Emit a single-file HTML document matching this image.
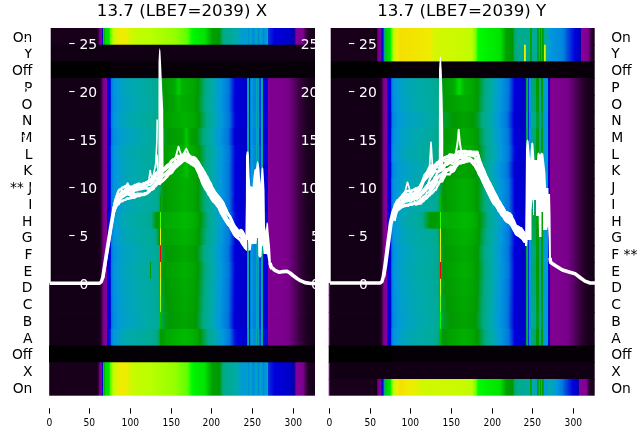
<!DOCTYPE html>
<html><head><meta charset="utf-8"><title>plot</title>
<style>html,body{margin:0;padding:0;background:#fff;overflow:hidden}svg{display:block}
text{font-family:"DejaVu Sans","Liberation Sans",sans-serif}</style></head>
<body><svg width="640" height="440" viewBox="0 0 640 440">
<defs><linearGradient id="g0"><stop offset="0.0000" stop-color="#7e008f"/><stop offset="0.0028" stop-color="#7e008f"/><stop offset="0.0038" stop-color="#770088"/><stop offset="0.0047" stop-color="#18001b"/><stop offset="0.1805" stop-color="#18001b"/><stop offset="0.1880" stop-color="#470052"/><stop offset="0.1898" stop-color="#6b007a"/><stop offset="0.1908" stop-color="#780089"/><stop offset="0.1983" stop-color="#880099"/><stop offset="0.1992" stop-color="#4a00a1"/><stop offset="0.2002" stop-color="#0000ab"/><stop offset="0.2011" stop-color="#0000c9"/><stop offset="0.2021" stop-color="#002add"/><stop offset="0.2030" stop-color="#007add"/><stop offset="0.2039" stop-color="#0094dd"/><stop offset="0.2049" stop-color="#00a6b7"/><stop offset="0.2058" stop-color="#00aa93"/><stop offset="0.2068" stop-color="#009f33"/><stop offset="0.2077" stop-color="#00a400"/><stop offset="0.2105" stop-color="#00dd00"/><stop offset="0.2256" stop-color="#00e400"/><stop offset="0.2274" stop-color="#00f800"/><stop offset="0.2284" stop-color="#13ff00"/><stop offset="0.2293" stop-color="#4bff00"/><stop offset="0.2406" stop-color="#bbff00"/><stop offset="0.2538" stop-color="#daf500"/><stop offset="0.2650" stop-color="#eeee00"/><stop offset="0.2838" stop-color="#f0eb00"/><stop offset="0.2876" stop-color="#eeee00"/><stop offset="0.3139" stop-color="#cafa00"/><stop offset="0.3402" stop-color="#c0fd00"/><stop offset="0.3778" stop-color="#bbff00"/><stop offset="0.4718" stop-color="#96ff00"/><stop offset="0.5207" stop-color="#5dff00"/><stop offset="0.5357" stop-color="#00ff00"/><stop offset="0.5470" stop-color="#00f100"/><stop offset="0.5846" stop-color="#00e400"/><stop offset="0.6147" stop-color="#00a000"/><stop offset="0.6410" stop-color="#009900"/><stop offset="0.6485" stop-color="#00a352"/><stop offset="0.6560" stop-color="#00aa88"/><stop offset="0.6861" stop-color="#00aa99"/><stop offset="0.7049" stop-color="#00aaaa"/><stop offset="0.7086" stop-color="#00a8af"/><stop offset="0.7256" stop-color="#009cd3"/><stop offset="0.7387" stop-color="#0099dd"/><stop offset="0.7425" stop-color="#00a3be"/><stop offset="0.7472" stop-color="#0098dd"/><stop offset="0.7500" stop-color="#008bdd"/><stop offset="0.7528" stop-color="#0098dd"/><stop offset="0.7575" stop-color="#00a3be"/><stop offset="0.7632" stop-color="#0099dd"/><stop offset="0.7688" stop-color="#0085dd"/><stop offset="0.7744" stop-color="#0099dd"/><stop offset="0.7801" stop-color="#00a3be"/><stop offset="0.7838" stop-color="#0099dd"/><stop offset="0.7876" stop-color="#0085dd"/><stop offset="0.7914" stop-color="#0099dd"/><stop offset="0.7951" stop-color="#00a3be"/><stop offset="0.8008" stop-color="#0099dd"/><stop offset="0.8064" stop-color="#0085dd"/><stop offset="0.8139" stop-color="#0099dd"/><stop offset="0.8214" stop-color="#00a3be"/><stop offset="0.8224" stop-color="#009ada"/><stop offset="0.8233" stop-color="#0088dd"/><stop offset="0.8242" stop-color="#0071dd"/><stop offset="0.8252" stop-color="#0030dd"/><stop offset="0.8477" stop-color="#0000dd"/><stop offset="0.9041" stop-color="#0000c9"/><stop offset="0.9211" stop-color="#0000aa"/><stop offset="0.9286" stop-color="#6d009c"/><stop offset="0.9305" stop-color="#83009a"/><stop offset="0.9314" stop-color="#870098"/><stop offset="0.9342" stop-color="#830094"/><stop offset="0.9492" stop-color="#800090"/><stop offset="0.9568" stop-color="#770088"/><stop offset="0.9662" stop-color="#3c0044"/><stop offset="0.9756" stop-color="#1d0021"/><stop offset="1.0000" stop-color="#18001c"/></linearGradient>
<linearGradient id="g1"><stop offset="0.0000" stop-color="#7a008b"/><stop offset="0.0028" stop-color="#7a008b"/><stop offset="0.0038" stop-color="#650073"/><stop offset="0.0047" stop-color="#110013"/><stop offset="1.0000" stop-color="#110013"/></linearGradient>
<linearGradient id="g2"><stop offset="0.0000" stop-color="#000000"/><stop offset="0.2293" stop-color="#000000"/><stop offset="0.2331" stop-color="#070008"/><stop offset="1.0000" stop-color="#070008"/></linearGradient>
<linearGradient id="g3"><stop offset="0.0000" stop-color="#7e008f"/><stop offset="0.0028" stop-color="#7e008f"/><stop offset="0.0038" stop-color="#750086"/><stop offset="0.0047" stop-color="#130016"/><stop offset="0.1880" stop-color="#130016"/><stop offset="0.1917" stop-color="#1d0021"/><stop offset="0.1955" stop-color="#2b0031"/><stop offset="0.1992" stop-color="#470052"/><stop offset="0.2030" stop-color="#770088"/><stop offset="0.2068" stop-color="#810092"/><stop offset="0.2105" stop-color="#860097"/><stop offset="0.2171" stop-color="#880099"/><stop offset="0.2190" stop-color="#0c00a8"/><stop offset="0.2199" stop-color="#0000b9"/><stop offset="0.2218" stop-color="#0000dd"/><stop offset="0.2303" stop-color="#0000dd"/><stop offset="0.2312" stop-color="#0018dd"/><stop offset="0.2340" stop-color="#0071dd"/><stop offset="0.2350" stop-color="#0079dd"/><stop offset="0.2425" stop-color="#0092dd"/><stop offset="0.2519" stop-color="#0099dd"/><stop offset="0.2801" stop-color="#00a3be"/><stop offset="0.3318" stop-color="#00aaaa"/><stop offset="0.3778" stop-color="#00aa9f"/><stop offset="0.4004" stop-color="#00aa96"/><stop offset="0.4107" stop-color="#00aa86"/><stop offset="0.4154" stop-color="#00a76d"/><stop offset="0.4267" stop-color="#009c1b"/><stop offset="0.4342" stop-color="#009900"/><stop offset="0.4690" stop-color="#00a800"/><stop offset="0.4737" stop-color="#00ae00"/><stop offset="0.4831" stop-color="#00c700"/><stop offset="0.4868" stop-color="#00cc00"/><stop offset="0.4906" stop-color="#00c900"/><stop offset="0.4991" stop-color="#00b600"/><stop offset="0.5038" stop-color="#00b000"/><stop offset="0.5395" stop-color="#00a800"/><stop offset="0.5611" stop-color="#009900"/><stop offset="0.5714" stop-color="#00a036"/><stop offset="0.5827" stop-color="#00a76d"/><stop offset="0.5902" stop-color="#00aa88"/><stop offset="0.5977" stop-color="#00aa8f"/><stop offset="0.6090" stop-color="#00aaa3"/><stop offset="0.6156" stop-color="#00aaab"/><stop offset="0.6466" stop-color="#0099dd"/><stop offset="0.6767" stop-color="#0077dd"/><stop offset="0.6992" stop-color="#0000dd"/><stop offset="0.7425" stop-color="#0000c9"/><stop offset="0.7434" stop-color="#0015dd"/><stop offset="0.7444" stop-color="#00aaa8"/><stop offset="0.7453" stop-color="#00a76d"/><stop offset="0.7491" stop-color="#00a76d"/><stop offset="0.7500" stop-color="#00aaa5"/><stop offset="0.7509" stop-color="#003edd"/><stop offset="0.7519" stop-color="#0000dd"/><stop offset="0.7556" stop-color="#0000dd"/><stop offset="0.7566" stop-color="#0018dd"/><stop offset="0.7575" stop-color="#007edd"/><stop offset="0.7585" stop-color="#0099dd"/><stop offset="0.7669" stop-color="#0099dd"/><stop offset="0.7688" stop-color="#0088dd"/><stop offset="0.7791" stop-color="#0088dd"/><stop offset="0.7801" stop-color="#00a7b2"/><stop offset="0.7810" stop-color="#00a76d"/><stop offset="0.7867" stop-color="#00a76d"/><stop offset="0.7876" stop-color="#00a0c9"/><stop offset="0.7885" stop-color="#0047dd"/><stop offset="0.7961" stop-color="#0047dd"/><stop offset="0.7970" stop-color="#009bd8"/><stop offset="0.7979" stop-color="#00aa96"/><stop offset="0.8036" stop-color="#00aa96"/><stop offset="0.8045" stop-color="#0092dd"/><stop offset="0.8055" stop-color="#0000dd"/><stop offset="0.8224" stop-color="#0000dd"/><stop offset="0.8233" stop-color="#0000cc"/><stop offset="0.8242" stop-color="#1700a7"/><stop offset="0.8252" stop-color="#880099"/><stop offset="0.8289" stop-color="#7f0090"/><stop offset="0.8665" stop-color="#7e008f"/><stop offset="0.9004" stop-color="#770088"/><stop offset="0.9492" stop-color="#300036"/><stop offset="0.9737" stop-color="#1a001e"/><stop offset="1.0000" stop-color="#140016"/></linearGradient>
<linearGradient id="g4"><stop offset="0.0000" stop-color="#7e008f"/><stop offset="0.0028" stop-color="#7e008f"/><stop offset="0.0038" stop-color="#750086"/><stop offset="0.0047" stop-color="#130016"/><stop offset="0.1880" stop-color="#130016"/><stop offset="0.1917" stop-color="#1d0021"/><stop offset="0.1955" stop-color="#2b0031"/><stop offset="0.1992" stop-color="#470052"/><stop offset="0.2030" stop-color="#770088"/><stop offset="0.2068" stop-color="#810092"/><stop offset="0.2105" stop-color="#860097"/><stop offset="0.2171" stop-color="#880099"/><stop offset="0.2190" stop-color="#1000a8"/><stop offset="0.2199" stop-color="#0000b7"/><stop offset="0.2218" stop-color="#0000db"/><stop offset="0.2303" stop-color="#0000db"/><stop offset="0.2312" stop-color="#0013dd"/><stop offset="0.2340" stop-color="#006bdd"/><stop offset="0.2350" stop-color="#0078dd"/><stop offset="0.2425" stop-color="#0090dd"/><stop offset="0.2547" stop-color="#0099dd"/><stop offset="0.2801" stop-color="#00a2c2"/><stop offset="0.3412" stop-color="#00aaaa"/><stop offset="0.3778" stop-color="#00aaa2"/><stop offset="0.4004" stop-color="#00aa98"/><stop offset="0.4126" stop-color="#00aa87"/><stop offset="0.4154" stop-color="#00a878"/><stop offset="0.4267" stop-color="#009e27"/><stop offset="0.4380" stop-color="#009900"/><stop offset="0.4690" stop-color="#00a300"/><stop offset="0.4878" stop-color="#00b500"/><stop offset="0.5019" stop-color="#00ac00"/><stop offset="0.5395" stop-color="#00a500"/><stop offset="0.5592" stop-color="#009901"/><stop offset="0.5714" stop-color="#00a142"/><stop offset="0.5827" stop-color="#00a878"/><stop offset="0.5874" stop-color="#00aa88"/><stop offset="0.5977" stop-color="#00aa91"/><stop offset="0.6090" stop-color="#00aaa6"/><stop offset="0.6128" stop-color="#00aaaa"/><stop offset="0.6447" stop-color="#0099dd"/><stop offset="0.6758" stop-color="#0075dd"/><stop offset="0.6983" stop-color="#0000dd"/><stop offset="0.7425" stop-color="#0000c7"/><stop offset="0.7434" stop-color="#0010dd"/><stop offset="0.7444" stop-color="#00aaab"/><stop offset="0.7453" stop-color="#00a878"/><stop offset="0.7491" stop-color="#00a878"/><stop offset="0.7500" stop-color="#00aaa7"/><stop offset="0.7509" stop-color="#0039dd"/><stop offset="0.7519" stop-color="#0000db"/><stop offset="0.7556" stop-color="#0000db"/><stop offset="0.7566" stop-color="#0013dd"/><stop offset="0.7575" stop-color="#007cdd"/><stop offset="0.7585" stop-color="#0097dd"/><stop offset="0.7669" stop-color="#0097dd"/><stop offset="0.7688" stop-color="#0086dd"/><stop offset="0.7791" stop-color="#0086dd"/><stop offset="0.7801" stop-color="#00a6b5"/><stop offset="0.7810" stop-color="#00a878"/><stop offset="0.7867" stop-color="#00a878"/><stop offset="0.7876" stop-color="#009fcc"/><stop offset="0.7885" stop-color="#0042dd"/><stop offset="0.7961" stop-color="#0042dd"/><stop offset="0.7970" stop-color="#009adb"/><stop offset="0.7979" stop-color="#00aa98"/><stop offset="0.8036" stop-color="#00aa98"/><stop offset="0.8045" stop-color="#0090dd"/><stop offset="0.8055" stop-color="#0000db"/><stop offset="0.8224" stop-color="#0000db"/><stop offset="0.8233" stop-color="#0000ca"/><stop offset="0.8242" stop-color="#1b00a7"/><stop offset="0.8252" stop-color="#880099"/><stop offset="0.8289" stop-color="#7f0090"/><stop offset="0.8665" stop-color="#7e008f"/><stop offset="0.9004" stop-color="#770088"/><stop offset="0.9492" stop-color="#300036"/><stop offset="0.9737" stop-color="#1a001e"/><stop offset="1.0000" stop-color="#140016"/></linearGradient>
<linearGradient id="g5"><stop offset="0.0000" stop-color="#7e008f"/><stop offset="0.0028" stop-color="#7e008f"/><stop offset="0.0038" stop-color="#750086"/><stop offset="0.0047" stop-color="#130016"/><stop offset="0.1880" stop-color="#130016"/><stop offset="0.1917" stop-color="#1d0021"/><stop offset="0.1955" stop-color="#2b0031"/><stop offset="0.1992" stop-color="#470052"/><stop offset="0.2030" stop-color="#770088"/><stop offset="0.2068" stop-color="#810092"/><stop offset="0.2105" stop-color="#860097"/><stop offset="0.2171" stop-color="#880099"/><stop offset="0.2190" stop-color="#0900a9"/><stop offset="0.2199" stop-color="#0000ba"/><stop offset="0.2209" stop-color="#0000cd"/><stop offset="0.2218" stop-color="#0005dd"/><stop offset="0.2303" stop-color="#0005dd"/><stop offset="0.2312" stop-color="#001ddd"/><stop offset="0.2340" stop-color="#0077dd"/><stop offset="0.2425" stop-color="#0094dd"/><stop offset="0.2491" stop-color="#0099dd"/><stop offset="0.2801" stop-color="#00a4bb"/><stop offset="0.3224" stop-color="#00aaaa"/><stop offset="0.3778" stop-color="#00aa9d"/><stop offset="0.4004" stop-color="#00aa93"/><stop offset="0.4088" stop-color="#00aa86"/><stop offset="0.4154" stop-color="#00a562"/><stop offset="0.4267" stop-color="#009b0f"/><stop offset="0.4314" stop-color="#009900"/><stop offset="0.4380" stop-color="#009f00"/><stop offset="0.4530" stop-color="#00a400"/><stop offset="0.5094" stop-color="#00b200"/><stop offset="0.5395" stop-color="#00ab00"/><stop offset="0.5583" stop-color="#00a000"/><stop offset="0.5630" stop-color="#009a00"/><stop offset="0.5639" stop-color="#009902"/><stop offset="0.5714" stop-color="#009e2b"/><stop offset="0.5827" stop-color="#00a562"/><stop offset="0.5930" stop-color="#00aa87"/><stop offset="0.5977" stop-color="#00aa8c"/><stop offset="0.6090" stop-color="#00aaa1"/><stop offset="0.6175" stop-color="#00aaaa"/><stop offset="0.6485" stop-color="#0099dd"/><stop offset="0.6776" stop-color="#0077dd"/><stop offset="0.6992" stop-color="#0005dd"/><stop offset="0.7030" stop-color="#0000dd"/><stop offset="0.7425" stop-color="#0000cb"/><stop offset="0.7434" stop-color="#001add"/><stop offset="0.7444" stop-color="#00aaa6"/><stop offset="0.7453" stop-color="#00a562"/><stop offset="0.7491" stop-color="#00a562"/><stop offset="0.7500" stop-color="#00aaa2"/><stop offset="0.7509" stop-color="#0044dd"/><stop offset="0.7519" stop-color="#0005dd"/><stop offset="0.7556" stop-color="#0005dd"/><stop offset="0.7566" stop-color="#001ddd"/><stop offset="0.7575" stop-color="#0080dd"/><stop offset="0.7585" stop-color="#009ada"/><stop offset="0.7669" stop-color="#009ada"/><stop offset="0.7688" stop-color="#008add"/><stop offset="0.7791" stop-color="#008add"/><stop offset="0.7801" stop-color="#00a9ae"/><stop offset="0.7810" stop-color="#00a562"/><stop offset="0.7867" stop-color="#00a562"/><stop offset="0.7876" stop-color="#00a1c5"/><stop offset="0.7885" stop-color="#004ddd"/><stop offset="0.7961" stop-color="#004ddd"/><stop offset="0.7970" stop-color="#009cd5"/><stop offset="0.7979" stop-color="#00aa93"/><stop offset="0.8036" stop-color="#00aa93"/><stop offset="0.8045" stop-color="#0094dd"/><stop offset="0.8055" stop-color="#0005dd"/><stop offset="0.8224" stop-color="#0005dd"/><stop offset="0.8233" stop-color="#0000ce"/><stop offset="0.8242" stop-color="#1300a8"/><stop offset="0.8252" stop-color="#880099"/><stop offset="0.8289" stop-color="#7f0090"/><stop offset="0.8665" stop-color="#7e008f"/><stop offset="0.9004" stop-color="#770088"/><stop offset="0.9492" stop-color="#300036"/><stop offset="0.9737" stop-color="#1a001e"/><stop offset="1.0000" stop-color="#140016"/></linearGradient>
<linearGradient id="g6"><stop offset="0.0000" stop-color="#7e008f"/><stop offset="0.0028" stop-color="#7e008f"/><stop offset="0.0038" stop-color="#750086"/><stop offset="0.0047" stop-color="#130016"/><stop offset="0.1880" stop-color="#130016"/><stop offset="0.1917" stop-color="#1d0021"/><stop offset="0.1955" stop-color="#2b0031"/><stop offset="0.1992" stop-color="#470052"/><stop offset="0.2030" stop-color="#770088"/><stop offset="0.2068" stop-color="#810092"/><stop offset="0.2105" stop-color="#860097"/><stop offset="0.2171" stop-color="#880099"/><stop offset="0.2180" stop-color="#5300a0"/><stop offset="0.2190" stop-color="#1600a7"/><stop offset="0.2199" stop-color="#0000b4"/><stop offset="0.2218" stop-color="#0000d8"/><stop offset="0.2303" stop-color="#0000d8"/><stop offset="0.2312" stop-color="#000bdd"/><stop offset="0.2340" stop-color="#0062dd"/><stop offset="0.2350" stop-color="#0071dd"/><stop offset="0.2359" stop-color="#0078dd"/><stop offset="0.2425" stop-color="#008ddd"/><stop offset="0.2585" stop-color="#0099dd"/><stop offset="0.2801" stop-color="#00a0c7"/><stop offset="0.3562" stop-color="#00aaaa"/><stop offset="0.3778" stop-color="#00aaa5"/><stop offset="0.4004" stop-color="#00aa9c"/><stop offset="0.4154" stop-color="#00aa88"/><stop offset="0.4267" stop-color="#00a039"/><stop offset="0.4380" stop-color="#009b11"/><stop offset="0.4521" stop-color="#009900"/><stop offset="0.5009" stop-color="#00a500"/><stop offset="0.5066" stop-color="#00ac00"/><stop offset="0.5141" stop-color="#00c400"/><stop offset="0.5169" stop-color="#00c700"/><stop offset="0.5197" stop-color="#00c200"/><stop offset="0.5254" stop-color="#00ae00"/><stop offset="0.5291" stop-color="#00a500"/><stop offset="0.5517" stop-color="#009900"/><stop offset="0.5583" stop-color="#009b0f"/><stop offset="0.5714" stop-color="#00a354"/><stop offset="0.5827" stop-color="#00aa88"/><stop offset="0.5977" stop-color="#00aa95"/><stop offset="0.6100" stop-color="#00aaaa"/><stop offset="0.6419" stop-color="#0099dd"/><stop offset="0.6729" stop-color="#0077dd"/><stop offset="0.6767" stop-color="#0068dd"/><stop offset="0.6964" stop-color="#0003dd"/><stop offset="0.6974" stop-color="#0000dc"/><stop offset="0.6992" stop-color="#0000d8"/><stop offset="0.7425" stop-color="#0000c4"/><stop offset="0.7434" stop-color="#0008dd"/><stop offset="0.7444" stop-color="#00a8b0"/><stop offset="0.7453" stop-color="#00aa88"/><stop offset="0.7491" stop-color="#00aa88"/><stop offset="0.7500" stop-color="#00aaab"/><stop offset="0.7509" stop-color="#0031dd"/><stop offset="0.7519" stop-color="#0000d8"/><stop offset="0.7556" stop-color="#0000d8"/><stop offset="0.7566" stop-color="#000bdd"/><stop offset="0.7575" stop-color="#0079dd"/><stop offset="0.7585" stop-color="#0094dd"/><stop offset="0.7669" stop-color="#0094dd"/><stop offset="0.7688" stop-color="#0083dd"/><stop offset="0.7791" stop-color="#0083dd"/><stop offset="0.7801" stop-color="#00a5ba"/><stop offset="0.7810" stop-color="#00aa88"/><stop offset="0.7867" stop-color="#00aa88"/><stop offset="0.7876" stop-color="#009dd1"/><stop offset="0.7885" stop-color="#003add"/><stop offset="0.7961" stop-color="#003add"/><stop offset="0.7970" stop-color="#0097dd"/><stop offset="0.7979" stop-color="#00aa9c"/><stop offset="0.8036" stop-color="#00aa9c"/><stop offset="0.8045" stop-color="#008ddd"/><stop offset="0.8055" stop-color="#0000d8"/><stop offset="0.8224" stop-color="#0000d8"/><stop offset="0.8233" stop-color="#0000c7"/><stop offset="0.8242" stop-color="#2000a6"/><stop offset="0.8252" stop-color="#880099"/><stop offset="0.8289" stop-color="#7f0090"/><stop offset="0.8665" stop-color="#7e008f"/><stop offset="0.9004" stop-color="#770088"/><stop offset="0.9492" stop-color="#300036"/><stop offset="0.9737" stop-color="#1a001e"/><stop offset="1.0000" stop-color="#140016"/></linearGradient>
<linearGradient id="g7"><stop offset="0.0000" stop-color="#7e008f"/><stop offset="0.0028" stop-color="#7e008f"/><stop offset="0.0038" stop-color="#750086"/><stop offset="0.0047" stop-color="#130016"/><stop offset="0.1880" stop-color="#130016"/><stop offset="0.1917" stop-color="#1d0021"/><stop offset="0.1955" stop-color="#2b0031"/><stop offset="0.1992" stop-color="#470052"/><stop offset="0.2030" stop-color="#770088"/><stop offset="0.2068" stop-color="#810092"/><stop offset="0.2105" stop-color="#860097"/><stop offset="0.2171" stop-color="#880099"/><stop offset="0.2190" stop-color="#0900a9"/><stop offset="0.2199" stop-color="#0000ba"/><stop offset="0.2209" stop-color="#0000cd"/><stop offset="0.2218" stop-color="#0005dd"/><stop offset="0.2303" stop-color="#0005dd"/><stop offset="0.2312" stop-color="#001ddd"/><stop offset="0.2340" stop-color="#0077dd"/><stop offset="0.2425" stop-color="#0094dd"/><stop offset="0.2491" stop-color="#0099dd"/><stop offset="0.2801" stop-color="#00a4bb"/><stop offset="0.3224" stop-color="#00aaaa"/><stop offset="0.3778" stop-color="#00aa9d"/><stop offset="0.4004" stop-color="#00aa93"/><stop offset="0.4088" stop-color="#00aa86"/><stop offset="0.4154" stop-color="#00a562"/><stop offset="0.4267" stop-color="#009b0f"/><stop offset="0.4314" stop-color="#009900"/><stop offset="0.4380" stop-color="#009f00"/><stop offset="0.5019" stop-color="#00b100"/><stop offset="0.5066" stop-color="#00b700"/><stop offset="0.5141" stop-color="#00c900"/><stop offset="0.5169" stop-color="#00cc00"/><stop offset="0.5197" stop-color="#00c800"/><stop offset="0.5263" stop-color="#00b500"/><stop offset="0.5301" stop-color="#00af00"/><stop offset="0.5583" stop-color="#00a000"/><stop offset="0.5630" stop-color="#009a00"/><stop offset="0.5639" stop-color="#009902"/><stop offset="0.5714" stop-color="#009e2b"/><stop offset="0.5827" stop-color="#00a562"/><stop offset="0.5930" stop-color="#00aa87"/><stop offset="0.5977" stop-color="#00aa8c"/><stop offset="0.6090" stop-color="#00aaa1"/><stop offset="0.6175" stop-color="#00aaaa"/><stop offset="0.6485" stop-color="#0099dd"/><stop offset="0.6776" stop-color="#0077dd"/><stop offset="0.6992" stop-color="#0005dd"/><stop offset="0.7030" stop-color="#0000dd"/><stop offset="0.7425" stop-color="#0000cb"/><stop offset="0.7434" stop-color="#001add"/><stop offset="0.7444" stop-color="#00aaa6"/><stop offset="0.7453" stop-color="#00a562"/><stop offset="0.7491" stop-color="#00a562"/><stop offset="0.7500" stop-color="#00aaa2"/><stop offset="0.7509" stop-color="#0044dd"/><stop offset="0.7519" stop-color="#0005dd"/><stop offset="0.7556" stop-color="#0005dd"/><stop offset="0.7566" stop-color="#001ddd"/><stop offset="0.7575" stop-color="#0080dd"/><stop offset="0.7585" stop-color="#009ada"/><stop offset="0.7669" stop-color="#009ada"/><stop offset="0.7688" stop-color="#008add"/><stop offset="0.7791" stop-color="#008add"/><stop offset="0.7801" stop-color="#00a9ae"/><stop offset="0.7810" stop-color="#00a562"/><stop offset="0.7867" stop-color="#00a562"/><stop offset="0.7876" stop-color="#00a1c5"/><stop offset="0.7885" stop-color="#004ddd"/><stop offset="0.7961" stop-color="#004ddd"/><stop offset="0.7970" stop-color="#009cd5"/><stop offset="0.7979" stop-color="#00aa93"/><stop offset="0.8036" stop-color="#00aa93"/><stop offset="0.8045" stop-color="#0094dd"/><stop offset="0.8055" stop-color="#0005dd"/><stop offset="0.8224" stop-color="#0005dd"/><stop offset="0.8233" stop-color="#0000ce"/><stop offset="0.8242" stop-color="#1300a8"/><stop offset="0.8252" stop-color="#880099"/><stop offset="0.8289" stop-color="#7f0090"/><stop offset="0.8665" stop-color="#7e008f"/><stop offset="0.9004" stop-color="#770088"/><stop offset="0.9492" stop-color="#300036"/><stop offset="0.9737" stop-color="#1a001e"/><stop offset="1.0000" stop-color="#140016"/></linearGradient>
<linearGradient id="g8"><stop offset="0.0000" stop-color="#7e008f"/><stop offset="0.0028" stop-color="#7e008f"/><stop offset="0.0038" stop-color="#750086"/><stop offset="0.0047" stop-color="#130016"/><stop offset="0.1880" stop-color="#130016"/><stop offset="0.1917" stop-color="#1d0021"/><stop offset="0.1955" stop-color="#2b0031"/><stop offset="0.1992" stop-color="#470052"/><stop offset="0.2030" stop-color="#770088"/><stop offset="0.2068" stop-color="#810092"/><stop offset="0.2105" stop-color="#860097"/><stop offset="0.2171" stop-color="#880099"/><stop offset="0.2190" stop-color="#0c00a8"/><stop offset="0.2199" stop-color="#0000b9"/><stop offset="0.2218" stop-color="#0000dd"/><stop offset="0.2303" stop-color="#0000dd"/><stop offset="0.2312" stop-color="#0018dd"/><stop offset="0.2340" stop-color="#0071dd"/><stop offset="0.2350" stop-color="#0079dd"/><stop offset="0.2425" stop-color="#0092dd"/><stop offset="0.2519" stop-color="#0099dd"/><stop offset="0.2801" stop-color="#00a3be"/><stop offset="0.3318" stop-color="#00aaaa"/><stop offset="0.3778" stop-color="#00aa9f"/><stop offset="0.4004" stop-color="#00aa96"/><stop offset="0.4107" stop-color="#00aa86"/><stop offset="0.4154" stop-color="#00a76d"/><stop offset="0.4267" stop-color="#009c1b"/><stop offset="0.4342" stop-color="#009900"/><stop offset="0.4530" stop-color="#00a100"/><stop offset="0.5019" stop-color="#00ae00"/><stop offset="0.5169" stop-color="#00c100"/><stop offset="0.5291" stop-color="#00ac00"/><stop offset="0.5583" stop-color="#009d00"/><stop offset="0.5611" stop-color="#009900"/><stop offset="0.5714" stop-color="#00a036"/><stop offset="0.5827" stop-color="#00a76d"/><stop offset="0.5902" stop-color="#00aa88"/><stop offset="0.5977" stop-color="#00aa8f"/><stop offset="0.6090" stop-color="#00aaa3"/><stop offset="0.6156" stop-color="#00aaab"/><stop offset="0.6466" stop-color="#0099dd"/><stop offset="0.6767" stop-color="#0077dd"/><stop offset="0.6992" stop-color="#0000dd"/><stop offset="0.7425" stop-color="#0000c9"/><stop offset="0.7434" stop-color="#0015dd"/><stop offset="0.7444" stop-color="#00aaa8"/><stop offset="0.7453" stop-color="#00a76d"/><stop offset="0.7491" stop-color="#00a76d"/><stop offset="0.7500" stop-color="#00aaa5"/><stop offset="0.7509" stop-color="#003edd"/><stop offset="0.7519" stop-color="#0000dd"/><stop offset="0.7556" stop-color="#0000dd"/><stop offset="0.7566" stop-color="#0018dd"/><stop offset="0.7575" stop-color="#007edd"/><stop offset="0.7585" stop-color="#0099dd"/><stop offset="0.7669" stop-color="#0099dd"/><stop offset="0.7688" stop-color="#0088dd"/><stop offset="0.7791" stop-color="#0088dd"/><stop offset="0.7801" stop-color="#00a7b2"/><stop offset="0.7810" stop-color="#00a76d"/><stop offset="0.7867" stop-color="#00a76d"/><stop offset="0.7876" stop-color="#00a0c9"/><stop offset="0.7885" stop-color="#0047dd"/><stop offset="0.7961" stop-color="#0047dd"/><stop offset="0.7970" stop-color="#009bd8"/><stop offset="0.7979" stop-color="#00aa96"/><stop offset="0.8036" stop-color="#00aa96"/><stop offset="0.8045" stop-color="#0092dd"/><stop offset="0.8055" stop-color="#0000dd"/><stop offset="0.8224" stop-color="#0000dd"/><stop offset="0.8233" stop-color="#0000cc"/><stop offset="0.8242" stop-color="#1700a7"/><stop offset="0.8252" stop-color="#880099"/><stop offset="0.8289" stop-color="#7f0090"/><stop offset="0.8665" stop-color="#7e008f"/><stop offset="0.9004" stop-color="#770088"/><stop offset="0.9492" stop-color="#300036"/><stop offset="0.9737" stop-color="#1a001e"/><stop offset="1.0000" stop-color="#140016"/></linearGradient>
<linearGradient id="g9"><stop offset="0.0000" stop-color="#7e008f"/><stop offset="0.0028" stop-color="#7e008f"/><stop offset="0.0038" stop-color="#750086"/><stop offset="0.0047" stop-color="#130016"/><stop offset="0.1880" stop-color="#130016"/><stop offset="0.1917" stop-color="#1d0021"/><stop offset="0.1955" stop-color="#2b0031"/><stop offset="0.1992" stop-color="#470052"/><stop offset="0.2030" stop-color="#770088"/><stop offset="0.2068" stop-color="#810092"/><stop offset="0.2105" stop-color="#860097"/><stop offset="0.2171" stop-color="#880099"/><stop offset="0.2190" stop-color="#0c00a8"/><stop offset="0.2199" stop-color="#0000b9"/><stop offset="0.2218" stop-color="#0000dd"/><stop offset="0.2303" stop-color="#0000dd"/><stop offset="0.2312" stop-color="#0018dd"/><stop offset="0.2340" stop-color="#0071dd"/><stop offset="0.2350" stop-color="#0079dd"/><stop offset="0.2425" stop-color="#0092dd"/><stop offset="0.2519" stop-color="#0099dd"/><stop offset="0.2801" stop-color="#00a3be"/><stop offset="0.3318" stop-color="#00aaaa"/><stop offset="0.3778" stop-color="#00aa9f"/><stop offset="0.4004" stop-color="#00aa96"/><stop offset="0.4107" stop-color="#00aa86"/><stop offset="0.4154" stop-color="#00a76d"/><stop offset="0.4267" stop-color="#009c1b"/><stop offset="0.4342" stop-color="#009900"/><stop offset="0.4530" stop-color="#00a100"/><stop offset="0.5094" stop-color="#00af00"/><stop offset="0.5395" stop-color="#00a800"/><stop offset="0.5611" stop-color="#009900"/><stop offset="0.5714" stop-color="#00a036"/><stop offset="0.5827" stop-color="#00a76d"/><stop offset="0.5902" stop-color="#00aa88"/><stop offset="0.5977" stop-color="#00aa8f"/><stop offset="0.6090" stop-color="#00aaa3"/><stop offset="0.6156" stop-color="#00aaab"/><stop offset="0.6466" stop-color="#0099dd"/><stop offset="0.6767" stop-color="#0077dd"/><stop offset="0.6992" stop-color="#0000dd"/><stop offset="0.7425" stop-color="#0000c9"/><stop offset="0.7434" stop-color="#0015dd"/><stop offset="0.7444" stop-color="#00aaa8"/><stop offset="0.7453" stop-color="#00a76d"/><stop offset="0.7491" stop-color="#00a76d"/><stop offset="0.7500" stop-color="#00aaa5"/><stop offset="0.7509" stop-color="#003edd"/><stop offset="0.7519" stop-color="#0000dd"/><stop offset="0.7556" stop-color="#0000dd"/><stop offset="0.7566" stop-color="#0018dd"/><stop offset="0.7575" stop-color="#007edd"/><stop offset="0.7585" stop-color="#0099dd"/><stop offset="0.7669" stop-color="#0099dd"/><stop offset="0.7688" stop-color="#0088dd"/><stop offset="0.7791" stop-color="#0088dd"/><stop offset="0.7801" stop-color="#00a7b2"/><stop offset="0.7810" stop-color="#00a76d"/><stop offset="0.7867" stop-color="#00a76d"/><stop offset="0.7876" stop-color="#00a0c9"/><stop offset="0.7885" stop-color="#0047dd"/><stop offset="0.7961" stop-color="#0047dd"/><stop offset="0.7970" stop-color="#009bd8"/><stop offset="0.7979" stop-color="#00aa96"/><stop offset="0.8036" stop-color="#00aa96"/><stop offset="0.8045" stop-color="#0092dd"/><stop offset="0.8055" stop-color="#0000dd"/><stop offset="0.8224" stop-color="#0000dd"/><stop offset="0.8233" stop-color="#0000cc"/><stop offset="0.8242" stop-color="#1700a7"/><stop offset="0.8252" stop-color="#880099"/><stop offset="0.8289" stop-color="#7f0090"/><stop offset="0.8665" stop-color="#7e008f"/><stop offset="0.9004" stop-color="#770088"/><stop offset="0.9492" stop-color="#300036"/><stop offset="0.9737" stop-color="#1a001e"/><stop offset="1.0000" stop-color="#140016"/></linearGradient>
<linearGradient id="g10"><stop offset="0.0000" stop-color="#7e008f"/><stop offset="0.0028" stop-color="#7e008f"/><stop offset="0.0038" stop-color="#750086"/><stop offset="0.0047" stop-color="#130016"/><stop offset="0.1880" stop-color="#130016"/><stop offset="0.1917" stop-color="#1d0021"/><stop offset="0.1955" stop-color="#2b0031"/><stop offset="0.1992" stop-color="#470052"/><stop offset="0.2030" stop-color="#770088"/><stop offset="0.2068" stop-color="#810092"/><stop offset="0.2105" stop-color="#860097"/><stop offset="0.2171" stop-color="#880099"/><stop offset="0.2190" stop-color="#0c00a8"/><stop offset="0.2199" stop-color="#0000b9"/><stop offset="0.2218" stop-color="#0000dd"/><stop offset="0.2303" stop-color="#0000dd"/><stop offset="0.2312" stop-color="#0018dd"/><stop offset="0.2340" stop-color="#0071dd"/><stop offset="0.2350" stop-color="#0079dd"/><stop offset="0.2425" stop-color="#0092dd"/><stop offset="0.2519" stop-color="#0099dd"/><stop offset="0.2801" stop-color="#00a3be"/><stop offset="0.3318" stop-color="#00aaaa"/><stop offset="0.3778" stop-color="#00aa9f"/><stop offset="0.4004" stop-color="#00aa96"/><stop offset="0.4107" stop-color="#00aa86"/><stop offset="0.4154" stop-color="#00a76d"/><stop offset="0.4173" stop-color="#00a55f"/><stop offset="0.4182" stop-color="#009900"/><stop offset="0.4220" stop-color="#009900"/><stop offset="0.4229" stop-color="#00a036"/><stop offset="0.4267" stop-color="#009c1b"/><stop offset="0.4342" stop-color="#009900"/><stop offset="0.4530" stop-color="#00a100"/><stop offset="0.5094" stop-color="#00af00"/><stop offset="0.5395" stop-color="#00a800"/><stop offset="0.5611" stop-color="#009900"/><stop offset="0.5714" stop-color="#00a036"/><stop offset="0.5827" stop-color="#00a76d"/><stop offset="0.5902" stop-color="#00aa88"/><stop offset="0.5977" stop-color="#00aa8f"/><stop offset="0.6090" stop-color="#00aaa3"/><stop offset="0.6156" stop-color="#00aaab"/><stop offset="0.6466" stop-color="#0099dd"/><stop offset="0.6767" stop-color="#0077dd"/><stop offset="0.6992" stop-color="#0000dd"/><stop offset="0.7425" stop-color="#0000c9"/><stop offset="0.7434" stop-color="#0015dd"/><stop offset="0.7444" stop-color="#00aaa8"/><stop offset="0.7453" stop-color="#00a76d"/><stop offset="0.7491" stop-color="#00a76d"/><stop offset="0.7500" stop-color="#00aaa5"/><stop offset="0.7509" stop-color="#003edd"/><stop offset="0.7519" stop-color="#0000dd"/><stop offset="0.7556" stop-color="#0000dd"/><stop offset="0.7566" stop-color="#0018dd"/><stop offset="0.7575" stop-color="#007edd"/><stop offset="0.7585" stop-color="#0099dd"/><stop offset="0.7669" stop-color="#0099dd"/><stop offset="0.7688" stop-color="#0088dd"/><stop offset="0.7791" stop-color="#0088dd"/><stop offset="0.7801" stop-color="#00a7b2"/><stop offset="0.7810" stop-color="#00a76d"/><stop offset="0.7867" stop-color="#00a76d"/><stop offset="0.7876" stop-color="#00a0c9"/><stop offset="0.7885" stop-color="#0047dd"/><stop offset="0.7961" stop-color="#0047dd"/><stop offset="0.7970" stop-color="#009bd8"/><stop offset="0.7979" stop-color="#00aa96"/><stop offset="0.8036" stop-color="#00aa96"/><stop offset="0.8045" stop-color="#0092dd"/><stop offset="0.8055" stop-color="#0000dd"/><stop offset="0.8224" stop-color="#0000dd"/><stop offset="0.8233" stop-color="#0000cc"/><stop offset="0.8242" stop-color="#1700a7"/><stop offset="0.8252" stop-color="#880099"/><stop offset="0.8289" stop-color="#7f0090"/><stop offset="0.8665" stop-color="#7e008f"/><stop offset="0.9004" stop-color="#770088"/><stop offset="0.9492" stop-color="#300036"/><stop offset="0.9737" stop-color="#1a001e"/><stop offset="1.0000" stop-color="#140016"/></linearGradient>
<linearGradient id="g11"><stop offset="0.0000" stop-color="#7e008f"/><stop offset="0.0028" stop-color="#7e008f"/><stop offset="0.0038" stop-color="#750086"/><stop offset="0.0047" stop-color="#130016"/><stop offset="0.1880" stop-color="#130016"/><stop offset="0.1917" stop-color="#1d0021"/><stop offset="0.1955" stop-color="#2b0031"/><stop offset="0.1992" stop-color="#470052"/><stop offset="0.2030" stop-color="#770088"/><stop offset="0.2068" stop-color="#810092"/><stop offset="0.2105" stop-color="#860097"/><stop offset="0.2171" stop-color="#880099"/><stop offset="0.2180" stop-color="#4100a2"/><stop offset="0.2190" stop-color="#0100aa"/><stop offset="0.2209" stop-color="#0000d0"/><stop offset="0.2218" stop-color="#000edd"/><stop offset="0.2303" stop-color="#000edd"/><stop offset="0.2312" stop-color="#0027dd"/><stop offset="0.2331" stop-color="#0064dd"/><stop offset="0.2340" stop-color="#007add"/><stop offset="0.2425" stop-color="#0098dd"/><stop offset="0.2434" stop-color="#0099dd"/><stop offset="0.2801" stop-color="#00a7b4"/><stop offset="0.3045" stop-color="#00aaaa"/><stop offset="0.3647" stop-color="#00aa9a"/><stop offset="0.3797" stop-color="#00aa8f"/><stop offset="0.3844" stop-color="#00aa89"/><stop offset="0.3853" stop-color="#00aa85"/><stop offset="0.3957" stop-color="#00a13c"/><stop offset="0.4004" stop-color="#009d21"/><stop offset="0.4041" stop-color="#009903"/><stop offset="0.4051" stop-color="#009a00"/><stop offset="0.4173" stop-color="#00a300"/><stop offset="0.4182" stop-color="#4bff00"/><stop offset="0.4220" stop-color="#4bff00"/><stop offset="0.4229" stop-color="#00a600"/><stop offset="0.5094" stop-color="#00b900"/><stop offset="0.5395" stop-color="#00b200"/><stop offset="0.5583" stop-color="#00a600"/><stop offset="0.5677" stop-color="#009900"/><stop offset="0.5827" stop-color="#00a24b"/><stop offset="0.5987" stop-color="#00aa89"/><stop offset="0.6090" stop-color="#00aa9c"/><stop offset="0.6222" stop-color="#00aaab"/><stop offset="0.6523" stop-color="#0099dd"/><stop offset="0.6795" stop-color="#0078dd"/><stop offset="0.6992" stop-color="#000edd"/><stop offset="0.7115" stop-color="#0000dd"/><stop offset="0.7425" stop-color="#0000ce"/><stop offset="0.7434" stop-color="#0024dd"/><stop offset="0.7444" stop-color="#00aaa1"/><stop offset="0.7453" stop-color="#00a24b"/><stop offset="0.7491" stop-color="#00a24b"/><stop offset="0.7500" stop-color="#00aa9e"/><stop offset="0.7509" stop-color="#004fdd"/><stop offset="0.7519" stop-color="#000edd"/><stop offset="0.7556" stop-color="#000edd"/><stop offset="0.7566" stop-color="#0027dd"/><stop offset="0.7575" stop-color="#0083dd"/><stop offset="0.7585" stop-color="#009cd4"/><stop offset="0.7669" stop-color="#009cd4"/><stop offset="0.7679" stop-color="#0096dd"/><stop offset="0.7688" stop-color="#008edd"/><stop offset="0.7791" stop-color="#008edd"/><stop offset="0.7801" stop-color="#00aaa8"/><stop offset="0.7810" stop-color="#00a24b"/><stop offset="0.7867" stop-color="#00a24b"/><stop offset="0.7876" stop-color="#00a3bf"/><stop offset="0.7885" stop-color="#0058dd"/><stop offset="0.7961" stop-color="#0058dd"/><stop offset="0.7970" stop-color="#009ecf"/><stop offset="0.7979" stop-color="#00aa8e"/><stop offset="0.8036" stop-color="#00aa8e"/><stop offset="0.8045" stop-color="#0098dd"/><stop offset="0.8055" stop-color="#000edd"/><stop offset="0.8224" stop-color="#000edd"/><stop offset="0.8233" stop-color="#0000d2"/><stop offset="0.8242" stop-color="#0b00a9"/><stop offset="0.8252" stop-color="#880099"/><stop offset="0.8289" stop-color="#7f0090"/><stop offset="0.8665" stop-color="#7e008f"/><stop offset="0.9004" stop-color="#770088"/><stop offset="0.9492" stop-color="#300036"/><stop offset="0.9737" stop-color="#1a001e"/><stop offset="1.0000" stop-color="#140016"/></linearGradient>
<linearGradient id="g12"><stop offset="0.0000" stop-color="#7e008f"/><stop offset="0.0028" stop-color="#7e008f"/><stop offset="0.0038" stop-color="#750086"/><stop offset="0.0047" stop-color="#130016"/><stop offset="0.1880" stop-color="#130016"/><stop offset="0.1917" stop-color="#1d0021"/><stop offset="0.1955" stop-color="#2b0031"/><stop offset="0.1992" stop-color="#470052"/><stop offset="0.2030" stop-color="#770088"/><stop offset="0.2068" stop-color="#810092"/><stop offset="0.2105" stop-color="#860097"/><stop offset="0.2171" stop-color="#880099"/><stop offset="0.2190" stop-color="#0900a9"/><stop offset="0.2199" stop-color="#0000ba"/><stop offset="0.2209" stop-color="#0000cd"/><stop offset="0.2218" stop-color="#0005dd"/><stop offset="0.2303" stop-color="#0005dd"/><stop offset="0.2312" stop-color="#001ddd"/><stop offset="0.2340" stop-color="#0077dd"/><stop offset="0.2425" stop-color="#0094dd"/><stop offset="0.2491" stop-color="#0099dd"/><stop offset="0.2801" stop-color="#00a4bb"/><stop offset="0.3224" stop-color="#00aaaa"/><stop offset="0.3778" stop-color="#00aa9d"/><stop offset="0.3910" stop-color="#00aa96"/><stop offset="0.4004" stop-color="#00aa8c"/><stop offset="0.4023" stop-color="#00aa88"/><stop offset="0.4107" stop-color="#00a037"/><stop offset="0.4173" stop-color="#009902"/><stop offset="0.4182" stop-color="#eeee00"/><stop offset="0.4220" stop-color="#eeee00"/><stop offset="0.4229" stop-color="#00a000"/><stop offset="0.4267" stop-color="#00a400"/><stop offset="0.4474" stop-color="#00a300"/><stop offset="0.5094" stop-color="#00b200"/><stop offset="0.5395" stop-color="#00ab00"/><stop offset="0.5583" stop-color="#00a000"/><stop offset="0.5630" stop-color="#009a00"/><stop offset="0.5639" stop-color="#009902"/><stop offset="0.5714" stop-color="#009e2b"/><stop offset="0.5827" stop-color="#00a562"/><stop offset="0.5930" stop-color="#00aa87"/><stop offset="0.5977" stop-color="#00aa8c"/><stop offset="0.6090" stop-color="#00aaa1"/><stop offset="0.6175" stop-color="#00aaaa"/><stop offset="0.6485" stop-color="#0099dd"/><stop offset="0.6776" stop-color="#0077dd"/><stop offset="0.6992" stop-color="#0005dd"/><stop offset="0.7030" stop-color="#0000dd"/><stop offset="0.7425" stop-color="#0000cb"/><stop offset="0.7434" stop-color="#001add"/><stop offset="0.7444" stop-color="#00aaa6"/><stop offset="0.7453" stop-color="#00a562"/><stop offset="0.7491" stop-color="#00a562"/><stop offset="0.7500" stop-color="#00aaa2"/><stop offset="0.7509" stop-color="#0044dd"/><stop offset="0.7519" stop-color="#0005dd"/><stop offset="0.7556" stop-color="#0005dd"/><stop offset="0.7566" stop-color="#001ddd"/><stop offset="0.7575" stop-color="#0080dd"/><stop offset="0.7585" stop-color="#009ada"/><stop offset="0.7669" stop-color="#009ada"/><stop offset="0.7688" stop-color="#008add"/><stop offset="0.7791" stop-color="#008add"/><stop offset="0.7801" stop-color="#00a9ae"/><stop offset="0.7810" stop-color="#00a562"/><stop offset="0.7867" stop-color="#00a562"/><stop offset="0.7876" stop-color="#00a1c5"/><stop offset="0.7885" stop-color="#004ddd"/><stop offset="0.7961" stop-color="#004ddd"/><stop offset="0.7970" stop-color="#009cd5"/><stop offset="0.7979" stop-color="#00aa93"/><stop offset="0.8036" stop-color="#00aa93"/><stop offset="0.8045" stop-color="#0094dd"/><stop offset="0.8055" stop-color="#0005dd"/><stop offset="0.8224" stop-color="#0005dd"/><stop offset="0.8233" stop-color="#0000ce"/><stop offset="0.8242" stop-color="#1300a8"/><stop offset="0.8252" stop-color="#880099"/><stop offset="0.8289" stop-color="#7f0090"/><stop offset="0.8665" stop-color="#7e008f"/><stop offset="0.9004" stop-color="#770088"/><stop offset="0.9492" stop-color="#300036"/><stop offset="0.9737" stop-color="#1a001e"/><stop offset="1.0000" stop-color="#140016"/></linearGradient>
<linearGradient id="g13"><stop offset="0.0000" stop-color="#7e008f"/><stop offset="0.0028" stop-color="#7e008f"/><stop offset="0.0038" stop-color="#750086"/><stop offset="0.0047" stop-color="#130016"/><stop offset="0.1880" stop-color="#130016"/><stop offset="0.1917" stop-color="#1d0021"/><stop offset="0.1955" stop-color="#2b0031"/><stop offset="0.1992" stop-color="#470052"/><stop offset="0.2030" stop-color="#770088"/><stop offset="0.2068" stop-color="#810092"/><stop offset="0.2105" stop-color="#860097"/><stop offset="0.2171" stop-color="#880099"/><stop offset="0.2180" stop-color="#5100a0"/><stop offset="0.2190" stop-color="#1400a7"/><stop offset="0.2199" stop-color="#0000b5"/><stop offset="0.2218" stop-color="#0000d9"/><stop offset="0.2303" stop-color="#0000d9"/><stop offset="0.2312" stop-color="#000edd"/><stop offset="0.2340" stop-color="#0065dd"/><stop offset="0.2350" stop-color="#0074dd"/><stop offset="0.2359" stop-color="#0079dd"/><stop offset="0.2425" stop-color="#008edd"/><stop offset="0.2575" stop-color="#0099dd"/><stop offset="0.2801" stop-color="#00a1c5"/><stop offset="0.3506" stop-color="#00aaaa"/><stop offset="0.3778" stop-color="#00aaa4"/><stop offset="0.4004" stop-color="#00aa9b"/><stop offset="0.4145" stop-color="#00aa88"/><stop offset="0.4173" stop-color="#00a876"/><stop offset="0.4182" stop-color="#f80000"/><stop offset="0.4220" stop-color="#f80000"/><stop offset="0.4229" stop-color="#00a34e"/><stop offset="0.4267" stop-color="#009f33"/><stop offset="0.4380" stop-color="#009a0b"/><stop offset="0.4474" stop-color="#009900"/><stop offset="0.5094" stop-color="#00a800"/><stop offset="0.5395" stop-color="#00a200"/><stop offset="0.5545" stop-color="#009900"/><stop offset="0.5583" stop-color="#009a08"/><stop offset="0.5714" stop-color="#00a34e"/><stop offset="0.5827" stop-color="#00a983"/><stop offset="0.5846" stop-color="#00aa88"/><stop offset="0.5977" stop-color="#00aa94"/><stop offset="0.6109" stop-color="#00aaaa"/><stop offset="0.6429" stop-color="#0099dd"/><stop offset="0.6654" stop-color="#0081dd"/><stop offset="0.6739" stop-color="#0077dd"/><stop offset="0.6767" stop-color="#006bdd"/><stop offset="0.6974" stop-color="#0000dd"/><stop offset="0.6983" stop-color="#0000db"/><stop offset="0.7425" stop-color="#0000c5"/><stop offset="0.7434" stop-color="#000bdd"/><stop offset="0.7444" stop-color="#00a8af"/><stop offset="0.7453" stop-color="#00a983"/><stop offset="0.7491" stop-color="#00a983"/><stop offset="0.7500" stop-color="#00aaaa"/><stop offset="0.7509" stop-color="#0034dd"/><stop offset="0.7519" stop-color="#0000d9"/><stop offset="0.7556" stop-color="#0000d9"/><stop offset="0.7566" stop-color="#000edd"/><stop offset="0.7575" stop-color="#007add"/><stop offset="0.7585" stop-color="#0095dd"/><stop offset="0.7669" stop-color="#0095dd"/><stop offset="0.7688" stop-color="#0084dd"/><stop offset="0.7791" stop-color="#0084dd"/><stop offset="0.7801" stop-color="#00a5b9"/><stop offset="0.7810" stop-color="#00a983"/><stop offset="0.7867" stop-color="#00a983"/><stop offset="0.7876" stop-color="#009ecf"/><stop offset="0.7885" stop-color="#003cdd"/><stop offset="0.7961" stop-color="#003cdd"/><stop offset="0.7970" stop-color="#0098dd"/><stop offset="0.7979" stop-color="#00aa9b"/><stop offset="0.8036" stop-color="#00aa9b"/><stop offset="0.8045" stop-color="#008edd"/><stop offset="0.8055" stop-color="#0000d9"/><stop offset="0.8224" stop-color="#0000d9"/><stop offset="0.8233" stop-color="#0000c8"/><stop offset="0.8242" stop-color="#1e00a6"/><stop offset="0.8252" stop-color="#880099"/><stop offset="0.8289" stop-color="#7f0090"/><stop offset="0.8665" stop-color="#7e008f"/><stop offset="0.9004" stop-color="#770088"/><stop offset="0.9492" stop-color="#300036"/><stop offset="0.9737" stop-color="#1a001e"/><stop offset="1.0000" stop-color="#140016"/></linearGradient>
<linearGradient id="g14"><stop offset="0.0000" stop-color="#7e008f"/><stop offset="0.0028" stop-color="#7e008f"/><stop offset="0.0038" stop-color="#750086"/><stop offset="0.0047" stop-color="#130016"/><stop offset="0.1880" stop-color="#130016"/><stop offset="0.1917" stop-color="#1d0021"/><stop offset="0.1955" stop-color="#2b0031"/><stop offset="0.1992" stop-color="#470052"/><stop offset="0.2030" stop-color="#770088"/><stop offset="0.2068" stop-color="#810092"/><stop offset="0.2105" stop-color="#860097"/><stop offset="0.2171" stop-color="#880099"/><stop offset="0.2190" stop-color="#0c00a8"/><stop offset="0.2199" stop-color="#0000b9"/><stop offset="0.2218" stop-color="#0000dd"/><stop offset="0.2303" stop-color="#0000dd"/><stop offset="0.2312" stop-color="#0018dd"/><stop offset="0.2340" stop-color="#0071dd"/><stop offset="0.2350" stop-color="#0079dd"/><stop offset="0.2425" stop-color="#0092dd"/><stop offset="0.2519" stop-color="#0099dd"/><stop offset="0.2801" stop-color="#00a3be"/><stop offset="0.3318" stop-color="#00aaaa"/><stop offset="0.3797" stop-color="#00aa9e"/><stop offset="0.3806" stop-color="#009900"/><stop offset="0.3825" stop-color="#009900"/><stop offset="0.3835" stop-color="#00aa9d"/><stop offset="0.4004" stop-color="#00aa96"/><stop offset="0.4098" stop-color="#00aa89"/><stop offset="0.4107" stop-color="#00aa86"/><stop offset="0.4154" stop-color="#00a76d"/><stop offset="0.4173" stop-color="#00a55f"/><stop offset="0.4182" stop-color="#f8da00"/><stop offset="0.4220" stop-color="#f8da00"/><stop offset="0.4229" stop-color="#00a036"/><stop offset="0.4267" stop-color="#009c1b"/><stop offset="0.4342" stop-color="#009900"/><stop offset="0.4530" stop-color="#00a100"/><stop offset="0.5094" stop-color="#00af00"/><stop offset="0.5395" stop-color="#00a800"/><stop offset="0.5611" stop-color="#009900"/><stop offset="0.5714" stop-color="#00a036"/><stop offset="0.5827" stop-color="#00a76d"/><stop offset="0.5902" stop-color="#00aa88"/><stop offset="0.5977" stop-color="#00aa8f"/><stop offset="0.6090" stop-color="#00aaa3"/><stop offset="0.6156" stop-color="#00aaab"/><stop offset="0.6466" stop-color="#0099dd"/><stop offset="0.6767" stop-color="#0077dd"/><stop offset="0.6992" stop-color="#0000dd"/><stop offset="0.7425" stop-color="#0000c9"/><stop offset="0.7434" stop-color="#0015dd"/><stop offset="0.7444" stop-color="#00aaa8"/><stop offset="0.7453" stop-color="#00a76d"/><stop offset="0.7491" stop-color="#00a76d"/><stop offset="0.7500" stop-color="#00aaa5"/><stop offset="0.7509" stop-color="#003edd"/><stop offset="0.7519" stop-color="#0000dd"/><stop offset="0.7556" stop-color="#0000dd"/><stop offset="0.7566" stop-color="#0018dd"/><stop offset="0.7575" stop-color="#007edd"/><stop offset="0.7585" stop-color="#0099dd"/><stop offset="0.7669" stop-color="#0099dd"/><stop offset="0.7688" stop-color="#0088dd"/><stop offset="0.7791" stop-color="#0088dd"/><stop offset="0.7801" stop-color="#00a7b2"/><stop offset="0.7810" stop-color="#00a76d"/><stop offset="0.7867" stop-color="#00a76d"/><stop offset="0.7876" stop-color="#00a0c9"/><stop offset="0.7885" stop-color="#0047dd"/><stop offset="0.7961" stop-color="#0047dd"/><stop offset="0.7970" stop-color="#009bd8"/><stop offset="0.7979" stop-color="#00aa96"/><stop offset="0.8036" stop-color="#00aa96"/><stop offset="0.8045" stop-color="#0092dd"/><stop offset="0.8055" stop-color="#0000dd"/><stop offset="0.8224" stop-color="#0000dd"/><stop offset="0.8233" stop-color="#0000cc"/><stop offset="0.8242" stop-color="#1700a7"/><stop offset="0.8252" stop-color="#880099"/><stop offset="0.8289" stop-color="#7f0090"/><stop offset="0.8665" stop-color="#7e008f"/><stop offset="0.9004" stop-color="#770088"/><stop offset="0.9492" stop-color="#300036"/><stop offset="0.9737" stop-color="#1a001e"/><stop offset="1.0000" stop-color="#140016"/></linearGradient>
<linearGradient id="g15"><stop offset="0.0000" stop-color="#7e008f"/><stop offset="0.0028" stop-color="#7e008f"/><stop offset="0.0038" stop-color="#750086"/><stop offset="0.0047" stop-color="#130016"/><stop offset="0.1880" stop-color="#130016"/><stop offset="0.1917" stop-color="#1d0021"/><stop offset="0.1955" stop-color="#2b0031"/><stop offset="0.1992" stop-color="#470052"/><stop offset="0.2030" stop-color="#770088"/><stop offset="0.2068" stop-color="#810092"/><stop offset="0.2105" stop-color="#860097"/><stop offset="0.2171" stop-color="#880099"/><stop offset="0.2190" stop-color="#1000a8"/><stop offset="0.2199" stop-color="#0000b7"/><stop offset="0.2218" stop-color="#0000db"/><stop offset="0.2303" stop-color="#0000db"/><stop offset="0.2312" stop-color="#0013dd"/><stop offset="0.2340" stop-color="#006bdd"/><stop offset="0.2350" stop-color="#0078dd"/><stop offset="0.2425" stop-color="#0090dd"/><stop offset="0.2547" stop-color="#0099dd"/><stop offset="0.2801" stop-color="#00a2c2"/><stop offset="0.3412" stop-color="#00aaaa"/><stop offset="0.3778" stop-color="#00aaa2"/><stop offset="0.4004" stop-color="#00aa98"/><stop offset="0.4126" stop-color="#00aa87"/><stop offset="0.4154" stop-color="#00a878"/><stop offset="0.4173" stop-color="#00a66a"/><stop offset="0.4182" stop-color="#c5fc00"/><stop offset="0.4220" stop-color="#c5fc00"/><stop offset="0.4229" stop-color="#00a142"/><stop offset="0.4267" stop-color="#009e27"/><stop offset="0.4380" stop-color="#009900"/><stop offset="0.5094" stop-color="#00ab00"/><stop offset="0.5395" stop-color="#00a500"/><stop offset="0.5583" stop-color="#009a00"/><stop offset="0.5592" stop-color="#009901"/><stop offset="0.5714" stop-color="#00a142"/><stop offset="0.5827" stop-color="#00a878"/><stop offset="0.5874" stop-color="#00aa88"/><stop offset="0.5977" stop-color="#00aa91"/><stop offset="0.6090" stop-color="#00aaa6"/><stop offset="0.6128" stop-color="#00aaaa"/><stop offset="0.6447" stop-color="#0099dd"/><stop offset="0.6758" stop-color="#0075dd"/><stop offset="0.6983" stop-color="#0000dd"/><stop offset="0.7425" stop-color="#0000c7"/><stop offset="0.7434" stop-color="#0010dd"/><stop offset="0.7444" stop-color="#00aaab"/><stop offset="0.7453" stop-color="#00a878"/><stop offset="0.7491" stop-color="#00a878"/><stop offset="0.7500" stop-color="#00aaa7"/><stop offset="0.7509" stop-color="#0039dd"/><stop offset="0.7519" stop-color="#0000db"/><stop offset="0.7556" stop-color="#0000db"/><stop offset="0.7566" stop-color="#0013dd"/><stop offset="0.7575" stop-color="#007cdd"/><stop offset="0.7585" stop-color="#0097dd"/><stop offset="0.7669" stop-color="#0097dd"/><stop offset="0.7688" stop-color="#0086dd"/><stop offset="0.7791" stop-color="#0086dd"/><stop offset="0.7801" stop-color="#00a6b5"/><stop offset="0.7810" stop-color="#00a878"/><stop offset="0.7867" stop-color="#00a878"/><stop offset="0.7876" stop-color="#009fcc"/><stop offset="0.7885" stop-color="#0042dd"/><stop offset="0.7961" stop-color="#0042dd"/><stop offset="0.7970" stop-color="#009adb"/><stop offset="0.7979" stop-color="#00aa98"/><stop offset="0.8036" stop-color="#00aa98"/><stop offset="0.8045" stop-color="#0090dd"/><stop offset="0.8055" stop-color="#0000db"/><stop offset="0.8224" stop-color="#0000db"/><stop offset="0.8233" stop-color="#0000ca"/><stop offset="0.8242" stop-color="#1b00a7"/><stop offset="0.8252" stop-color="#880099"/><stop offset="0.8289" stop-color="#7f0090"/><stop offset="0.8665" stop-color="#7e008f"/><stop offset="0.9004" stop-color="#770088"/><stop offset="0.9492" stop-color="#300036"/><stop offset="0.9737" stop-color="#1a001e"/><stop offset="1.0000" stop-color="#140016"/></linearGradient>
<linearGradient id="g16"><stop offset="0.0000" stop-color="#7e008f"/><stop offset="0.0028" stop-color="#7e008f"/><stop offset="0.0038" stop-color="#750086"/><stop offset="0.0047" stop-color="#130016"/><stop offset="0.1880" stop-color="#130016"/><stop offset="0.1917" stop-color="#1d0021"/><stop offset="0.1955" stop-color="#2b0031"/><stop offset="0.1992" stop-color="#470052"/><stop offset="0.2030" stop-color="#770088"/><stop offset="0.2068" stop-color="#810092"/><stop offset="0.2105" stop-color="#860097"/><stop offset="0.2171" stop-color="#880099"/><stop offset="0.2180" stop-color="#5100a0"/><stop offset="0.2190" stop-color="#1400a7"/><stop offset="0.2199" stop-color="#0000b5"/><stop offset="0.2218" stop-color="#0000d9"/><stop offset="0.2303" stop-color="#0000d9"/><stop offset="0.2312" stop-color="#000edd"/><stop offset="0.2340" stop-color="#0065dd"/><stop offset="0.2350" stop-color="#0074dd"/><stop offset="0.2359" stop-color="#0079dd"/><stop offset="0.2425" stop-color="#008edd"/><stop offset="0.2575" stop-color="#0099dd"/><stop offset="0.2801" stop-color="#00a1c5"/><stop offset="0.3506" stop-color="#00aaaa"/><stop offset="0.3778" stop-color="#00aaa4"/><stop offset="0.4004" stop-color="#00aa9b"/><stop offset="0.4145" stop-color="#00aa88"/><stop offset="0.4173" stop-color="#00a876"/><stop offset="0.4182" stop-color="#96ff00"/><stop offset="0.4220" stop-color="#96ff00"/><stop offset="0.4229" stop-color="#00a34e"/><stop offset="0.4267" stop-color="#009f33"/><stop offset="0.4380" stop-color="#009a0b"/><stop offset="0.4474" stop-color="#009900"/><stop offset="0.5094" stop-color="#00a800"/><stop offset="0.5395" stop-color="#00a200"/><stop offset="0.5545" stop-color="#009900"/><stop offset="0.5583" stop-color="#009a08"/><stop offset="0.5714" stop-color="#00a34e"/><stop offset="0.5836" stop-color="#00aa86"/><stop offset="0.5977" stop-color="#00aa94"/><stop offset="0.6109" stop-color="#00aaaa"/><stop offset="0.6429" stop-color="#0099dd"/><stop offset="0.6739" stop-color="#0077dd"/><stop offset="0.6767" stop-color="#006bdd"/><stop offset="0.6974" stop-color="#0000dd"/><stop offset="0.6992" stop-color="#0000d9"/><stop offset="0.7425" stop-color="#0000c5"/><stop offset="0.7434" stop-color="#000bdd"/><stop offset="0.7444" stop-color="#00a8af"/><stop offset="0.7453" stop-color="#00a983"/><stop offset="0.7491" stop-color="#00a983"/><stop offset="0.7500" stop-color="#00aaaa"/><stop offset="0.7509" stop-color="#0034dd"/><stop offset="0.7519" stop-color="#0000d9"/><stop offset="0.7556" stop-color="#0000d9"/><stop offset="0.7566" stop-color="#000edd"/><stop offset="0.7575" stop-color="#007add"/><stop offset="0.7585" stop-color="#0095dd"/><stop offset="0.7669" stop-color="#0095dd"/><stop offset="0.7688" stop-color="#0084dd"/><stop offset="0.7791" stop-color="#0084dd"/><stop offset="0.7801" stop-color="#00a5b9"/><stop offset="0.7810" stop-color="#00a983"/><stop offset="0.7867" stop-color="#00a983"/><stop offset="0.7876" stop-color="#009ecf"/><stop offset="0.7885" stop-color="#003cdd"/><stop offset="0.7961" stop-color="#003cdd"/><stop offset="0.7970" stop-color="#0098dd"/><stop offset="0.7979" stop-color="#00aa9b"/><stop offset="0.8036" stop-color="#00aa9b"/><stop offset="0.8045" stop-color="#008edd"/><stop offset="0.8055" stop-color="#0000d9"/><stop offset="0.8224" stop-color="#0000d9"/><stop offset="0.8233" stop-color="#0000c8"/><stop offset="0.8242" stop-color="#1e00a6"/><stop offset="0.8252" stop-color="#880099"/><stop offset="0.8289" stop-color="#7f0090"/><stop offset="0.8665" stop-color="#7e008f"/><stop offset="0.9004" stop-color="#770088"/><stop offset="0.9492" stop-color="#300036"/><stop offset="0.9737" stop-color="#1a001e"/><stop offset="1.0000" stop-color="#140016"/></linearGradient>
<linearGradient id="g17"><stop offset="0.0000" stop-color="#7e008f"/><stop offset="0.0028" stop-color="#7e008f"/><stop offset="0.0038" stop-color="#750086"/><stop offset="0.0047" stop-color="#130016"/><stop offset="0.1880" stop-color="#130016"/><stop offset="0.1917" stop-color="#1d0021"/><stop offset="0.1955" stop-color="#2b0031"/><stop offset="0.1992" stop-color="#470052"/><stop offset="0.2030" stop-color="#770088"/><stop offset="0.2068" stop-color="#810092"/><stop offset="0.2105" stop-color="#860097"/><stop offset="0.2171" stop-color="#880099"/><stop offset="0.2180" stop-color="#55009f"/><stop offset="0.2190" stop-color="#1800a7"/><stop offset="0.2199" stop-color="#0000b4"/><stop offset="0.2218" stop-color="#0000d7"/><stop offset="0.2303" stop-color="#0000d7"/><stop offset="0.2312" stop-color="#0009dd"/><stop offset="0.2340" stop-color="#005fdd"/><stop offset="0.2350" stop-color="#006edd"/><stop offset="0.2359" stop-color="#0077dd"/><stop offset="0.2425" stop-color="#008cdd"/><stop offset="0.2603" stop-color="#0099dd"/><stop offset="0.2801" stop-color="#00a0c9"/><stop offset="0.3618" stop-color="#00aaaa"/><stop offset="0.4004" stop-color="#00aa9d"/><stop offset="0.4154" stop-color="#00aa8a"/><stop offset="0.4164" stop-color="#00aa88"/><stop offset="0.4173" stop-color="#00a981"/><stop offset="0.4182" stop-color="#00bb00"/><stop offset="0.4220" stop-color="#00bb00"/><stop offset="0.4229" stop-color="#00a459"/><stop offset="0.4267" stop-color="#00a13f"/><stop offset="0.4380" stop-color="#009c18"/><stop offset="0.4577" stop-color="#009900"/><stop offset="0.5094" stop-color="#00a500"/><stop offset="0.5395" stop-color="#009e00"/><stop offset="0.5489" stop-color="#009900"/><stop offset="0.5583" stop-color="#009c15"/><stop offset="0.5714" stop-color="#00a459"/><stop offset="0.5818" stop-color="#00aa88"/><stop offset="0.5977" stop-color="#00aa97"/><stop offset="0.6090" stop-color="#00aaab"/><stop offset="0.6410" stop-color="#0099dd"/><stop offset="0.6720" stop-color="#0077dd"/><stop offset="0.6767" stop-color="#0065dd"/><stop offset="0.6964" stop-color="#0000dd"/><stop offset="0.6992" stop-color="#0000d7"/><stop offset="0.7425" stop-color="#0000c3"/><stop offset="0.7434" stop-color="#0006dd"/><stop offset="0.7444" stop-color="#00a7b2"/><stop offset="0.7453" stop-color="#00aa8a"/><stop offset="0.7491" stop-color="#00aa8a"/><stop offset="0.7500" stop-color="#00a9ad"/><stop offset="0.7509" stop-color="#002edd"/><stop offset="0.7519" stop-color="#0000d7"/><stop offset="0.7556" stop-color="#0000d7"/><stop offset="0.7566" stop-color="#0009dd"/><stop offset="0.7575" stop-color="#0079dd"/><stop offset="0.7585" stop-color="#0093dd"/><stop offset="0.7669" stop-color="#0093dd"/><stop offset="0.7688" stop-color="#0082dd"/><stop offset="0.7791" stop-color="#0082dd"/><stop offset="0.7801" stop-color="#00a4bc"/><stop offset="0.7810" stop-color="#00aa8a"/><stop offset="0.7867" stop-color="#00aa8a"/><stop offset="0.7876" stop-color="#009dd2"/><stop offset="0.7885" stop-color="#0037dd"/><stop offset="0.7961" stop-color="#0037dd"/><stop offset="0.7970" stop-color="#0096dd"/><stop offset="0.7979" stop-color="#00aa9d"/><stop offset="0.8036" stop-color="#00aa9d"/><stop offset="0.8045" stop-color="#008cdd"/><stop offset="0.8055" stop-color="#0000d7"/><stop offset="0.8224" stop-color="#0000d7"/><stop offset="0.8233" stop-color="#0000c6"/><stop offset="0.8242" stop-color="#2200a6"/><stop offset="0.8252" stop-color="#880099"/><stop offset="0.8289" stop-color="#7f0090"/><stop offset="0.8665" stop-color="#7e008f"/><stop offset="0.9004" stop-color="#770088"/><stop offset="0.9492" stop-color="#300036"/><stop offset="0.9737" stop-color="#1a001e"/><stop offset="1.0000" stop-color="#140016"/></linearGradient>
<linearGradient id="g18"><stop offset="0.0000" stop-color="#7e008f"/><stop offset="0.0028" stop-color="#7e008f"/><stop offset="0.0038" stop-color="#750086"/><stop offset="0.0047" stop-color="#130016"/><stop offset="0.1880" stop-color="#130016"/><stop offset="0.1917" stop-color="#1d0021"/><stop offset="0.1955" stop-color="#2b0031"/><stop offset="0.1992" stop-color="#470052"/><stop offset="0.2030" stop-color="#770088"/><stop offset="0.2068" stop-color="#810092"/><stop offset="0.2105" stop-color="#860097"/><stop offset="0.2171" stop-color="#880099"/><stop offset="0.2180" stop-color="#4100a2"/><stop offset="0.2190" stop-color="#0100aa"/><stop offset="0.2209" stop-color="#0000d0"/><stop offset="0.2218" stop-color="#000edd"/><stop offset="0.2303" stop-color="#000edd"/><stop offset="0.2312" stop-color="#0027dd"/><stop offset="0.2331" stop-color="#0064dd"/><stop offset="0.2340" stop-color="#007add"/><stop offset="0.2425" stop-color="#0098dd"/><stop offset="0.2434" stop-color="#0099dd"/><stop offset="0.2801" stop-color="#00a7b4"/><stop offset="0.3045" stop-color="#00aaaa"/><stop offset="0.3778" stop-color="#00aa98"/><stop offset="0.4004" stop-color="#00aa8e"/><stop offset="0.4051" stop-color="#00aa85"/><stop offset="0.4154" stop-color="#00a24b"/><stop offset="0.4173" stop-color="#00a13d"/><stop offset="0.4182" stop-color="#009900"/><stop offset="0.4220" stop-color="#009900"/><stop offset="0.4229" stop-color="#009b13"/><stop offset="0.4258" stop-color="#009900"/><stop offset="0.4380" stop-color="#00a600"/><stop offset="0.5094" stop-color="#00b900"/><stop offset="0.5395" stop-color="#00b200"/><stop offset="0.5583" stop-color="#00a600"/><stop offset="0.5677" stop-color="#009900"/><stop offset="0.5827" stop-color="#00a24b"/><stop offset="0.5987" stop-color="#00aa89"/><stop offset="0.6090" stop-color="#00aa9c"/><stop offset="0.6222" stop-color="#00aaab"/><stop offset="0.6523" stop-color="#0099dd"/><stop offset="0.6795" stop-color="#0078dd"/><stop offset="0.6992" stop-color="#000edd"/><stop offset="0.7115" stop-color="#0000dd"/><stop offset="0.7425" stop-color="#0000ce"/><stop offset="0.7434" stop-color="#0024dd"/><stop offset="0.7444" stop-color="#00aaa1"/><stop offset="0.7453" stop-color="#00a24b"/><stop offset="0.7491" stop-color="#00a24b"/><stop offset="0.7500" stop-color="#00aa9e"/><stop offset="0.7509" stop-color="#004fdd"/><stop offset="0.7519" stop-color="#000edd"/><stop offset="0.7556" stop-color="#000edd"/><stop offset="0.7566" stop-color="#0027dd"/><stop offset="0.7575" stop-color="#0083dd"/><stop offset="0.7585" stop-color="#009cd4"/><stop offset="0.7669" stop-color="#009cd4"/><stop offset="0.7679" stop-color="#0096dd"/><stop offset="0.7688" stop-color="#008edd"/><stop offset="0.7791" stop-color="#008edd"/><stop offset="0.7801" stop-color="#00aaa8"/><stop offset="0.7810" stop-color="#00a24b"/><stop offset="0.7867" stop-color="#00a24b"/><stop offset="0.7876" stop-color="#00a3bf"/><stop offset="0.7885" stop-color="#0058dd"/><stop offset="0.7961" stop-color="#0058dd"/><stop offset="0.7970" stop-color="#009ecf"/><stop offset="0.7979" stop-color="#00aa8e"/><stop offset="0.8036" stop-color="#00aa8e"/><stop offset="0.8045" stop-color="#0098dd"/><stop offset="0.8055" stop-color="#000edd"/><stop offset="0.8224" stop-color="#000edd"/><stop offset="0.8233" stop-color="#0000d2"/><stop offset="0.8242" stop-color="#0b00a9"/><stop offset="0.8252" stop-color="#880099"/><stop offset="0.8289" stop-color="#7f0090"/><stop offset="0.8665" stop-color="#7e008f"/><stop offset="0.9004" stop-color="#770088"/><stop offset="0.9492" stop-color="#300036"/><stop offset="0.9737" stop-color="#1a001e"/><stop offset="1.0000" stop-color="#140016"/></linearGradient>
<linearGradient id="g19"><stop offset="0.0000" stop-color="#000000"/><stop offset="0.2350" stop-color="#000000"/><stop offset="0.2387" stop-color="#050005"/><stop offset="1.0000" stop-color="#050005"/></linearGradient>
<linearGradient id="g20"><stop offset="0.0000" stop-color="#7e008f"/><stop offset="0.0028" stop-color="#7e008f"/><stop offset="0.0038" stop-color="#770088"/><stop offset="0.0047" stop-color="#18001b"/><stop offset="0.1795" stop-color="#18001b"/><stop offset="0.1805" stop-color="#24002a"/><stop offset="0.1852" stop-color="#740084"/><stop offset="0.1861" stop-color="#780089"/><stop offset="0.1964" stop-color="#840095"/><stop offset="0.1974" stop-color="#72009c"/><stop offset="0.1983" stop-color="#3500a3"/><stop offset="0.1992" stop-color="#0000ad"/><stop offset="0.2002" stop-color="#0000c4"/><stop offset="0.2011" stop-color="#0000ce"/><stop offset="0.2030" stop-color="#0000dc"/><stop offset="0.2039" stop-color="#000ddd"/><stop offset="0.2058" stop-color="#002cdd"/><stop offset="0.2068" stop-color="#007bdd"/><stop offset="0.2077" stop-color="#0099dc"/><stop offset="0.2086" stop-color="#00a9ae"/><stop offset="0.2096" stop-color="#00aa8e"/><stop offset="0.2115" stop-color="#009c00"/><stop offset="0.2133" stop-color="#00c500"/><stop offset="0.2143" stop-color="#00ca00"/><stop offset="0.2303" stop-color="#00e400"/><stop offset="0.2340" stop-color="#00fe00"/><stop offset="0.2350" stop-color="#1eff00"/><stop offset="0.2359" stop-color="#43ff00"/><stop offset="0.2368" stop-color="#57ff00"/><stop offset="0.2425" stop-color="#b1ff00"/><stop offset="0.2434" stop-color="#bcff00"/><stop offset="0.2538" stop-color="#e5f100"/><stop offset="0.2575" stop-color="#eeee00"/><stop offset="0.2688" stop-color="#f5df00"/><stop offset="0.3806" stop-color="#f0eb00"/><stop offset="0.3835" stop-color="#eeee00"/><stop offset="0.3966" stop-color="#d4f700"/><stop offset="0.4934" stop-color="#cafa00"/><stop offset="0.5348" stop-color="#c0fd00"/><stop offset="0.5385" stop-color="#bbff00"/><stop offset="0.5536" stop-color="#71ff00"/><stop offset="0.5611" stop-color="#03ff00"/><stop offset="0.5620" stop-color="#00ff00"/><stop offset="0.5874" stop-color="#00f200"/><stop offset="0.6438" stop-color="#00e400"/><stop offset="0.6588" stop-color="#00bc00"/><stop offset="0.6664" stop-color="#00a000"/><stop offset="0.6927" stop-color="#009900"/><stop offset="0.6936" stop-color="#009b0f"/><stop offset="0.6983" stop-color="#00a669"/><stop offset="0.6992" stop-color="#00a76f"/><stop offset="0.7086" stop-color="#00aa87"/><stop offset="0.7190" stop-color="#00aa8f"/><stop offset="0.7575" stop-color="#00aa94"/><stop offset="0.7585" stop-color="#00a000"/><stop offset="0.7622" stop-color="#00a000"/><stop offset="0.7632" stop-color="#00aa95"/><stop offset="0.7838" stop-color="#00aa97"/><stop offset="0.7848" stop-color="#00a000"/><stop offset="0.7885" stop-color="#00a000"/><stop offset="0.7895" stop-color="#00aa98"/><stop offset="0.7942" stop-color="#00aa99"/><stop offset="0.7951" stop-color="#00a000"/><stop offset="0.7979" stop-color="#00a000"/><stop offset="0.7989" stop-color="#00aa99"/><stop offset="0.8026" stop-color="#00aa9a"/><stop offset="0.8036" stop-color="#00a000"/><stop offset="0.8073" stop-color="#00a000"/><stop offset="0.8083" stop-color="#00aa9b"/><stop offset="0.8205" stop-color="#00aa9c"/><stop offset="0.8233" stop-color="#00a8af"/><stop offset="0.8280" stop-color="#009adb"/><stop offset="0.8289" stop-color="#0099dd"/><stop offset="0.8741" stop-color="#008add"/><stop offset="0.8872" stop-color="#0077dd"/><stop offset="0.8929" stop-color="#005ddd"/><stop offset="0.9258" stop-color="#0001dd"/><stop offset="0.9445" stop-color="#0000bf"/><stop offset="0.9455" stop-color="#0000b5"/><stop offset="0.9464" stop-color="#0300aa"/><stop offset="0.9502" stop-color="#82009a"/><stop offset="0.9511" stop-color="#880099"/><stop offset="0.9746" stop-color="#7e008f"/><stop offset="0.9784" stop-color="#770088"/><stop offset="0.9821" stop-color="#4a0054"/><stop offset="0.9831" stop-color="#45004e"/><stop offset="0.9934" stop-color="#1d0021"/><stop offset="1.0000" stop-color="#1a001e"/></linearGradient>
<linearGradient id="g21"><stop offset="0.0000" stop-color="#7e008f"/><stop offset="0.0028" stop-color="#7e008f"/><stop offset="0.0038" stop-color="#770088"/><stop offset="0.0047" stop-color="#18001b"/><stop offset="0.1795" stop-color="#18001b"/><stop offset="0.1805" stop-color="#24002a"/><stop offset="0.1852" stop-color="#740084"/><stop offset="0.1861" stop-color="#780089"/><stop offset="0.1964" stop-color="#840095"/><stop offset="0.1974" stop-color="#72009c"/><stop offset="0.1983" stop-color="#3500a3"/><stop offset="0.1992" stop-color="#0000ad"/><stop offset="0.2002" stop-color="#0000c4"/><stop offset="0.2011" stop-color="#0000ce"/><stop offset="0.2030" stop-color="#0000dc"/><stop offset="0.2039" stop-color="#000ddd"/><stop offset="0.2058" stop-color="#002cdd"/><stop offset="0.2068" stop-color="#007bdd"/><stop offset="0.2077" stop-color="#0099dc"/><stop offset="0.2086" stop-color="#00a9ae"/><stop offset="0.2096" stop-color="#00aa8e"/><stop offset="0.2115" stop-color="#009c00"/><stop offset="0.2133" stop-color="#00c500"/><stop offset="0.2143" stop-color="#00ca00"/><stop offset="0.2303" stop-color="#00e400"/><stop offset="0.2340" stop-color="#00fe00"/><stop offset="0.2350" stop-color="#1eff00"/><stop offset="0.2359" stop-color="#43ff00"/><stop offset="0.2368" stop-color="#57ff00"/><stop offset="0.2425" stop-color="#b1ff00"/><stop offset="0.2434" stop-color="#bcff00"/><stop offset="0.2538" stop-color="#e5f100"/><stop offset="0.2575" stop-color="#eeee00"/><stop offset="0.2688" stop-color="#f5df00"/><stop offset="0.3806" stop-color="#f0eb00"/><stop offset="0.3835" stop-color="#eeee00"/><stop offset="0.3966" stop-color="#d4f700"/><stop offset="0.4934" stop-color="#cafa00"/><stop offset="0.5348" stop-color="#c0fd00"/><stop offset="0.5385" stop-color="#bbff00"/><stop offset="0.5536" stop-color="#71ff00"/><stop offset="0.5611" stop-color="#03ff00"/><stop offset="0.5620" stop-color="#00ff00"/><stop offset="0.5874" stop-color="#00f200"/><stop offset="0.6438" stop-color="#00e400"/><stop offset="0.6588" stop-color="#00bc00"/><stop offset="0.6664" stop-color="#00a000"/><stop offset="0.6927" stop-color="#009900"/><stop offset="0.6936" stop-color="#009b0f"/><stop offset="0.6983" stop-color="#00a669"/><stop offset="0.6992" stop-color="#00a76f"/><stop offset="0.7096" stop-color="#00aa88"/><stop offset="0.7190" stop-color="#00aa8f"/><stop offset="0.7340" stop-color="#00aa91"/><stop offset="0.7350" stop-color="#eeee00"/><stop offset="0.7397" stop-color="#eeee00"/><stop offset="0.7406" stop-color="#00aa92"/><stop offset="0.7575" stop-color="#00aa94"/><stop offset="0.7585" stop-color="#00a000"/><stop offset="0.7622" stop-color="#00a000"/><stop offset="0.7632" stop-color="#00aa95"/><stop offset="0.7838" stop-color="#00aa97"/><stop offset="0.7848" stop-color="#00a000"/><stop offset="0.7885" stop-color="#00a000"/><stop offset="0.7895" stop-color="#00aa98"/><stop offset="0.7942" stop-color="#00aa99"/><stop offset="0.7951" stop-color="#00a000"/><stop offset="0.7979" stop-color="#00a000"/><stop offset="0.7989" stop-color="#00aa99"/><stop offset="0.8026" stop-color="#00aa9a"/><stop offset="0.8036" stop-color="#00a000"/><stop offset="0.8073" stop-color="#00a000"/><stop offset="0.8083" stop-color="#00aa9b"/><stop offset="0.8102" stop-color="#00aa9b"/><stop offset="0.8111" stop-color="#daf500"/><stop offset="0.8148" stop-color="#daf500"/><stop offset="0.8158" stop-color="#00aa9c"/><stop offset="0.8205" stop-color="#00aa9c"/><stop offset="0.8233" stop-color="#00a8af"/><stop offset="0.8280" stop-color="#009adb"/><stop offset="0.8289" stop-color="#0099dd"/><stop offset="0.8741" stop-color="#008add"/><stop offset="0.8872" stop-color="#0077dd"/><stop offset="0.8929" stop-color="#005ddd"/><stop offset="0.9258" stop-color="#0001dd"/><stop offset="0.9445" stop-color="#0000bf"/><stop offset="0.9455" stop-color="#0000b5"/><stop offset="0.9464" stop-color="#0300aa"/><stop offset="0.9502" stop-color="#82009a"/><stop offset="0.9511" stop-color="#880099"/><stop offset="0.9746" stop-color="#7e008f"/><stop offset="0.9784" stop-color="#770088"/><stop offset="0.9821" stop-color="#4a0054"/><stop offset="0.9831" stop-color="#45004e"/><stop offset="0.9934" stop-color="#1d0021"/><stop offset="1.0000" stop-color="#1a001e"/></linearGradient>
<linearGradient id="g22"><stop offset="0.0000" stop-color="#7e008f"/><stop offset="0.0028" stop-color="#7e008f"/><stop offset="0.0038" stop-color="#750086"/><stop offset="0.0047" stop-color="#130016"/><stop offset="0.1898" stop-color="#130016"/><stop offset="0.1945" stop-color="#1d0021"/><stop offset="0.1983" stop-color="#2c0033"/><stop offset="0.2021" stop-color="#4a0054"/><stop offset="0.2058" stop-color="#780089"/><stop offset="0.2096" stop-color="#810092"/><stop offset="0.2124" stop-color="#850096"/><stop offset="0.2190" stop-color="#860097"/><stop offset="0.2199" stop-color="#7d009a"/><stop offset="0.2218" stop-color="#0000aa"/><stop offset="0.2237" stop-color="#0000ce"/><stop offset="0.2246" stop-color="#0000dd"/><stop offset="0.2331" stop-color="#0000dd"/><stop offset="0.2368" stop-color="#0077dd"/><stop offset="0.2425" stop-color="#0092dd"/><stop offset="0.2519" stop-color="#0099dd"/><stop offset="0.2801" stop-color="#00a3be"/><stop offset="0.3318" stop-color="#00aaaa"/><stop offset="0.3778" stop-color="#00aa9f"/><stop offset="0.4004" stop-color="#00aa96"/><stop offset="0.4107" stop-color="#00aa86"/><stop offset="0.4154" stop-color="#00a76d"/><stop offset="0.4267" stop-color="#009c1b"/><stop offset="0.4342" stop-color="#009900"/><stop offset="0.4690" stop-color="#00a900"/><stop offset="0.4756" stop-color="#00b500"/><stop offset="0.4859" stop-color="#00d400"/><stop offset="0.4906" stop-color="#00da00"/><stop offset="0.4953" stop-color="#00d600"/><stop offset="0.5056" stop-color="#00bb00"/><stop offset="0.5132" stop-color="#00b100"/><stop offset="0.5395" stop-color="#00a800"/><stop offset="0.5611" stop-color="#009900"/><stop offset="0.5714" stop-color="#00a036"/><stop offset="0.5827" stop-color="#00a76d"/><stop offset="0.5902" stop-color="#00aa88"/><stop offset="0.5977" stop-color="#00aa8f"/><stop offset="0.6090" stop-color="#00aaa3"/><stop offset="0.6156" stop-color="#00aaab"/><stop offset="0.6466" stop-color="#0099dd"/><stop offset="0.6767" stop-color="#0077dd"/><stop offset="0.6992" stop-color="#0000dd"/><stop offset="0.7397" stop-color="#0000c9"/><stop offset="0.7406" stop-color="#0047dd"/><stop offset="0.7415" stop-color="#00aaa7"/><stop offset="0.7425" stop-color="#00a036"/><stop offset="0.7462" stop-color="#00a036"/><stop offset="0.7472" stop-color="#00aa85"/><stop offset="0.7481" stop-color="#007cdd"/><stop offset="0.7491" stop-color="#0000dd"/><stop offset="0.7500" stop-color="#0000dd"/><stop offset="0.7509" stop-color="#001edd"/><stop offset="0.7519" stop-color="#0088dd"/><stop offset="0.7528" stop-color="#0099dd"/><stop offset="0.7585" stop-color="#0099dd"/><stop offset="0.7594" stop-color="#00a2c1"/><stop offset="0.7603" stop-color="#00aa8b"/><stop offset="0.7613" stop-color="#00a76d"/><stop offset="0.7791" stop-color="#00a76d"/><stop offset="0.7810" stop-color="#009900"/><stop offset="0.7895" stop-color="#009900"/><stop offset="0.7904" stop-color="#00aa8a"/><stop offset="0.7914" stop-color="#009cd3"/><stop offset="0.7951" stop-color="#009cd3"/><stop offset="0.7961" stop-color="#00aaa2"/><stop offset="0.7970" stop-color="#009900"/><stop offset="0.8045" stop-color="#009900"/><stop offset="0.8055" stop-color="#00aa8a"/><stop offset="0.8064" stop-color="#009cd3"/><stop offset="0.8224" stop-color="#009cd3"/><stop offset="0.8233" stop-color="#008ddd"/><stop offset="0.8242" stop-color="#0021dd"/><stop offset="0.8252" stop-color="#0000dd"/><stop offset="0.8299" stop-color="#0000dd"/><stop offset="0.8308" stop-color="#0000b4"/><stop offset="0.8318" stop-color="#6d009c"/><stop offset="0.8327" stop-color="#800090"/><stop offset="0.8665" stop-color="#7e008f"/><stop offset="0.9004" stop-color="#770088"/><stop offset="0.9492" stop-color="#300036"/><stop offset="0.9737" stop-color="#1a001e"/><stop offset="1.0000" stop-color="#140016"/></linearGradient>
<linearGradient id="g23"><stop offset="0.0000" stop-color="#7e008f"/><stop offset="0.0028" stop-color="#7e008f"/><stop offset="0.0038" stop-color="#750086"/><stop offset="0.0047" stop-color="#130016"/><stop offset="0.1898" stop-color="#130016"/><stop offset="0.1945" stop-color="#1d0021"/><stop offset="0.1983" stop-color="#2c0033"/><stop offset="0.2021" stop-color="#4a0054"/><stop offset="0.2058" stop-color="#780089"/><stop offset="0.2096" stop-color="#810092"/><stop offset="0.2124" stop-color="#850096"/><stop offset="0.2190" stop-color="#860097"/><stop offset="0.2199" stop-color="#7d009a"/><stop offset="0.2218" stop-color="#0400a9"/><stop offset="0.2227" stop-color="#0000bb"/><stop offset="0.2246" stop-color="#0000db"/><stop offset="0.2331" stop-color="#0000db"/><stop offset="0.2340" stop-color="#0019dd"/><stop offset="0.2368" stop-color="#0071dd"/><stop offset="0.2378" stop-color="#007add"/><stop offset="0.2425" stop-color="#0090dd"/><stop offset="0.2547" stop-color="#0099dd"/><stop offset="0.2801" stop-color="#00a2c2"/><stop offset="0.3412" stop-color="#00aaaa"/><stop offset="0.3778" stop-color="#00aaa2"/><stop offset="0.4004" stop-color="#00aa98"/><stop offset="0.4126" stop-color="#00aa87"/><stop offset="0.4154" stop-color="#00a878"/><stop offset="0.4267" stop-color="#009e27"/><stop offset="0.4380" stop-color="#009900"/><stop offset="0.5094" stop-color="#00ab00"/><stop offset="0.5395" stop-color="#00a500"/><stop offset="0.5583" stop-color="#009a00"/><stop offset="0.5592" stop-color="#009901"/><stop offset="0.5714" stop-color="#00a142"/><stop offset="0.5827" stop-color="#00a878"/><stop offset="0.5874" stop-color="#00aa88"/><stop offset="0.5977" stop-color="#00aa91"/><stop offset="0.6090" stop-color="#00aaa6"/><stop offset="0.6128" stop-color="#00aaaa"/><stop offset="0.6447" stop-color="#0099dd"/><stop offset="0.6654" stop-color="#0083dd"/><stop offset="0.6758" stop-color="#0075dd"/><stop offset="0.6983" stop-color="#0000dd"/><stop offset="0.6992" stop-color="#0000db"/><stop offset="0.7397" stop-color="#0000c7"/><stop offset="0.7406" stop-color="#0042dd"/><stop offset="0.7415" stop-color="#00aaa9"/><stop offset="0.7425" stop-color="#00a142"/><stop offset="0.7462" stop-color="#00a142"/><stop offset="0.7472" stop-color="#00aa8a"/><stop offset="0.7481" stop-color="#007add"/><stop offset="0.7491" stop-color="#0000db"/><stop offset="0.7500" stop-color="#0000db"/><stop offset="0.7509" stop-color="#0019dd"/><stop offset="0.7519" stop-color="#0086dd"/><stop offset="0.7528" stop-color="#0097dd"/><stop offset="0.7585" stop-color="#0097dd"/><stop offset="0.7594" stop-color="#00a1c4"/><stop offset="0.7603" stop-color="#00aa8d"/><stop offset="0.7613" stop-color="#00a878"/><stop offset="0.7791" stop-color="#00a878"/><stop offset="0.7810" stop-color="#009b0c"/><stop offset="0.7895" stop-color="#009b0c"/><stop offset="0.7904" stop-color="#00aa8c"/><stop offset="0.7914" stop-color="#009bd6"/><stop offset="0.7951" stop-color="#009bd6"/><stop offset="0.7961" stop-color="#00aaa4"/><stop offset="0.7970" stop-color="#009b0c"/><stop offset="0.8045" stop-color="#009b0c"/><stop offset="0.8055" stop-color="#00aa8c"/><stop offset="0.8064" stop-color="#009bd6"/><stop offset="0.8224" stop-color="#009bd6"/><stop offset="0.8233" stop-color="#008bdd"/><stop offset="0.8242" stop-color="#001cdd"/><stop offset="0.8252" stop-color="#0000db"/><stop offset="0.8299" stop-color="#0000db"/><stop offset="0.8308" stop-color="#0000b3"/><stop offset="0.8318" stop-color="#6d009c"/><stop offset="0.8327" stop-color="#800090"/><stop offset="0.8665" stop-color="#7e008f"/><stop offset="0.9004" stop-color="#770088"/><stop offset="0.9492" stop-color="#300036"/><stop offset="0.9737" stop-color="#1a001e"/><stop offset="1.0000" stop-color="#140016"/></linearGradient>
<linearGradient id="g24"><stop offset="0.0000" stop-color="#7e008f"/><stop offset="0.0028" stop-color="#7e008f"/><stop offset="0.0038" stop-color="#750086"/><stop offset="0.0047" stop-color="#130016"/><stop offset="0.1898" stop-color="#130016"/><stop offset="0.1945" stop-color="#1d0021"/><stop offset="0.1983" stop-color="#2c0033"/><stop offset="0.2021" stop-color="#4a0054"/><stop offset="0.2058" stop-color="#780089"/><stop offset="0.2096" stop-color="#810092"/><stop offset="0.2124" stop-color="#850096"/><stop offset="0.2190" stop-color="#860097"/><stop offset="0.2199" stop-color="#7d009a"/><stop offset="0.2209" stop-color="#4c00a0"/><stop offset="0.2218" stop-color="#1000a8"/><stop offset="0.2227" stop-color="#0000b5"/><stop offset="0.2246" stop-color="#0000d5"/><stop offset="0.2331" stop-color="#0000d5"/><stop offset="0.2340" stop-color="#000add"/><stop offset="0.2368" stop-color="#005fdd"/><stop offset="0.2378" stop-color="#006edd"/><stop offset="0.2387" stop-color="#0079dd"/><stop offset="0.2425" stop-color="#008add"/><stop offset="0.2632" stop-color="#0099dd"/><stop offset="0.2801" stop-color="#009fcc"/><stop offset="0.3731" stop-color="#00aaaa"/><stop offset="0.4004" stop-color="#00aaa0"/><stop offset="0.4173" stop-color="#00aa89"/><stop offset="0.4182" stop-color="#00aa86"/><stop offset="0.4267" stop-color="#00a24b"/><stop offset="0.4380" stop-color="#009d24"/><stop offset="0.4699" stop-color="#009900"/><stop offset="0.5094" stop-color="#00a200"/><stop offset="0.5432" stop-color="#009900"/><stop offset="0.5583" stop-color="#009d21"/><stop offset="0.5714" stop-color="#00a665"/><stop offset="0.5789" stop-color="#00aa88"/><stop offset="0.5977" stop-color="#00aa99"/><stop offset="0.6071" stop-color="#00aaaa"/><stop offset="0.6391" stop-color="#0099dd"/><stop offset="0.6711" stop-color="#0076dd"/><stop offset="0.6767" stop-color="#005fdd"/><stop offset="0.6955" stop-color="#0000dd"/><stop offset="0.6992" stop-color="#0000d5"/><stop offset="0.7397" stop-color="#0000c2"/><stop offset="0.7406" stop-color="#0032dd"/><stop offset="0.7415" stop-color="#00a7b3"/><stop offset="0.7425" stop-color="#00a665"/><stop offset="0.7462" stop-color="#00a665"/><stop offset="0.7472" stop-color="#00aa92"/><stop offset="0.7481" stop-color="#0070dd"/><stop offset="0.7491" stop-color="#0000d5"/><stop offset="0.7500" stop-color="#0000d5"/><stop offset="0.7509" stop-color="#000add"/><stop offset="0.7519" stop-color="#0081dd"/><stop offset="0.7528" stop-color="#0091dd"/><stop offset="0.7585" stop-color="#0091dd"/><stop offset="0.7594" stop-color="#009ece"/><stop offset="0.7603" stop-color="#00aa95"/><stop offset="0.7613" stop-color="#00aa8c"/><stop offset="0.7791" stop-color="#00aa8c"/><stop offset="0.7801" stop-color="#00a665"/><stop offset="0.7810" stop-color="#009f31"/><stop offset="0.7895" stop-color="#009f31"/><stop offset="0.7904" stop-color="#00aa95"/><stop offset="0.7914" stop-color="#0097dd"/><stop offset="0.7951" stop-color="#0097dd"/><stop offset="0.7961" stop-color="#00a9ac"/><stop offset="0.7970" stop-color="#009f31"/><stop offset="0.8045" stop-color="#009f31"/><stop offset="0.8055" stop-color="#00aa95"/><stop offset="0.8064" stop-color="#0097dd"/><stop offset="0.8224" stop-color="#0097dd"/><stop offset="0.8233" stop-color="#0085dd"/><stop offset="0.8242" stop-color="#000cdd"/><stop offset="0.8252" stop-color="#0000d5"/><stop offset="0.8299" stop-color="#0000d5"/><stop offset="0.8308" stop-color="#0000ae"/><stop offset="0.8318" stop-color="#6d009c"/><stop offset="0.8327" stop-color="#800090"/><stop offset="0.8665" stop-color="#7e008f"/><stop offset="0.9004" stop-color="#770088"/><stop offset="0.9492" stop-color="#300036"/><stop offset="0.9737" stop-color="#1a001e"/><stop offset="1.0000" stop-color="#140016"/></linearGradient>
<linearGradient id="g25"><stop offset="0.0000" stop-color="#7e008f"/><stop offset="0.0028" stop-color="#7e008f"/><stop offset="0.0038" stop-color="#750086"/><stop offset="0.0047" stop-color="#130016"/><stop offset="0.1898" stop-color="#130016"/><stop offset="0.1945" stop-color="#1d0021"/><stop offset="0.1983" stop-color="#2c0033"/><stop offset="0.2021" stop-color="#4a0054"/><stop offset="0.2058" stop-color="#780089"/><stop offset="0.2096" stop-color="#810092"/><stop offset="0.2124" stop-color="#850096"/><stop offset="0.2190" stop-color="#860097"/><stop offset="0.2199" stop-color="#7d009a"/><stop offset="0.2209" stop-color="#3b00a3"/><stop offset="0.2218" stop-color="#0000ac"/><stop offset="0.2237" stop-color="#0000d0"/><stop offset="0.2246" stop-color="#0005dd"/><stop offset="0.2331" stop-color="#0005dd"/><stop offset="0.2359" stop-color="#005fdd"/><stop offset="0.2368" stop-color="#0079dd"/><stop offset="0.2425" stop-color="#0094dd"/><stop offset="0.2491" stop-color="#0099dd"/><stop offset="0.2801" stop-color="#00a4bb"/><stop offset="0.3224" stop-color="#00aaaa"/><stop offset="0.3778" stop-color="#00aa9d"/><stop offset="0.4004" stop-color="#00aa93"/><stop offset="0.4088" stop-color="#00aa86"/><stop offset="0.4154" stop-color="#00a562"/><stop offset="0.4267" stop-color="#009b0f"/><stop offset="0.4314" stop-color="#009900"/><stop offset="0.4380" stop-color="#009f00"/><stop offset="0.4530" stop-color="#00a400"/><stop offset="0.5094" stop-color="#00b200"/><stop offset="0.5395" stop-color="#00ab00"/><stop offset="0.5583" stop-color="#00a000"/><stop offset="0.5630" stop-color="#009a00"/><stop offset="0.5639" stop-color="#009902"/><stop offset="0.5714" stop-color="#009e2b"/><stop offset="0.5827" stop-color="#00a562"/><stop offset="0.5930" stop-color="#00aa87"/><stop offset="0.5977" stop-color="#00aa8c"/><stop offset="0.6090" stop-color="#00aaa1"/><stop offset="0.6175" stop-color="#00aaaa"/><stop offset="0.6485" stop-color="#0099dd"/><stop offset="0.6776" stop-color="#0077dd"/><stop offset="0.6992" stop-color="#0005dd"/><stop offset="0.7030" stop-color="#0000dd"/><stop offset="0.7397" stop-color="#0000cb"/><stop offset="0.7406" stop-color="#004ddd"/><stop offset="0.7415" stop-color="#00aaa4"/><stop offset="0.7425" stop-color="#009e2b"/><stop offset="0.7462" stop-color="#009e2b"/><stop offset="0.7472" stop-color="#00a87a"/><stop offset="0.7481" stop-color="#007edd"/><stop offset="0.7491" stop-color="#0005dd"/><stop offset="0.7500" stop-color="#0005dd"/><stop offset="0.7509" stop-color="#0023dd"/><stop offset="0.7519" stop-color="#008add"/><stop offset="0.7528" stop-color="#009ada"/><stop offset="0.7585" stop-color="#009ada"/><stop offset="0.7594" stop-color="#00a3be"/><stop offset="0.7603" stop-color="#00aa87"/><stop offset="0.7613" stop-color="#00a562"/><stop offset="0.7791" stop-color="#00a562"/><stop offset="0.7801" stop-color="#009e2b"/><stop offset="0.7810" stop-color="#009c00"/><stop offset="0.7895" stop-color="#009c00"/><stop offset="0.7904" stop-color="#00aa84"/><stop offset="0.7914" stop-color="#009dd0"/><stop offset="0.7951" stop-color="#009dd0"/><stop offset="0.7961" stop-color="#00aa9f"/><stop offset="0.7970" stop-color="#009c00"/><stop offset="0.8045" stop-color="#009c00"/><stop offset="0.8055" stop-color="#00aa84"/><stop offset="0.8064" stop-color="#009dd0"/><stop offset="0.8224" stop-color="#009dd0"/><stop offset="0.8233" stop-color="#008fdd"/><stop offset="0.8242" stop-color="#0026dd"/><stop offset="0.8252" stop-color="#0005dd"/><stop offset="0.8299" stop-color="#0005dd"/><stop offset="0.8308" stop-color="#0000b6"/><stop offset="0.8318" stop-color="#6d009c"/><stop offset="0.8327" stop-color="#800090"/><stop offset="0.8665" stop-color="#7e008f"/><stop offset="0.9004" stop-color="#770088"/><stop offset="0.9492" stop-color="#300036"/><stop offset="0.9737" stop-color="#1a001e"/><stop offset="1.0000" stop-color="#140016"/></linearGradient>
<linearGradient id="g26"><stop offset="0.0000" stop-color="#7e008f"/><stop offset="0.0028" stop-color="#7e008f"/><stop offset="0.0038" stop-color="#750086"/><stop offset="0.0047" stop-color="#130016"/><stop offset="0.1898" stop-color="#130016"/><stop offset="0.1945" stop-color="#1d0021"/><stop offset="0.1983" stop-color="#2c0033"/><stop offset="0.2021" stop-color="#4a0054"/><stop offset="0.2058" stop-color="#780089"/><stop offset="0.2096" stop-color="#810092"/><stop offset="0.2124" stop-color="#850096"/><stop offset="0.2190" stop-color="#860097"/><stop offset="0.2199" stop-color="#7d009a"/><stop offset="0.2209" stop-color="#4900a1"/><stop offset="0.2218" stop-color="#0c00a8"/><stop offset="0.2227" stop-color="#0000b7"/><stop offset="0.2246" stop-color="#0000d7"/><stop offset="0.2331" stop-color="#0000d7"/><stop offset="0.2340" stop-color="#000fdd"/><stop offset="0.2368" stop-color="#0065dd"/><stop offset="0.2378" stop-color="#0075dd"/><stop offset="0.2425" stop-color="#008cdd"/><stop offset="0.2603" stop-color="#0099dd"/><stop offset="0.2801" stop-color="#00a0c9"/><stop offset="0.3618" stop-color="#00aaaa"/><stop offset="0.4004" stop-color="#00aa9d"/><stop offset="0.4164" stop-color="#00aa88"/><stop offset="0.4267" stop-color="#00a13f"/><stop offset="0.4380" stop-color="#009c18"/><stop offset="0.4577" stop-color="#009900"/><stop offset="0.5094" stop-color="#00a500"/><stop offset="0.5395" stop-color="#009e00"/><stop offset="0.5489" stop-color="#009900"/><stop offset="0.5583" stop-color="#009c15"/><stop offset="0.5714" stop-color="#00a459"/><stop offset="0.5818" stop-color="#00aa88"/><stop offset="0.5977" stop-color="#00aa97"/><stop offset="0.6090" stop-color="#00aaab"/><stop offset="0.6410" stop-color="#0099dd"/><stop offset="0.6720" stop-color="#0077dd"/><stop offset="0.6767" stop-color="#0065dd"/><stop offset="0.6964" stop-color="#0000dd"/><stop offset="0.6992" stop-color="#0000d7"/><stop offset="0.7397" stop-color="#0000c3"/><stop offset="0.7406" stop-color="#0037dd"/><stop offset="0.7415" stop-color="#00a8b0"/><stop offset="0.7425" stop-color="#00a459"/><stop offset="0.7462" stop-color="#00a459"/><stop offset="0.7472" stop-color="#00aa8f"/><stop offset="0.7481" stop-color="#0076dd"/><stop offset="0.7491" stop-color="#0000d7"/><stop offset="0.7500" stop-color="#0000d7"/><stop offset="0.7509" stop-color="#000fdd"/><stop offset="0.7519" stop-color="#0082dd"/><stop offset="0.7528" stop-color="#0093dd"/><stop offset="0.7585" stop-color="#0093dd"/><stop offset="0.7594" stop-color="#009fcb"/><stop offset="0.7603" stop-color="#00aa93"/><stop offset="0.7613" stop-color="#00aa8a"/><stop offset="0.7791" stop-color="#00aa8a"/><stop offset="0.7801" stop-color="#00a459"/><stop offset="0.7810" stop-color="#009e25"/><stop offset="0.7895" stop-color="#009e25"/><stop offset="0.7904" stop-color="#00aa92"/><stop offset="0.7914" stop-color="#0099dc"/><stop offset="0.7951" stop-color="#0099dc"/><stop offset="0.7961" stop-color="#00aaa9"/><stop offset="0.7970" stop-color="#009e25"/><stop offset="0.8045" stop-color="#009e25"/><stop offset="0.8055" stop-color="#00aa92"/><stop offset="0.8064" stop-color="#0099dc"/><stop offset="0.8224" stop-color="#0099dc"/><stop offset="0.8233" stop-color="#0087dd"/><stop offset="0.8242" stop-color="#0011dd"/><stop offset="0.8252" stop-color="#0000d7"/><stop offset="0.8299" stop-color="#0000d7"/><stop offset="0.8308" stop-color="#0000af"/><stop offset="0.8318" stop-color="#6d009c"/><stop offset="0.8327" stop-color="#800090"/><stop offset="0.8665" stop-color="#7e008f"/><stop offset="0.9004" stop-color="#770088"/><stop offset="0.9492" stop-color="#300036"/><stop offset="0.9737" stop-color="#1a001e"/><stop offset="1.0000" stop-color="#140016"/></linearGradient>
<linearGradient id="g27"><stop offset="0.0000" stop-color="#7e008f"/><stop offset="0.0028" stop-color="#7e008f"/><stop offset="0.0038" stop-color="#750086"/><stop offset="0.0047" stop-color="#130016"/><stop offset="0.1898" stop-color="#130016"/><stop offset="0.1945" stop-color="#1d0021"/><stop offset="0.1983" stop-color="#2c0033"/><stop offset="0.2021" stop-color="#4a0054"/><stop offset="0.2058" stop-color="#780089"/><stop offset="0.2096" stop-color="#810092"/><stop offset="0.2124" stop-color="#850096"/><stop offset="0.2190" stop-color="#860097"/><stop offset="0.2199" stop-color="#7d009a"/><stop offset="0.2218" stop-color="#0000aa"/><stop offset="0.2237" stop-color="#0000ce"/><stop offset="0.2246" stop-color="#0000dd"/><stop offset="0.2331" stop-color="#0000dd"/><stop offset="0.2368" stop-color="#0077dd"/><stop offset="0.2425" stop-color="#0092dd"/><stop offset="0.2519" stop-color="#0099dd"/><stop offset="0.2801" stop-color="#00a3be"/><stop offset="0.3318" stop-color="#00aaaa"/><stop offset="0.3778" stop-color="#00aa9f"/><stop offset="0.4004" stop-color="#00aa96"/><stop offset="0.4107" stop-color="#00aa86"/><stop offset="0.4154" stop-color="#00a76d"/><stop offset="0.4267" stop-color="#009c1b"/><stop offset="0.4342" stop-color="#009900"/><stop offset="0.4530" stop-color="#00a100"/><stop offset="0.5094" stop-color="#00af00"/><stop offset="0.5395" stop-color="#00a800"/><stop offset="0.5611" stop-color="#009900"/><stop offset="0.5714" stop-color="#00a036"/><stop offset="0.5827" stop-color="#00a76d"/><stop offset="0.5902" stop-color="#00aa88"/><stop offset="0.5977" stop-color="#00aa8f"/><stop offset="0.6090" stop-color="#00aaa3"/><stop offset="0.6156" stop-color="#00aaab"/><stop offset="0.6466" stop-color="#0099dd"/><stop offset="0.6654" stop-color="#0085dd"/><stop offset="0.6767" stop-color="#0077dd"/><stop offset="0.6992" stop-color="#0000dd"/><stop offset="0.7397" stop-color="#0000c9"/><stop offset="0.7406" stop-color="#0047dd"/><stop offset="0.7415" stop-color="#00aaa7"/><stop offset="0.7425" stop-color="#00a036"/><stop offset="0.7462" stop-color="#00a036"/><stop offset="0.7472" stop-color="#00aa85"/><stop offset="0.7481" stop-color="#007cdd"/><stop offset="0.7491" stop-color="#0000dd"/><stop offset="0.7500" stop-color="#0000dd"/><stop offset="0.7509" stop-color="#001edd"/><stop offset="0.7519" stop-color="#0088dd"/><stop offset="0.7528" stop-color="#0099dd"/><stop offset="0.7585" stop-color="#0099dd"/><stop offset="0.7594" stop-color="#00a2c1"/><stop offset="0.7603" stop-color="#00aa8b"/><stop offset="0.7613" stop-color="#00a76d"/><stop offset="0.7791" stop-color="#00a76d"/><stop offset="0.7810" stop-color="#009900"/><stop offset="0.7895" stop-color="#009900"/><stop offset="0.7904" stop-color="#00aa8a"/><stop offset="0.7914" stop-color="#009cd3"/><stop offset="0.7951" stop-color="#009cd3"/><stop offset="0.7961" stop-color="#00aaa2"/><stop offset="0.7970" stop-color="#009900"/><stop offset="0.8045" stop-color="#009900"/><stop offset="0.8055" stop-color="#00aa8a"/><stop offset="0.8064" stop-color="#009cd3"/><stop offset="0.8224" stop-color="#009cd3"/><stop offset="0.8233" stop-color="#008ddd"/><stop offset="0.8242" stop-color="#0021dd"/><stop offset="0.8252" stop-color="#0000dd"/><stop offset="0.8299" stop-color="#0000dd"/><stop offset="0.8308" stop-color="#0000b4"/><stop offset="0.8318" stop-color="#6d009c"/><stop offset="0.8327" stop-color="#800090"/><stop offset="0.8665" stop-color="#7e008f"/><stop offset="0.9004" stop-color="#770088"/><stop offset="0.9492" stop-color="#300036"/><stop offset="0.9737" stop-color="#1a001e"/><stop offset="1.0000" stop-color="#140016"/></linearGradient>
<linearGradient id="g28"><stop offset="0.0000" stop-color="#7e008f"/><stop offset="0.0028" stop-color="#7e008f"/><stop offset="0.0038" stop-color="#750086"/><stop offset="0.0047" stop-color="#130016"/><stop offset="0.1898" stop-color="#130016"/><stop offset="0.1945" stop-color="#1d0021"/><stop offset="0.1983" stop-color="#2c0033"/><stop offset="0.2021" stop-color="#4a0054"/><stop offset="0.2058" stop-color="#780089"/><stop offset="0.2096" stop-color="#810092"/><stop offset="0.2124" stop-color="#850096"/><stop offset="0.2190" stop-color="#860097"/><stop offset="0.2199" stop-color="#7d009a"/><stop offset="0.2218" stop-color="#0000aa"/><stop offset="0.2237" stop-color="#0000ce"/><stop offset="0.2246" stop-color="#0000dd"/><stop offset="0.2331" stop-color="#0000dd"/><stop offset="0.2368" stop-color="#0077dd"/><stop offset="0.2425" stop-color="#0092dd"/><stop offset="0.2519" stop-color="#0099dd"/><stop offset="0.2801" stop-color="#00a3be"/><stop offset="0.3318" stop-color="#00aaaa"/><stop offset="0.3778" stop-color="#00aa9f"/><stop offset="0.4004" stop-color="#00aa96"/><stop offset="0.4107" stop-color="#00aa86"/><stop offset="0.4154" stop-color="#00a76d"/><stop offset="0.4173" stop-color="#00a55f"/><stop offset="0.4182" stop-color="#00bb00"/><stop offset="0.4220" stop-color="#00bb00"/><stop offset="0.4229" stop-color="#00a036"/><stop offset="0.4267" stop-color="#009c1b"/><stop offset="0.4342" stop-color="#009900"/><stop offset="0.4530" stop-color="#00a100"/><stop offset="0.5094" stop-color="#00af00"/><stop offset="0.5395" stop-color="#00a800"/><stop offset="0.5611" stop-color="#009900"/><stop offset="0.5714" stop-color="#00a036"/><stop offset="0.5827" stop-color="#00a76d"/><stop offset="0.5902" stop-color="#00aa88"/><stop offset="0.5977" stop-color="#00aa8f"/><stop offset="0.6090" stop-color="#00aaa3"/><stop offset="0.6156" stop-color="#00aaab"/><stop offset="0.6466" stop-color="#0099dd"/><stop offset="0.6767" stop-color="#0077dd"/><stop offset="0.6992" stop-color="#0000dd"/><stop offset="0.7397" stop-color="#0000c9"/><stop offset="0.7406" stop-color="#0047dd"/><stop offset="0.7415" stop-color="#00aaa7"/><stop offset="0.7425" stop-color="#00a036"/><stop offset="0.7462" stop-color="#00a036"/><stop offset="0.7472" stop-color="#00aa85"/><stop offset="0.7481" stop-color="#007cdd"/><stop offset="0.7491" stop-color="#0000dd"/><stop offset="0.7500" stop-color="#0000dd"/><stop offset="0.7509" stop-color="#001edd"/><stop offset="0.7519" stop-color="#0088dd"/><stop offset="0.7528" stop-color="#0099dd"/><stop offset="0.7585" stop-color="#0099dd"/><stop offset="0.7594" stop-color="#00a2c1"/><stop offset="0.7603" stop-color="#00aa8b"/><stop offset="0.7613" stop-color="#00a76d"/><stop offset="0.7791" stop-color="#00a76d"/><stop offset="0.7810" stop-color="#009900"/><stop offset="0.7895" stop-color="#009900"/><stop offset="0.7904" stop-color="#00aa8a"/><stop offset="0.7914" stop-color="#009cd3"/><stop offset="0.7951" stop-color="#009cd3"/><stop offset="0.7961" stop-color="#00aaa2"/><stop offset="0.7970" stop-color="#009900"/><stop offset="0.8045" stop-color="#009900"/><stop offset="0.8055" stop-color="#00aa8a"/><stop offset="0.8064" stop-color="#009cd3"/><stop offset="0.8224" stop-color="#009cd3"/><stop offset="0.8233" stop-color="#008ddd"/><stop offset="0.8242" stop-color="#0021dd"/><stop offset="0.8252" stop-color="#0000dd"/><stop offset="0.8299" stop-color="#0000dd"/><stop offset="0.8308" stop-color="#0000b4"/><stop offset="0.8318" stop-color="#6d009c"/><stop offset="0.8327" stop-color="#800090"/><stop offset="0.8665" stop-color="#7e008f"/><stop offset="0.9004" stop-color="#770088"/><stop offset="0.9492" stop-color="#300036"/><stop offset="0.9737" stop-color="#1a001e"/><stop offset="1.0000" stop-color="#140016"/></linearGradient>
<linearGradient id="g29"><stop offset="0.0000" stop-color="#7e008f"/><stop offset="0.0028" stop-color="#7e008f"/><stop offset="0.0038" stop-color="#750086"/><stop offset="0.0047" stop-color="#130016"/><stop offset="0.1898" stop-color="#130016"/><stop offset="0.1945" stop-color="#1d0021"/><stop offset="0.1983" stop-color="#2c0033"/><stop offset="0.2021" stop-color="#4a0054"/><stop offset="0.2058" stop-color="#780089"/><stop offset="0.2096" stop-color="#810092"/><stop offset="0.2124" stop-color="#850096"/><stop offset="0.2190" stop-color="#860097"/><stop offset="0.2199" stop-color="#7d009a"/><stop offset="0.2209" stop-color="#3400a4"/><stop offset="0.2218" stop-color="#0000af"/><stop offset="0.2237" stop-color="#0000d4"/><stop offset="0.2246" stop-color="#000edd"/><stop offset="0.2331" stop-color="#000edd"/><stop offset="0.2359" stop-color="#006add"/><stop offset="0.2368" stop-color="#007cdd"/><stop offset="0.2425" stop-color="#0098dd"/><stop offset="0.2434" stop-color="#0099dd"/><stop offset="0.2801" stop-color="#00a7b4"/><stop offset="0.3289" stop-color="#00aa9f"/><stop offset="0.3412" stop-color="#00aa96"/><stop offset="0.3534" stop-color="#00aa89"/><stop offset="0.3712" stop-color="#009f2e"/><stop offset="0.3759" stop-color="#009c1b"/><stop offset="0.3835" stop-color="#009900"/><stop offset="0.3919" stop-color="#009c00"/><stop offset="0.4004" stop-color="#009b00"/><stop offset="0.4154" stop-color="#00a100"/><stop offset="0.4173" stop-color="#00a200"/><stop offset="0.4182" stop-color="#25ff00"/><stop offset="0.4220" stop-color="#25ff00"/><stop offset="0.4229" stop-color="#00a700"/><stop offset="0.4267" stop-color="#00ab00"/><stop offset="0.4380" stop-color="#00ad00"/><stop offset="0.4586" stop-color="#00ad00"/><stop offset="0.5094" stop-color="#00b900"/><stop offset="0.5395" stop-color="#00b200"/><stop offset="0.5583" stop-color="#00a600"/><stop offset="0.5677" stop-color="#009900"/><stop offset="0.5827" stop-color="#00a24b"/><stop offset="0.5987" stop-color="#00aa89"/><stop offset="0.6090" stop-color="#00aa9c"/><stop offset="0.6222" stop-color="#00aaab"/><stop offset="0.6523" stop-color="#0099dd"/><stop offset="0.6795" stop-color="#0078dd"/><stop offset="0.6992" stop-color="#000edd"/><stop offset="0.7115" stop-color="#0000dd"/><stop offset="0.7397" stop-color="#0000ce"/><stop offset="0.7406" stop-color="#0058dd"/><stop offset="0.7415" stop-color="#00aa9f"/><stop offset="0.7425" stop-color="#009b13"/><stop offset="0.7462" stop-color="#009b13"/><stop offset="0.7472" stop-color="#00a564"/><stop offset="0.7481" stop-color="#0081dd"/><stop offset="0.7491" stop-color="#000edd"/><stop offset="0.7500" stop-color="#000edd"/><stop offset="0.7509" stop-color="#002ddd"/><stop offset="0.7519" stop-color="#008edd"/><stop offset="0.7528" stop-color="#009cd4"/><stop offset="0.7585" stop-color="#009cd4"/><stop offset="0.7594" stop-color="#00a6b7"/><stop offset="0.7603" stop-color="#00a772"/><stop offset="0.7613" stop-color="#00a24b"/><stop offset="0.7791" stop-color="#00a24b"/><stop offset="0.7801" stop-color="#009b13"/><stop offset="0.7810" stop-color="#00a200"/><stop offset="0.7895" stop-color="#00a200"/><stop offset="0.7904" stop-color="#00a76e"/><stop offset="0.7914" stop-color="#00a0c9"/><stop offset="0.7951" stop-color="#00a0c9"/><stop offset="0.7961" stop-color="#00aa9a"/><stop offset="0.7970" stop-color="#00a200"/><stop offset="0.8045" stop-color="#00a200"/><stop offset="0.8055" stop-color="#00a76e"/><stop offset="0.8064" stop-color="#00a0c9"/><stop offset="0.8224" stop-color="#00a0c9"/><stop offset="0.8233" stop-color="#0093dd"/><stop offset="0.8242" stop-color="#0030dd"/><stop offset="0.8252" stop-color="#000edd"/><stop offset="0.8299" stop-color="#000edd"/><stop offset="0.8308" stop-color="#0000b9"/><stop offset="0.8318" stop-color="#6d009c"/><stop offset="0.8327" stop-color="#800090"/><stop offset="0.8665" stop-color="#7e008f"/><stop offset="0.9004" stop-color="#770088"/><stop offset="0.9492" stop-color="#300036"/><stop offset="0.9737" stop-color="#1a001e"/><stop offset="1.0000" stop-color="#140016"/></linearGradient>
<linearGradient id="g30"><stop offset="0.0000" stop-color="#7e008f"/><stop offset="0.0028" stop-color="#7e008f"/><stop offset="0.0038" stop-color="#750086"/><stop offset="0.0047" stop-color="#130016"/><stop offset="0.1908" stop-color="#140016"/><stop offset="0.1945" stop-color="#1d0021"/><stop offset="0.1983" stop-color="#2c0033"/><stop offset="0.2021" stop-color="#4a0054"/><stop offset="0.2058" stop-color="#780089"/><stop offset="0.2096" stop-color="#810092"/><stop offset="0.2124" stop-color="#850096"/><stop offset="0.2190" stop-color="#860097"/><stop offset="0.2199" stop-color="#7d009a"/><stop offset="0.2209" stop-color="#3b00a3"/><stop offset="0.2218" stop-color="#0000ac"/><stop offset="0.2237" stop-color="#0000d0"/><stop offset="0.2246" stop-color="#0005dd"/><stop offset="0.2331" stop-color="#0005dd"/><stop offset="0.2359" stop-color="#005fdd"/><stop offset="0.2368" stop-color="#0079dd"/><stop offset="0.2425" stop-color="#0094dd"/><stop offset="0.2491" stop-color="#0099dd"/><stop offset="0.2801" stop-color="#00a4bb"/><stop offset="0.3224" stop-color="#00aaaa"/><stop offset="0.3778" stop-color="#00aa9d"/><stop offset="0.4004" stop-color="#00aa93"/><stop offset="0.4088" stop-color="#00aa86"/><stop offset="0.4154" stop-color="#00a562"/><stop offset="0.4173" stop-color="#00a354"/><stop offset="0.4182" stop-color="#daf500"/><stop offset="0.4220" stop-color="#daf500"/><stop offset="0.4229" stop-color="#009e2b"/><stop offset="0.4267" stop-color="#009b0f"/><stop offset="0.4314" stop-color="#009900"/><stop offset="0.4380" stop-color="#009f00"/><stop offset="0.4530" stop-color="#00a400"/><stop offset="0.5094" stop-color="#00b200"/><stop offset="0.5395" stop-color="#00ab00"/><stop offset="0.5583" stop-color="#00a000"/><stop offset="0.5630" stop-color="#009a00"/><stop offset="0.5639" stop-color="#009902"/><stop offset="0.5714" stop-color="#009e2b"/><stop offset="0.5827" stop-color="#00a562"/><stop offset="0.5930" stop-color="#00aa87"/><stop offset="0.5977" stop-color="#00aa8c"/><stop offset="0.6090" stop-color="#00aaa1"/><stop offset="0.6175" stop-color="#00aaaa"/><stop offset="0.6485" stop-color="#0099dd"/><stop offset="0.6776" stop-color="#0077dd"/><stop offset="0.6992" stop-color="#0005dd"/><stop offset="0.7030" stop-color="#0000dd"/><stop offset="0.7397" stop-color="#0000cb"/><stop offset="0.7406" stop-color="#004ddd"/><stop offset="0.7415" stop-color="#00aaa4"/><stop offset="0.7425" stop-color="#009e2b"/><stop offset="0.7462" stop-color="#009e2b"/><stop offset="0.7472" stop-color="#00a87a"/><stop offset="0.7481" stop-color="#007edd"/><stop offset="0.7491" stop-color="#0005dd"/><stop offset="0.7500" stop-color="#0005dd"/><stop offset="0.7509" stop-color="#0023dd"/><stop offset="0.7519" stop-color="#008add"/><stop offset="0.7528" stop-color="#009ada"/><stop offset="0.7585" stop-color="#009ada"/><stop offset="0.7594" stop-color="#00a3be"/><stop offset="0.7603" stop-color="#00aa87"/><stop offset="0.7613" stop-color="#00a562"/><stop offset="0.7791" stop-color="#00a562"/><stop offset="0.7801" stop-color="#009e2b"/><stop offset="0.7810" stop-color="#009c00"/><stop offset="0.7895" stop-color="#009c00"/><stop offset="0.7904" stop-color="#00aa84"/><stop offset="0.7914" stop-color="#009dd0"/><stop offset="0.7951" stop-color="#009dd0"/><stop offset="0.7961" stop-color="#00aa9f"/><stop offset="0.7970" stop-color="#009c00"/><stop offset="0.8045" stop-color="#009c00"/><stop offset="0.8055" stop-color="#00aa84"/><stop offset="0.8064" stop-color="#009dd0"/><stop offset="0.8224" stop-color="#009dd0"/><stop offset="0.8233" stop-color="#008fdd"/><stop offset="0.8242" stop-color="#0026dd"/><stop offset="0.8252" stop-color="#0005dd"/><stop offset="0.8299" stop-color="#0005dd"/><stop offset="0.8308" stop-color="#0000b6"/><stop offset="0.8318" stop-color="#6d009c"/><stop offset="0.8327" stop-color="#800090"/><stop offset="0.8665" stop-color="#7e008f"/><stop offset="0.9004" stop-color="#770088"/><stop offset="0.9492" stop-color="#300036"/><stop offset="0.9737" stop-color="#1a001e"/><stop offset="1.0000" stop-color="#140016"/></linearGradient>
<linearGradient id="g31"><stop offset="0.0000" stop-color="#7e008f"/><stop offset="0.0028" stop-color="#7e008f"/><stop offset="0.0038" stop-color="#750086"/><stop offset="0.0047" stop-color="#130016"/><stop offset="0.1908" stop-color="#140016"/><stop offset="0.1945" stop-color="#1d0021"/><stop offset="0.1983" stop-color="#2c0033"/><stop offset="0.2021" stop-color="#4a0054"/><stop offset="0.2058" stop-color="#780089"/><stop offset="0.2096" stop-color="#810092"/><stop offset="0.2124" stop-color="#850096"/><stop offset="0.2190" stop-color="#860097"/><stop offset="0.2199" stop-color="#7d009a"/><stop offset="0.2218" stop-color="#0400a9"/><stop offset="0.2227" stop-color="#0000bb"/><stop offset="0.2246" stop-color="#0000db"/><stop offset="0.2331" stop-color="#0000db"/><stop offset="0.2340" stop-color="#0019dd"/><stop offset="0.2368" stop-color="#0071dd"/><stop offset="0.2378" stop-color="#007add"/><stop offset="0.2425" stop-color="#0090dd"/><stop offset="0.2547" stop-color="#0099dd"/><stop offset="0.2801" stop-color="#00a2c2"/><stop offset="0.3412" stop-color="#00aaaa"/><stop offset="0.3778" stop-color="#00aaa2"/><stop offset="0.4004" stop-color="#00aa98"/><stop offset="0.4126" stop-color="#00aa87"/><stop offset="0.4154" stop-color="#00a878"/><stop offset="0.4173" stop-color="#00a66a"/><stop offset="0.4182" stop-color="#f5e000"/><stop offset="0.4220" stop-color="#f5e000"/><stop offset="0.4229" stop-color="#00a142"/><stop offset="0.4267" stop-color="#009e27"/><stop offset="0.4380" stop-color="#009900"/><stop offset="0.5094" stop-color="#00ab00"/><stop offset="0.5395" stop-color="#00a500"/><stop offset="0.5583" stop-color="#009a00"/><stop offset="0.5592" stop-color="#009901"/><stop offset="0.5714" stop-color="#00a142"/><stop offset="0.5827" stop-color="#00a878"/><stop offset="0.5874" stop-color="#00aa88"/><stop offset="0.5977" stop-color="#00aa91"/><stop offset="0.6090" stop-color="#00aaa6"/><stop offset="0.6128" stop-color="#00aaaa"/><stop offset="0.6447" stop-color="#0099dd"/><stop offset="0.6654" stop-color="#0083dd"/><stop offset="0.6758" stop-color="#0075dd"/><stop offset="0.6983" stop-color="#0000dd"/><stop offset="0.6992" stop-color="#0000db"/><stop offset="0.7397" stop-color="#0000c7"/><stop offset="0.7406" stop-color="#0042dd"/><stop offset="0.7415" stop-color="#00aaa9"/><stop offset="0.7425" stop-color="#00a142"/><stop offset="0.7462" stop-color="#00a142"/><stop offset="0.7472" stop-color="#00aa8a"/><stop offset="0.7481" stop-color="#007add"/><stop offset="0.7491" stop-color="#0000db"/><stop offset="0.7500" stop-color="#0000db"/><stop offset="0.7509" stop-color="#0019dd"/><stop offset="0.7519" stop-color="#0086dd"/><stop offset="0.7528" stop-color="#0097dd"/><stop offset="0.7585" stop-color="#0097dd"/><stop offset="0.7594" stop-color="#00a1c4"/><stop offset="0.7603" stop-color="#00aa8d"/><stop offset="0.7613" stop-color="#00a878"/><stop offset="0.7791" stop-color="#00a878"/><stop offset="0.7810" stop-color="#009b0c"/><stop offset="0.7895" stop-color="#009b0c"/><stop offset="0.7904" stop-color="#00aa8c"/><stop offset="0.7914" stop-color="#009bd6"/><stop offset="0.7951" stop-color="#009bd6"/><stop offset="0.7961" stop-color="#00aaa4"/><stop offset="0.7970" stop-color="#009b0c"/><stop offset="0.8045" stop-color="#009b0c"/><stop offset="0.8055" stop-color="#00aa8c"/><stop offset="0.8064" stop-color="#009bd6"/><stop offset="0.8224" stop-color="#009bd6"/><stop offset="0.8233" stop-color="#008bdd"/><stop offset="0.8242" stop-color="#001cdd"/><stop offset="0.8252" stop-color="#0000db"/><stop offset="0.8299" stop-color="#0000db"/><stop offset="0.8308" stop-color="#0000b3"/><stop offset="0.8318" stop-color="#6d009c"/><stop offset="0.8327" stop-color="#800090"/><stop offset="0.8665" stop-color="#7e008f"/><stop offset="0.9004" stop-color="#770088"/><stop offset="0.9492" stop-color="#300036"/><stop offset="0.9737" stop-color="#1a001e"/><stop offset="1.0000" stop-color="#140016"/></linearGradient>
<linearGradient id="g32"><stop offset="0.0000" stop-color="#7e008f"/><stop offset="0.0028" stop-color="#7e008f"/><stop offset="0.0038" stop-color="#750086"/><stop offset="0.0047" stop-color="#130016"/><stop offset="0.1908" stop-color="#140016"/><stop offset="0.1945" stop-color="#1d0021"/><stop offset="0.1983" stop-color="#2c0033"/><stop offset="0.2021" stop-color="#4a0054"/><stop offset="0.2058" stop-color="#780089"/><stop offset="0.2096" stop-color="#810092"/><stop offset="0.2124" stop-color="#850096"/><stop offset="0.2190" stop-color="#860097"/><stop offset="0.2199" stop-color="#7d009a"/><stop offset="0.2218" stop-color="#0000aa"/><stop offset="0.2237" stop-color="#0000ce"/><stop offset="0.2246" stop-color="#0000dd"/><stop offset="0.2331" stop-color="#0000dd"/><stop offset="0.2368" stop-color="#0077dd"/><stop offset="0.2425" stop-color="#0092dd"/><stop offset="0.2519" stop-color="#0099dd"/><stop offset="0.2801" stop-color="#00a3be"/><stop offset="0.3318" stop-color="#00aaaa"/><stop offset="0.3778" stop-color="#00aa9f"/><stop offset="0.4004" stop-color="#00aa96"/><stop offset="0.4107" stop-color="#00aa86"/><stop offset="0.4154" stop-color="#00a76d"/><stop offset="0.4173" stop-color="#00a55f"/><stop offset="0.4182" stop-color="#f80000"/><stop offset="0.4220" stop-color="#f80000"/><stop offset="0.4229" stop-color="#00a036"/><stop offset="0.4267" stop-color="#009c1b"/><stop offset="0.4342" stop-color="#009900"/><stop offset="0.4530" stop-color="#00a100"/><stop offset="0.5094" stop-color="#00af00"/><stop offset="0.5395" stop-color="#00a800"/><stop offset="0.5611" stop-color="#009900"/><stop offset="0.5714" stop-color="#00a036"/><stop offset="0.5827" stop-color="#00a76d"/><stop offset="0.5902" stop-color="#00aa88"/><stop offset="0.5977" stop-color="#00aa8f"/><stop offset="0.6090" stop-color="#00aaa3"/><stop offset="0.6156" stop-color="#00aaab"/><stop offset="0.6466" stop-color="#0099dd"/><stop offset="0.6654" stop-color="#0085dd"/><stop offset="0.6767" stop-color="#0077dd"/><stop offset="0.6992" stop-color="#0000dd"/><stop offset="0.7397" stop-color="#0000c9"/><stop offset="0.7406" stop-color="#0047dd"/><stop offset="0.7415" stop-color="#00aaa7"/><stop offset="0.7425" stop-color="#00a036"/><stop offset="0.7462" stop-color="#00a036"/><stop offset="0.7472" stop-color="#00aa85"/><stop offset="0.7481" stop-color="#007cdd"/><stop offset="0.7491" stop-color="#0000dd"/><stop offset="0.7500" stop-color="#0000dd"/><stop offset="0.7509" stop-color="#001edd"/><stop offset="0.7519" stop-color="#0088dd"/><stop offset="0.7528" stop-color="#0099dd"/><stop offset="0.7585" stop-color="#0099dd"/><stop offset="0.7594" stop-color="#00a2c1"/><stop offset="0.7603" stop-color="#00aa8b"/><stop offset="0.7613" stop-color="#00a76d"/><stop offset="0.7791" stop-color="#00a76d"/><stop offset="0.7810" stop-color="#009900"/><stop offset="0.7895" stop-color="#009900"/><stop offset="0.7904" stop-color="#00aa8a"/><stop offset="0.7914" stop-color="#009cd3"/><stop offset="0.7951" stop-color="#009cd3"/><stop offset="0.7961" stop-color="#00aaa2"/><stop offset="0.7970" stop-color="#009900"/><stop offset="0.8045" stop-color="#009900"/><stop offset="0.8055" stop-color="#00aa8a"/><stop offset="0.8064" stop-color="#009cd3"/><stop offset="0.8224" stop-color="#009cd3"/><stop offset="0.8233" stop-color="#008ddd"/><stop offset="0.8242" stop-color="#0021dd"/><stop offset="0.8252" stop-color="#0000dd"/><stop offset="0.8299" stop-color="#0000dd"/><stop offset="0.8308" stop-color="#0000b4"/><stop offset="0.8318" stop-color="#6d009c"/><stop offset="0.8327" stop-color="#800090"/><stop offset="0.8665" stop-color="#7e008f"/><stop offset="0.9004" stop-color="#770088"/><stop offset="0.9492" stop-color="#300036"/><stop offset="0.9737" stop-color="#1a001e"/><stop offset="1.0000" stop-color="#140016"/></linearGradient>
<linearGradient id="g33"><stop offset="0.0000" stop-color="#7e008f"/><stop offset="0.0028" stop-color="#7e008f"/><stop offset="0.0038" stop-color="#750086"/><stop offset="0.0047" stop-color="#130016"/><stop offset="0.1908" stop-color="#140016"/><stop offset="0.1945" stop-color="#1d0021"/><stop offset="0.1983" stop-color="#2c0033"/><stop offset="0.2021" stop-color="#4a0054"/><stop offset="0.2058" stop-color="#780089"/><stop offset="0.2096" stop-color="#810092"/><stop offset="0.2124" stop-color="#850096"/><stop offset="0.2190" stop-color="#860097"/><stop offset="0.2199" stop-color="#7d009a"/><stop offset="0.2218" stop-color="#0400a9"/><stop offset="0.2227" stop-color="#0000bb"/><stop offset="0.2246" stop-color="#0000db"/><stop offset="0.2331" stop-color="#0000db"/><stop offset="0.2340" stop-color="#0019dd"/><stop offset="0.2368" stop-color="#0071dd"/><stop offset="0.2378" stop-color="#007add"/><stop offset="0.2425" stop-color="#0090dd"/><stop offset="0.2547" stop-color="#0099dd"/><stop offset="0.2801" stop-color="#00a2c2"/><stop offset="0.3412" stop-color="#00aaaa"/><stop offset="0.3778" stop-color="#00aaa2"/><stop offset="0.4004" stop-color="#00aa98"/><stop offset="0.4126" stop-color="#00aa87"/><stop offset="0.4154" stop-color="#00a878"/><stop offset="0.4173" stop-color="#00a66a"/><stop offset="0.4182" stop-color="#c5fc00"/><stop offset="0.4220" stop-color="#c5fc00"/><stop offset="0.4229" stop-color="#00a142"/><stop offset="0.4267" stop-color="#009e27"/><stop offset="0.4380" stop-color="#009900"/><stop offset="0.5094" stop-color="#00ab00"/><stop offset="0.5395" stop-color="#00a500"/><stop offset="0.5583" stop-color="#009a00"/><stop offset="0.5592" stop-color="#009901"/><stop offset="0.5714" stop-color="#00a142"/><stop offset="0.5827" stop-color="#00a878"/><stop offset="0.5874" stop-color="#00aa88"/><stop offset="0.5977" stop-color="#00aa91"/><stop offset="0.6090" stop-color="#00aaa6"/><stop offset="0.6128" stop-color="#00aaaa"/><stop offset="0.6447" stop-color="#0099dd"/><stop offset="0.6758" stop-color="#0075dd"/><stop offset="0.6983" stop-color="#0000dd"/><stop offset="0.7397" stop-color="#0000c7"/><stop offset="0.7406" stop-color="#0042dd"/><stop offset="0.7415" stop-color="#00aaa9"/><stop offset="0.7425" stop-color="#00a142"/><stop offset="0.7462" stop-color="#00a142"/><stop offset="0.7472" stop-color="#00aa8a"/><stop offset="0.7481" stop-color="#007add"/><stop offset="0.7491" stop-color="#0000db"/><stop offset="0.7500" stop-color="#0000db"/><stop offset="0.7509" stop-color="#0019dd"/><stop offset="0.7519" stop-color="#0086dd"/><stop offset="0.7528" stop-color="#0097dd"/><stop offset="0.7585" stop-color="#0097dd"/><stop offset="0.7594" stop-color="#00a1c4"/><stop offset="0.7603" stop-color="#00aa8d"/><stop offset="0.7613" stop-color="#00a878"/><stop offset="0.7791" stop-color="#00a878"/><stop offset="0.7810" stop-color="#009b0c"/><stop offset="0.7895" stop-color="#009b0c"/><stop offset="0.7904" stop-color="#00aa8c"/><stop offset="0.7914" stop-color="#009bd6"/><stop offset="0.7951" stop-color="#009bd6"/><stop offset="0.7961" stop-color="#00aaa4"/><stop offset="0.7970" stop-color="#009b0c"/><stop offset="0.8045" stop-color="#009b0c"/><stop offset="0.8055" stop-color="#00aa8c"/><stop offset="0.8064" stop-color="#009bd6"/><stop offset="0.8224" stop-color="#009bd6"/><stop offset="0.8233" stop-color="#008bdd"/><stop offset="0.8242" stop-color="#001cdd"/><stop offset="0.8252" stop-color="#0000db"/><stop offset="0.8299" stop-color="#0000db"/><stop offset="0.8308" stop-color="#0000b3"/><stop offset="0.8318" stop-color="#6d009c"/><stop offset="0.8327" stop-color="#800090"/><stop offset="0.8665" stop-color="#7e008f"/><stop offset="0.9004" stop-color="#770088"/><stop offset="0.9492" stop-color="#300036"/><stop offset="0.9737" stop-color="#1a001e"/><stop offset="1.0000" stop-color="#140016"/></linearGradient>
<linearGradient id="g34"><stop offset="0.0000" stop-color="#7e008f"/><stop offset="0.0028" stop-color="#7e008f"/><stop offset="0.0038" stop-color="#750086"/><stop offset="0.0047" stop-color="#130016"/><stop offset="0.1898" stop-color="#130016"/><stop offset="0.1945" stop-color="#1d0021"/><stop offset="0.1983" stop-color="#2c0033"/><stop offset="0.2021" stop-color="#4a0054"/><stop offset="0.2058" stop-color="#780089"/><stop offset="0.2096" stop-color="#810092"/><stop offset="0.2124" stop-color="#850096"/><stop offset="0.2190" stop-color="#860097"/><stop offset="0.2199" stop-color="#7d009a"/><stop offset="0.2209" stop-color="#4500a1"/><stop offset="0.2218" stop-color="#0800a9"/><stop offset="0.2227" stop-color="#0000b9"/><stop offset="0.2246" stop-color="#0000d9"/><stop offset="0.2331" stop-color="#0000d9"/><stop offset="0.2340" stop-color="#0014dd"/><stop offset="0.2368" stop-color="#006bdd"/><stop offset="0.2378" stop-color="#0078dd"/><stop offset="0.2425" stop-color="#008edd"/><stop offset="0.2575" stop-color="#0099dd"/><stop offset="0.2801" stop-color="#00a1c5"/><stop offset="0.3506" stop-color="#00aaaa"/><stop offset="0.3778" stop-color="#00aaa4"/><stop offset="0.4004" stop-color="#00aa9b"/><stop offset="0.4145" stop-color="#00aa88"/><stop offset="0.4173" stop-color="#00a876"/><stop offset="0.4182" stop-color="#70ff00"/><stop offset="0.4220" stop-color="#70ff00"/><stop offset="0.4229" stop-color="#00a34e"/><stop offset="0.4267" stop-color="#009f33"/><stop offset="0.4380" stop-color="#009a0b"/><stop offset="0.4474" stop-color="#009900"/><stop offset="0.5094" stop-color="#00a800"/><stop offset="0.5395" stop-color="#00a200"/><stop offset="0.5545" stop-color="#009900"/><stop offset="0.5583" stop-color="#009a08"/><stop offset="0.5714" stop-color="#00a34e"/><stop offset="0.5836" stop-color="#00aa86"/><stop offset="0.5977" stop-color="#00aa94"/><stop offset="0.6109" stop-color="#00aaaa"/><stop offset="0.6429" stop-color="#0099dd"/><stop offset="0.6739" stop-color="#0077dd"/><stop offset="0.6767" stop-color="#006bdd"/><stop offset="0.6974" stop-color="#0000dd"/><stop offset="0.6992" stop-color="#0000d9"/><stop offset="0.7397" stop-color="#0000c5"/><stop offset="0.7406" stop-color="#003cdd"/><stop offset="0.7415" stop-color="#00a9ac"/><stop offset="0.7425" stop-color="#00a34e"/><stop offset="0.7462" stop-color="#00a34e"/><stop offset="0.7472" stop-color="#00aa8d"/><stop offset="0.7481" stop-color="#0079dd"/><stop offset="0.7491" stop-color="#0000d9"/><stop offset="0.7500" stop-color="#0000d9"/><stop offset="0.7509" stop-color="#0014dd"/><stop offset="0.7519" stop-color="#0084dd"/><stop offset="0.7528" stop-color="#0095dd"/><stop offset="0.7585" stop-color="#0095dd"/><stop offset="0.7594" stop-color="#00a0c8"/><stop offset="0.7603" stop-color="#00aa90"/><stop offset="0.7613" stop-color="#00a983"/><stop offset="0.7791" stop-color="#00a983"/><stop offset="0.7810" stop-color="#009c18"/><stop offset="0.7895" stop-color="#009c18"/><stop offset="0.7904" stop-color="#00aa8f"/><stop offset="0.7914" stop-color="#009ad9"/><stop offset="0.7951" stop-color="#009ad9"/><stop offset="0.7961" stop-color="#00aaa6"/><stop offset="0.7970" stop-color="#009c18"/><stop offset="0.8045" stop-color="#009c18"/><stop offset="0.8055" stop-color="#00aa8f"/><stop offset="0.8064" stop-color="#009ad9"/><stop offset="0.8224" stop-color="#009ad9"/><stop offset="0.8233" stop-color="#0089dd"/><stop offset="0.8242" stop-color="#0017dd"/><stop offset="0.8252" stop-color="#0000d9"/><stop offset="0.8299" stop-color="#0000d9"/><stop offset="0.8308" stop-color="#0000b1"/><stop offset="0.8318" stop-color="#6d009c"/><stop offset="0.8327" stop-color="#800090"/><stop offset="0.8665" stop-color="#7e008f"/><stop offset="0.9004" stop-color="#770088"/><stop offset="0.9492" stop-color="#300036"/><stop offset="0.9737" stop-color="#1a001e"/><stop offset="1.0000" stop-color="#140016"/></linearGradient>
<linearGradient id="g35"><stop offset="0.0000" stop-color="#7e008f"/><stop offset="0.0028" stop-color="#7e008f"/><stop offset="0.0038" stop-color="#750086"/><stop offset="0.0047" stop-color="#130016"/><stop offset="0.1898" stop-color="#130016"/><stop offset="0.1945" stop-color="#1d0021"/><stop offset="0.1983" stop-color="#2c0033"/><stop offset="0.2021" stop-color="#4a0054"/><stop offset="0.2058" stop-color="#780089"/><stop offset="0.2096" stop-color="#810092"/><stop offset="0.2124" stop-color="#850096"/><stop offset="0.2190" stop-color="#860097"/><stop offset="0.2199" stop-color="#7d009a"/><stop offset="0.2209" stop-color="#4900a1"/><stop offset="0.2218" stop-color="#0c00a8"/><stop offset="0.2227" stop-color="#0000b7"/><stop offset="0.2246" stop-color="#0000d7"/><stop offset="0.2331" stop-color="#0000d7"/><stop offset="0.2340" stop-color="#000fdd"/><stop offset="0.2368" stop-color="#0065dd"/><stop offset="0.2378" stop-color="#0075dd"/><stop offset="0.2425" stop-color="#008cdd"/><stop offset="0.2603" stop-color="#0099dd"/><stop offset="0.2801" stop-color="#00a0c9"/><stop offset="0.3618" stop-color="#00aaaa"/><stop offset="0.4004" stop-color="#00aa9d"/><stop offset="0.4154" stop-color="#00aa8a"/><stop offset="0.4164" stop-color="#00aa88"/><stop offset="0.4173" stop-color="#00a981"/><stop offset="0.4182" stop-color="#00ff00"/><stop offset="0.4220" stop-color="#00ff00"/><stop offset="0.4229" stop-color="#00a459"/><stop offset="0.4267" stop-color="#00a13f"/><stop offset="0.4380" stop-color="#009c18"/><stop offset="0.4577" stop-color="#009900"/><stop offset="0.5094" stop-color="#00a500"/><stop offset="0.5395" stop-color="#009e00"/><stop offset="0.5489" stop-color="#009900"/><stop offset="0.5583" stop-color="#009c15"/><stop offset="0.5714" stop-color="#00a459"/><stop offset="0.5818" stop-color="#00aa88"/><stop offset="0.5977" stop-color="#00aa97"/><stop offset="0.6090" stop-color="#00aaab"/><stop offset="0.6410" stop-color="#0099dd"/><stop offset="0.6720" stop-color="#0077dd"/><stop offset="0.6767" stop-color="#0065dd"/><stop offset="0.6964" stop-color="#0000dd"/><stop offset="0.6992" stop-color="#0000d7"/><stop offset="0.7397" stop-color="#0000c3"/><stop offset="0.7406" stop-color="#0037dd"/><stop offset="0.7415" stop-color="#00a8b0"/><stop offset="0.7425" stop-color="#00a459"/><stop offset="0.7462" stop-color="#00a459"/><stop offset="0.7472" stop-color="#00aa8f"/><stop offset="0.7481" stop-color="#0076dd"/><stop offset="0.7491" stop-color="#0000d7"/><stop offset="0.7500" stop-color="#0000d7"/><stop offset="0.7509" stop-color="#000fdd"/><stop offset="0.7519" stop-color="#0082dd"/><stop offset="0.7528" stop-color="#0093dd"/><stop offset="0.7585" stop-color="#0093dd"/><stop offset="0.7594" stop-color="#009fcb"/><stop offset="0.7603" stop-color="#00aa93"/><stop offset="0.7613" stop-color="#00aa8a"/><stop offset="0.7791" stop-color="#00aa8a"/><stop offset="0.7801" stop-color="#00a459"/><stop offset="0.7810" stop-color="#009e25"/><stop offset="0.7895" stop-color="#009e25"/><stop offset="0.7904" stop-color="#00aa92"/><stop offset="0.7914" stop-color="#0099dc"/><stop offset="0.7951" stop-color="#0099dc"/><stop offset="0.7961" stop-color="#00aaa9"/><stop offset="0.7970" stop-color="#009e25"/><stop offset="0.8045" stop-color="#009e25"/><stop offset="0.8055" stop-color="#00aa92"/><stop offset="0.8064" stop-color="#0099dc"/><stop offset="0.8224" stop-color="#0099dc"/><stop offset="0.8233" stop-color="#0087dd"/><stop offset="0.8242" stop-color="#0011dd"/><stop offset="0.8252" stop-color="#0000d7"/><stop offset="0.8299" stop-color="#0000d7"/><stop offset="0.8308" stop-color="#0000af"/><stop offset="0.8318" stop-color="#6d009c"/><stop offset="0.8327" stop-color="#800090"/><stop offset="0.8665" stop-color="#7e008f"/><stop offset="0.9004" stop-color="#770088"/><stop offset="0.9492" stop-color="#300036"/><stop offset="0.9737" stop-color="#1a001e"/><stop offset="1.0000" stop-color="#140016"/></linearGradient>
<linearGradient id="g36"><stop offset="0.0000" stop-color="#7e008f"/><stop offset="0.0028" stop-color="#7e008f"/><stop offset="0.0038" stop-color="#770088"/><stop offset="0.0047" stop-color="#18001b"/><stop offset="0.1795" stop-color="#18001b"/><stop offset="0.1805" stop-color="#24002a"/><stop offset="0.1852" stop-color="#740084"/><stop offset="0.1861" stop-color="#780089"/><stop offset="0.1964" stop-color="#840095"/><stop offset="0.1974" stop-color="#72009c"/><stop offset="0.1983" stop-color="#3500a3"/><stop offset="0.1992" stop-color="#0000ad"/><stop offset="0.2002" stop-color="#0000c4"/><stop offset="0.2011" stop-color="#0000ce"/><stop offset="0.2030" stop-color="#0000dc"/><stop offset="0.2039" stop-color="#000ddd"/><stop offset="0.2058" stop-color="#002cdd"/><stop offset="0.2068" stop-color="#007bdd"/><stop offset="0.2077" stop-color="#0099dc"/><stop offset="0.2086" stop-color="#00a9ae"/><stop offset="0.2096" stop-color="#00aa8e"/><stop offset="0.2115" stop-color="#009c00"/><stop offset="0.2133" stop-color="#00c500"/><stop offset="0.2143" stop-color="#00ca00"/><stop offset="0.2303" stop-color="#00e400"/><stop offset="0.2340" stop-color="#00fe00"/><stop offset="0.2350" stop-color="#1eff00"/><stop offset="0.2359" stop-color="#43ff00"/><stop offset="0.2368" stop-color="#57ff00"/><stop offset="0.2425" stop-color="#b1ff00"/><stop offset="0.2434" stop-color="#bcff00"/><stop offset="0.2538" stop-color="#e5f100"/><stop offset="0.2575" stop-color="#eeee00"/><stop offset="0.2679" stop-color="#f5df00"/><stop offset="0.3055" stop-color="#eeee00"/><stop offset="0.3318" stop-color="#e4f100"/><stop offset="0.3477" stop-color="#d1f800"/><stop offset="0.4934" stop-color="#cafa00"/><stop offset="0.5348" stop-color="#c0fd00"/><stop offset="0.5385" stop-color="#bbff00"/><stop offset="0.5536" stop-color="#71ff00"/><stop offset="0.5611" stop-color="#03ff00"/><stop offset="0.5620" stop-color="#00ff00"/><stop offset="0.5874" stop-color="#00f200"/><stop offset="0.6438" stop-color="#00e400"/><stop offset="0.6588" stop-color="#00bc00"/><stop offset="0.6664" stop-color="#00a000"/><stop offset="0.6927" stop-color="#009900"/><stop offset="0.6936" stop-color="#009b0f"/><stop offset="0.6983" stop-color="#00a669"/><stop offset="0.6992" stop-color="#00a76f"/><stop offset="0.7086" stop-color="#00aa87"/><stop offset="0.7575" stop-color="#00aaa6"/><stop offset="0.7585" stop-color="#00a000"/><stop offset="0.7622" stop-color="#00a000"/><stop offset="0.7632" stop-color="#00aaa9"/><stop offset="0.7838" stop-color="#00a4bc"/><stop offset="0.7848" stop-color="#00a000"/><stop offset="0.7885" stop-color="#00a000"/><stop offset="0.7895" stop-color="#00a2c1"/><stop offset="0.7942" stop-color="#00a1c5"/><stop offset="0.7951" stop-color="#00a000"/><stop offset="0.7979" stop-color="#00a000"/><stop offset="0.7989" stop-color="#00a0c9"/><stop offset="0.8026" stop-color="#009ecd"/><stop offset="0.8036" stop-color="#00a000"/><stop offset="0.8073" stop-color="#00a000"/><stop offset="0.8083" stop-color="#009dd2"/><stop offset="0.8205" stop-color="#0099dd"/><stop offset="0.8214" stop-color="#00aa9d"/><stop offset="0.8308" stop-color="#00aaaa"/><stop offset="0.8562" stop-color="#0098dd"/><stop offset="0.8797" stop-color="#0077dd"/><stop offset="0.8853" stop-color="#005ddd"/><stop offset="0.9182" stop-color="#0001dd"/><stop offset="0.9370" stop-color="#0000bf"/><stop offset="0.9380" stop-color="#0000b5"/><stop offset="0.9389" stop-color="#0300aa"/><stop offset="0.9427" stop-color="#82009a"/><stop offset="0.9436" stop-color="#880099"/><stop offset="0.9671" stop-color="#7e008f"/><stop offset="0.9709" stop-color="#770088"/><stop offset="0.9746" stop-color="#4a0054"/><stop offset="0.9859" stop-color="#1d0021"/><stop offset="1.0000" stop-color="#18001b"/></linearGradient></defs>
<rect width="640" height="440" fill="#fff"/>
<g><rect x="49.00" y="28.00" width="266.00" height="17.51" fill="url(#g0)"/>
<rect x="49.00" y="44.71" width="266.00" height="17.51" fill="url(#g1)"/>
<rect x="49.00" y="61.43" width="266.00" height="17.51" fill="url(#g2)"/>
<rect x="49.00" y="78.14" width="266.00" height="17.51" fill="url(#g3)"/>
<rect x="49.00" y="94.85" width="266.00" height="17.51" fill="url(#g4)"/>
<rect x="49.00" y="111.57" width="266.00" height="17.51" fill="url(#g5)"/>
<rect x="49.00" y="128.28" width="266.00" height="17.51" fill="url(#g6)"/>
<rect x="49.00" y="145.00" width="266.00" height="17.51" fill="url(#g7)"/>
<rect x="49.00" y="161.71" width="266.00" height="17.51" fill="url(#g8)"/>
<rect x="49.00" y="178.42" width="266.00" height="17.51" fill="url(#g9)"/>
<rect x="49.00" y="195.14" width="266.00" height="17.51" fill="url(#g10)"/>
<rect x="49.00" y="211.85" width="266.00" height="17.51" fill="url(#g11)"/>
<rect x="49.00" y="228.56" width="266.00" height="17.51" fill="url(#g12)"/>
<rect x="49.00" y="245.28" width="266.00" height="17.51" fill="url(#g13)"/>
<rect x="49.00" y="261.99" width="266.00" height="17.51" fill="url(#g14)"/>
<rect x="49.00" y="278.70" width="266.00" height="17.51" fill="url(#g15)"/>
<rect x="49.00" y="295.42" width="266.00" height="17.51" fill="url(#g16)"/>
<rect x="49.00" y="312.13" width="266.00" height="17.51" fill="url(#g17)"/>
<rect x="49.00" y="328.85" width="266.00" height="17.51" fill="url(#g18)"/>
<rect x="49.00" y="345.56" width="266.00" height="17.51" fill="url(#g19)"/>
<rect x="49.00" y="362.27" width="266.00" height="33.43" fill="url(#g0)"/>
<rect x="328.70" y="28.00" width="266.00" height="17.51" fill="url(#g20)"/>
<rect x="328.70" y="44.71" width="266.00" height="17.51" fill="url(#g21)"/>
<rect x="328.70" y="61.43" width="266.00" height="17.51" fill="url(#g2)"/>
<rect x="328.70" y="78.14" width="266.00" height="17.51" fill="url(#g22)"/>
<rect x="328.70" y="94.85" width="266.00" height="17.51" fill="url(#g23)"/>
<rect x="328.70" y="111.57" width="266.00" height="17.51" fill="url(#g24)"/>
<rect x="328.70" y="128.28" width="266.00" height="17.51" fill="url(#g23)"/>
<rect x="328.70" y="145.00" width="266.00" height="17.51" fill="url(#g25)"/>
<rect x="328.70" y="161.71" width="266.00" height="17.51" fill="url(#g26)"/>
<rect x="328.70" y="178.42" width="266.00" height="17.51" fill="url(#g27)"/>
<rect x="328.70" y="195.14" width="266.00" height="17.51" fill="url(#g28)"/>
<rect x="328.70" y="211.85" width="266.00" height="17.51" fill="url(#g29)"/>
<rect x="328.70" y="228.56" width="266.00" height="17.51" fill="url(#g30)"/>
<rect x="328.70" y="245.28" width="266.00" height="17.51" fill="url(#g31)"/>
<rect x="328.70" y="261.99" width="266.00" height="17.51" fill="url(#g32)"/>
<rect x="328.70" y="278.70" width="266.00" height="17.51" fill="url(#g33)"/>
<rect x="328.70" y="295.42" width="266.00" height="17.51" fill="url(#g34)"/>
<rect x="328.70" y="312.13" width="266.00" height="17.51" fill="url(#g35)"/>
<rect x="328.70" y="328.85" width="266.00" height="17.51" fill="url(#g28)"/>
<rect x="328.70" y="345.56" width="266.00" height="17.51" fill="url(#g19)"/>
<rect x="328.70" y="362.27" width="266.00" height="17.51" fill="url(#g1)"/>
<rect x="328.70" y="378.99" width="266.00" height="16.71" fill="url(#g36)"/></g>
<text x="182.00" y="16.30" font-size="16.67" text-anchor="middle" fill="#000">13.7 (LBE7=2039) X</text>
<text x="461.70" y="16.30" font-size="16.67" text-anchor="middle" fill="#000">13.7 (LBE7=2039) Y</text>
<text x="32.40" y="41.76" font-size="13.89" text-anchor="end" fill="#000">On</text>
<text x="611.20" y="41.76" font-size="13.89" text-anchor="start" fill="#000">On</text>
<text x="32.40" y="58.47" font-size="13.89" text-anchor="end" fill="#000">Y</text>
<text x="611.20" y="58.47" font-size="13.89" text-anchor="start" fill="#000">Y</text>
<text x="32.40" y="75.18" font-size="13.89" text-anchor="end" fill="#000">Off</text>
<text x="611.20" y="75.18" font-size="13.89" text-anchor="start" fill="#000">Off</text>
<text x="32.40" y="91.90" font-size="13.89" text-anchor="end" fill="#000">P</text>
<text x="611.20" y="91.90" font-size="13.89" text-anchor="start" fill="#000">P</text>
<text x="32.40" y="108.61" font-size="13.89" text-anchor="end" fill="#000">O</text>
<text x="611.20" y="108.61" font-size="13.89" text-anchor="start" fill="#000">O</text>
<text x="32.40" y="125.33" font-size="13.89" text-anchor="end" fill="#000">N</text>
<text x="611.20" y="125.33" font-size="13.89" text-anchor="start" fill="#000">N</text>
<text x="32.40" y="142.04" font-size="13.89" text-anchor="end" fill="#000">M</text>
<text x="611.20" y="142.04" font-size="13.89" text-anchor="start" fill="#000">M</text>
<text x="32.40" y="158.75" font-size="13.89" text-anchor="end" fill="#000">L</text>
<text x="611.20" y="158.75" font-size="13.89" text-anchor="start" fill="#000">L</text>
<text x="32.40" y="175.47" font-size="13.89" text-anchor="end" fill="#000">K</text>
<text x="611.20" y="175.47" font-size="13.89" text-anchor="start" fill="#000">K</text>
<text x="32.40" y="191.88" font-size="13.89" text-anchor="end" fill="#000">** J</text>
<text x="611.20" y="191.88" font-size="13.89" text-anchor="start" fill="#000">J</text>
<text x="32.40" y="208.89" font-size="13.89" text-anchor="end" fill="#000">I</text>
<text x="611.20" y="208.89" font-size="13.89" text-anchor="start" fill="#000">I</text>
<text x="32.40" y="225.61" font-size="13.89" text-anchor="end" fill="#000">H</text>
<text x="611.20" y="225.61" font-size="13.89" text-anchor="start" fill="#000">H</text>
<text x="32.40" y="242.32" font-size="13.89" text-anchor="end" fill="#000">G</text>
<text x="611.20" y="242.32" font-size="13.89" text-anchor="start" fill="#000">G</text>
<text x="32.40" y="259.03" font-size="13.89" text-anchor="end" fill="#000">F</text>
<text x="611.20" y="259.03" font-size="13.89" text-anchor="start" fill="#000">F **</text>
<text x="32.40" y="275.75" font-size="13.89" text-anchor="end" fill="#000">E</text>
<text x="611.20" y="275.75" font-size="13.89" text-anchor="start" fill="#000">E</text>
<text x="32.40" y="292.46" font-size="13.89" text-anchor="end" fill="#000">D</text>
<text x="611.20" y="292.46" font-size="13.89" text-anchor="start" fill="#000">D</text>
<text x="32.40" y="309.18" font-size="13.89" text-anchor="end" fill="#000">C</text>
<text x="611.20" y="309.18" font-size="13.89" text-anchor="start" fill="#000">C</text>
<text x="32.40" y="325.89" font-size="13.89" text-anchor="end" fill="#000">B</text>
<text x="611.20" y="325.89" font-size="13.89" text-anchor="start" fill="#000">B</text>
<text x="32.40" y="342.60" font-size="13.89" text-anchor="end" fill="#000">A</text>
<text x="611.20" y="342.60" font-size="13.89" text-anchor="start" fill="#000">A</text>
<text x="32.40" y="359.32" font-size="13.89" text-anchor="end" fill="#000">Off</text>
<text x="611.20" y="359.32" font-size="13.89" text-anchor="start" fill="#000">Off</text>
<text x="32.40" y="376.03" font-size="13.89" text-anchor="end" fill="#000">X</text>
<text x="611.20" y="376.03" font-size="13.89" text-anchor="start" fill="#000">X</text>
<text x="32.40" y="392.74" font-size="13.89" text-anchor="end" fill="#000">On</text>
<text x="611.20" y="392.74" font-size="13.89" text-anchor="start" fill="#000">On</text>
<line x1="49.50" x2="49.50" y1="408.2" y2="413.7" stroke="#000" stroke-width="1"/>
<text transform="translate(49.30,425.8) scale(0.94,1)" font-size="9.72" text-anchor="middle" fill="#000">0</text>
<line x1="89.50" x2="89.50" y1="408.2" y2="413.7" stroke="#000" stroke-width="1"/>
<text transform="translate(89.30,425.8) scale(0.94,1)" font-size="9.72" text-anchor="middle" fill="#000">50</text>
<line x1="130.50" x2="130.50" y1="408.2" y2="413.7" stroke="#000" stroke-width="1"/>
<text transform="translate(130.30,425.8) scale(0.94,1)" font-size="9.72" text-anchor="middle" fill="#000">100</text>
<line x1="171.50" x2="171.50" y1="408.2" y2="413.7" stroke="#000" stroke-width="1"/>
<text transform="translate(171.30,425.8) scale(0.94,1)" font-size="9.72" text-anchor="middle" fill="#000">150</text>
<line x1="211.50" x2="211.50" y1="408.2" y2="413.7" stroke="#000" stroke-width="1"/>
<text transform="translate(211.30,425.8) scale(0.94,1)" font-size="9.72" text-anchor="middle" fill="#000">200</text>
<line x1="252.50" x2="252.50" y1="408.2" y2="413.7" stroke="#000" stroke-width="1"/>
<text transform="translate(252.30,425.8) scale(0.94,1)" font-size="9.72" text-anchor="middle" fill="#000">250</text>
<line x1="293.50" x2="293.50" y1="408.2" y2="413.7" stroke="#000" stroke-width="1"/>
<text transform="translate(293.30,425.8) scale(0.94,1)" font-size="9.72" text-anchor="middle" fill="#000">300</text>
<line x1="329.50" x2="329.50" y1="408.2" y2="413.7" stroke="#000" stroke-width="1"/>
<text transform="translate(329.30,425.8) scale(0.94,1)" font-size="9.72" text-anchor="middle" fill="#000">0</text>
<line x1="370.50" x2="370.50" y1="408.2" y2="413.7" stroke="#000" stroke-width="1"/>
<text transform="translate(370.30,425.8) scale(0.94,1)" font-size="9.72" text-anchor="middle" fill="#000">50</text>
<line x1="410.50" x2="410.50" y1="408.2" y2="413.7" stroke="#000" stroke-width="1"/>
<text transform="translate(410.30,425.8) scale(0.94,1)" font-size="9.72" text-anchor="middle" fill="#000">100</text>
<line x1="451.50" x2="451.50" y1="408.2" y2="413.7" stroke="#000" stroke-width="1"/>
<text transform="translate(451.30,425.8) scale(0.94,1)" font-size="9.72" text-anchor="middle" fill="#000">150</text>
<line x1="492.50" x2="492.50" y1="408.2" y2="413.7" stroke="#000" stroke-width="1"/>
<text transform="translate(492.30,425.8) scale(0.94,1)" font-size="9.72" text-anchor="middle" fill="#000">200</text>
<line x1="532.50" x2="532.50" y1="408.2" y2="413.7" stroke="#000" stroke-width="1"/>
<text transform="translate(532.30,425.8) scale(0.94,1)" font-size="9.72" text-anchor="middle" fill="#000">250</text>
<line x1="573.50" x2="573.50" y1="408.2" y2="413.7" stroke="#000" stroke-width="1"/>
<text transform="translate(573.30,425.8) scale(0.94,1)" font-size="9.72" text-anchor="middle" fill="#000">300</text>
<rect x="48.00" y="27" width="2.70" height="256.00" fill="#fff"/>
<rect x="327.70" y="27" width="3.00" height="256.00" fill="#fff"/>
<text x="40.10" y="288.80" font-size="13.89" text-anchor="end" fill="#fff">0</text>
<text x="40.10" y="240.80" font-size="13.89" text-anchor="end" fill="#fff">5</text>
<text x="38.70" y="192.80" font-size="13.89" text-anchor="end" fill="#fff">10</text>
<text x="38.70" y="144.80" font-size="13.89" text-anchor="end" fill="#fff">15</text>
<text x="38.70" y="96.80" font-size="13.89" text-anchor="end" fill="#fff">20</text>
<text x="38.70" y="48.80" font-size="13.89" text-anchor="end" fill="#fff">25</text>
<text x="319.80" y="288.80" font-size="13.89" text-anchor="end" fill="#fff">0</text>
<text x="319.80" y="240.80" font-size="13.89" text-anchor="end" fill="#fff">5</text>
<text x="318.40" y="192.80" font-size="13.89" text-anchor="end" fill="#fff">10</text>
<text x="318.40" y="144.80" font-size="13.89" text-anchor="end" fill="#fff">15</text>
<text x="318.40" y="96.80" font-size="13.89" text-anchor="end" fill="#fff">20</text>
<text x="318.40" y="48.80" font-size="13.89" text-anchor="end" fill="#fff">25</text>
<line x1="69.20" x2="74.60" y1="283.50" y2="283.50" stroke="#fff" stroke-width="1.1"/>
<text x="79.40" y="289.00" font-size="13.89" text-anchor="start" fill="#fff">0</text>
<line x1="69.20" x2="74.60" y1="235.50" y2="235.50" stroke="#fff" stroke-width="1.1"/>
<text x="79.40" y="241.00" font-size="13.89" text-anchor="start" fill="#fff">5</text>
<line x1="69.20" x2="74.60" y1="187.50" y2="187.50" stroke="#fff" stroke-width="1.1"/>
<text x="79.40" y="193.00" font-size="13.89" text-anchor="start" fill="#fff">10</text>
<line x1="69.20" x2="74.60" y1="139.50" y2="139.50" stroke="#fff" stroke-width="1.1"/>
<text x="79.40" y="145.00" font-size="13.89" text-anchor="start" fill="#fff">15</text>
<line x1="69.20" x2="74.60" y1="91.50" y2="91.50" stroke="#fff" stroke-width="1.1"/>
<text x="79.40" y="97.00" font-size="13.89" text-anchor="start" fill="#fff">20</text>
<line x1="69.20" x2="74.60" y1="43.50" y2="43.50" stroke="#fff" stroke-width="1.1"/>
<text x="79.40" y="49.00" font-size="13.89" text-anchor="start" fill="#fff">25</text>
<line x1="348.90" x2="354.30" y1="283.50" y2="283.50" stroke="#fff" stroke-width="1.1"/>
<text x="359.10" y="289.00" font-size="13.89" text-anchor="start" fill="#fff">0</text>
<line x1="348.90" x2="354.30" y1="235.50" y2="235.50" stroke="#fff" stroke-width="1.1"/>
<text x="359.10" y="241.00" font-size="13.89" text-anchor="start" fill="#fff">5</text>
<line x1="348.90" x2="354.30" y1="187.50" y2="187.50" stroke="#fff" stroke-width="1.1"/>
<text x="359.10" y="193.00" font-size="13.89" text-anchor="start" fill="#fff">10</text>
<line x1="348.90" x2="354.30" y1="139.50" y2="139.50" stroke="#fff" stroke-width="1.1"/>
<text x="359.10" y="145.00" font-size="13.89" text-anchor="start" fill="#fff">15</text>
<line x1="348.90" x2="354.30" y1="91.50" y2="91.50" stroke="#fff" stroke-width="1.1"/>
<text x="359.10" y="97.00" font-size="13.89" text-anchor="start" fill="#fff">20</text>
<line x1="348.90" x2="354.30" y1="43.50" y2="43.50" stroke="#fff" stroke-width="1.1"/>
<text x="359.10" y="49.00" font-size="13.89" text-anchor="start" fill="#fff">25</text>
<polyline points="49.5,283.2 99.6,283.2 101.3,281.8 102.6,278.0 110.5,228.0 113.5,211.0 116.0,200.0 118.5,193.0" fill="none" stroke="#fff" stroke-width="3.40" stroke-linejoin="round" stroke-linecap="butt" />
<polyline points="103.4,278.0 111.1,230.0 114.2,212.0 116.8,203.0" fill="none" stroke="#fff" stroke-width="2.20" stroke-linejoin="round" stroke-linecap="butt" />
<polyline points="113.5,208.3 114.8,202.9 116.0,197.9 117.2,194.7 118.5,190.9 119.8,189.4 121.0,189.4 122.2,187.4 123.5,187.6 124.8,186.3 126.0,186.1 127.2,185.1 128.5,186.0 129.8,187.4 131.0,186.6 132.2,186.6 133.5,186.0 134.8,185.0 136.0,185.0 137.2,184.2 138.5,183.8 139.8,183.6 141.0,185.3 142.2,184.6 143.5,184.9 144.8,184.5 146.0,183.4 147.2,182.9 148.5,181.0 149.8,180.8 151.0,179.2 152.2,178.9 153.5,177.3 154.8,174.3 156.0,172.9 157.2,172.6 158.5,173.6 159.8,172.4 161.0,172.4 162.2,171.3 163.5,171.0 164.8,169.6 166.0,168.2 167.2,167.3 168.5,165.6 169.8,164.4 171.0,162.2 172.2,161.1 173.5,159.6 174.8,158.6 176.0,156.9 177.2,155.6 178.5,155.9 179.8,156.0 181.0,155.8 182.2,154.8 183.5,154.4 184.8,153.1 186.0,153.4 187.2,153.6 188.5,154.5 189.8,155.7 191.0,156.6 192.2,157.3 193.5,156.9 194.8,157.8 196.0,158.7 197.2,160.4 198.5,162.1 199.8,164.5 201.0,166.9 202.2,168.1 203.5,170.8 204.8,172.5 206.0,175.3 207.2,176.7 208.5,179.9 209.8,182.2 211.0,183.9 212.2,187.6 213.5,189.3 214.8,191.6 216.0,193.4 217.2,194.8 218.5,196.3 219.8,197.9 221.0,199.9 222.2,201.1 223.5,203.5 224.8,207.0 226.0,208.9 227.2,212.5 228.5,214.8 229.8,216.3 231.0,218.9 232.2,221.5 233.5,224.2 234.8,226.5 236.0,227.9 237.2,229.2 238.5,231.0 239.8,230.5 241.0,229.9 242.2,230.9 243.5,233.1 244.8,236.3 246.0,240.3" fill="none" stroke="#fff" stroke-width="2.40" stroke-linejoin="round" stroke-linecap="butt" />
<polyline points="113.5,209.5 114.8,204.0 116.0,201.0 117.2,198.2 118.5,194.8 119.8,194.4 121.0,193.1 122.2,192.4 123.5,191.1 124.8,190.8 126.0,190.1 127.2,188.0 128.5,188.0 129.8,189.5 131.0,189.6 132.2,187.6 133.5,187.4 134.8,187.0 136.0,185.8 137.2,185.3 138.5,185.0 139.8,185.0 141.0,185.2 142.2,184.5 143.5,184.5 144.8,184.6 146.0,182.5 147.2,182.8 148.5,182.3 149.8,180.7 151.0,179.7 152.2,179.5 153.5,176.7 154.8,174.6 156.0,173.0 157.2,172.3 158.5,170.9 159.8,170.3 161.0,169.6 162.2,169.7 163.5,168.4 164.8,168.0 166.0,166.2 167.2,165.1 168.5,164.1 169.8,163.1 171.0,161.2 172.2,160.1 173.5,159.2 174.8,159.2 176.0,157.8 177.2,158.2 178.5,158.0 179.8,156.6 181.0,156.5 182.2,156.9 183.5,155.9 184.8,155.6 186.0,154.3 187.2,154.8 188.5,156.0 189.8,157.9 191.0,157.5 192.2,158.0 193.5,158.5 194.8,159.0 196.0,160.2 197.2,163.2 198.5,163.8 199.8,165.8 201.0,170.0 202.2,172.5 203.5,175.1 204.8,176.4 206.0,179.7 207.2,181.8 208.5,182.7 209.8,185.8 211.0,188.2 212.2,190.2 213.5,192.2 214.8,193.7 216.0,195.0 217.2,196.1 218.5,197.0 219.8,199.1 221.0,199.8 222.2,201.9 223.5,203.5 224.8,207.1 226.0,209.4 227.2,212.1 228.5,214.3 229.8,216.6 231.0,218.6 232.2,221.1 233.5,224.1 234.8,226.4 236.0,227.9 237.2,229.7 238.5,230.9 239.8,231.1 241.0,232.0 242.2,232.0 243.5,234.2 244.8,236.7 246.0,240.2" fill="none" stroke="#fff" stroke-width="2.40" stroke-linejoin="round" stroke-linecap="butt" />
<polyline points="113.5,210.6 114.8,206.6 116.0,201.0 117.2,198.8 118.5,196.2 119.8,194.2 121.0,193.0 122.2,190.5 123.5,191.0 124.8,191.0 126.0,189.2 127.2,189.3 128.5,189.7 129.8,190.8 131.0,190.4 132.2,190.0 133.5,189.9 134.8,187.7 136.0,186.8 137.2,185.9 138.5,185.2 139.8,184.4 141.0,185.5 142.2,184.8 143.5,183.1 144.8,183.3 146.0,182.4 147.2,182.0 148.5,181.7 149.8,181.9 151.0,181.4 152.2,180.2 153.5,178.6 154.8,177.4 156.0,175.3 157.2,175.2 158.5,174.4 159.8,172.9 161.0,171.4 162.2,170.7 163.5,170.2 164.8,169.6 166.0,169.0 167.2,167.5 168.5,167.4 169.8,166.3 171.0,165.1 172.2,164.4 173.5,163.8 174.8,163.2 176.0,161.6 177.2,161.0 178.5,159.7 179.8,158.5 181.0,158.3 182.2,157.7 183.5,155.7 184.8,155.6 186.0,155.2 187.2,156.9 188.5,158.1 189.8,158.2 191.0,160.0 192.2,160.5 193.5,160.3 194.8,161.4 196.0,162.0 197.2,165.6 198.5,167.4 199.8,169.9 201.0,171.8 202.2,173.6 203.5,175.3 204.8,176.5 206.0,177.3 207.2,179.8 208.5,180.6 209.8,182.9 211.0,186.6 212.2,188.0 213.5,190.9 214.8,193.3 216.0,196.5 217.2,197.1 218.5,198.6 219.8,201.7 221.0,201.9 222.2,204.6 223.5,206.4 224.8,208.8 226.0,211.3 227.2,212.6 228.5,215.1 229.8,215.9 231.0,219.9 232.2,222.3 233.5,225.5 234.8,227.2 236.0,230.2 237.2,232.1 238.5,232.0 239.8,233.2 241.0,234.1 242.2,235.5 243.5,236.9 244.8,239.1 246.0,241.4" fill="none" stroke="#fff" stroke-width="2.40" stroke-linejoin="round" stroke-linecap="butt" />
<polyline points="113.5,210.0 114.8,205.4 116.0,201.4 117.2,198.0 118.5,196.5 119.8,196.1 121.0,194.2 122.2,194.0 123.5,192.3 124.8,192.4 126.0,191.6 127.2,190.6 128.5,190.0 129.8,190.1 131.0,189.8 132.2,189.5 133.5,187.6 134.8,186.9 136.0,187.7 137.2,187.8 138.5,187.3 139.8,187.4 141.0,188.1 142.2,187.2 143.5,187.4 144.8,187.0 146.0,187.1 147.2,185.9 148.5,184.9 149.8,184.8 151.0,184.4 152.2,182.1 153.5,181.4 154.8,179.5 156.0,179.0 157.2,178.0 158.5,177.1 159.8,176.8 161.0,176.0 162.2,176.4 163.5,175.6 164.8,174.2 166.0,173.5 167.2,172.3 168.5,171.7 169.8,169.0 171.0,168.9 172.2,166.4 173.5,165.0 174.8,163.1 176.0,162.3 177.2,161.0 178.5,159.8 179.8,159.1 181.0,159.1 182.2,158.7 183.5,157.3 184.8,157.4 186.0,157.5 187.2,157.4 188.5,157.7 189.8,158.5 191.0,159.7 192.2,159.8 193.5,160.4 194.8,160.4 196.0,160.3 197.2,162.1 198.5,164.2 199.8,166.3 201.0,170.0 202.2,173.1 203.5,175.9 204.8,177.4 206.0,181.0 207.2,182.4 208.5,184.9 209.8,187.6 211.0,188.7 212.2,190.9 213.5,194.4 214.8,195.3 216.0,197.0 217.2,199.0 218.5,201.1 219.8,201.8 221.0,204.6 222.2,207.1 223.5,210.1 224.8,212.6 226.0,216.1 227.2,219.2 228.5,220.4 229.8,222.8 231.0,224.4 232.2,227.1 233.5,230.1 234.8,230.9 236.0,233.3 237.2,234.3 238.5,233.8 239.8,235.8 241.0,235.3 242.2,237.1 243.5,239.6 244.8,241.4 246.0,244.4" fill="none" stroke="#fff" stroke-width="2.40" stroke-linejoin="round" stroke-linecap="butt" />
<polyline points="113.5,211.6 114.8,206.6 116.0,202.0 117.2,198.2 118.5,196.3 119.8,194.6 121.0,194.3 122.2,193.6 123.5,193.0 124.8,192.0 126.0,192.6 127.2,192.4 128.5,191.8 129.8,193.6 131.0,192.9 132.2,191.5 133.5,192.4 134.8,190.4 136.0,190.1 137.2,190.2 138.5,189.7 139.8,189.3 141.0,189.3 142.2,188.9 143.5,188.6 144.8,188.3 146.0,187.8 147.2,188.8 148.5,188.6 149.8,187.9 151.0,187.9 152.2,186.6 153.5,185.4 154.8,184.5 156.0,184.1 157.2,181.5 158.5,181.2 159.8,179.5 161.0,179.1 162.2,177.0 163.5,175.7 164.8,174.5 166.0,173.4 167.2,172.8 168.5,170.9 169.8,170.7 171.0,168.3 172.2,167.6 173.5,166.1 174.8,164.8 176.0,164.6 177.2,163.0 178.5,160.9 179.8,159.9 181.0,159.3 182.2,158.8 183.5,157.9 184.8,156.9 186.0,156.0 187.2,155.9 188.5,157.2 189.8,157.9 191.0,159.2 192.2,160.0 193.5,160.1 194.8,161.0 196.0,163.4 197.2,164.7 198.5,168.8 199.8,171.7 201.0,174.6 202.2,176.4 203.5,178.9 204.8,181.0 206.0,183.1 207.2,185.7 208.5,187.2 209.8,188.6 211.0,191.9 212.2,193.7 213.5,196.4 214.8,199.0 216.0,199.7 217.2,203.3 218.5,205.4 219.8,207.4 221.0,209.7 222.2,211.9 223.5,213.8 224.8,216.7 226.0,217.9 227.2,220.4 228.5,222.3 229.8,223.5 231.0,225.8 232.2,228.7 233.5,230.8 234.8,231.2 236.0,233.5 237.2,234.3 238.5,234.4 239.8,235.6 241.0,236.2 242.2,237.2 243.5,240.5 244.8,243.5 246.0,244.5" fill="none" stroke="#fff" stroke-width="2.40" stroke-linejoin="round" stroke-linecap="butt" />
<polyline points="113.5,211.6 114.8,208.3 116.0,204.3 117.2,202.1 118.5,199.4 119.8,198.9 121.0,198.1 122.2,197.1 123.5,195.6 124.8,195.4 126.0,194.3 127.2,193.1 128.5,193.1 129.8,193.5 131.0,193.6 132.2,193.4 133.5,194.0 134.8,194.3 136.0,194.1 137.2,194.0 138.5,194.7 139.8,194.1 141.0,194.4 142.2,194.9 143.5,194.0 144.8,193.3 146.0,193.8 147.2,192.5 148.5,190.8 149.8,189.7 151.0,188.8 152.2,187.6 153.5,185.4 154.8,183.3 156.0,182.0 157.2,181.7 158.5,179.4 159.8,178.9 161.0,177.4 162.2,176.3 163.5,175.3 164.8,174.5 166.0,173.0 167.2,171.8 168.5,170.8 169.8,169.8 171.0,169.2 172.2,167.2 173.5,165.8 174.8,165.1 176.0,163.6 177.2,162.7 178.5,160.5 179.8,160.3 181.0,159.5 182.2,158.1 183.5,159.2 184.8,157.3 186.0,157.0 187.2,158.8 188.5,159.5 189.8,161.5 191.0,162.1 192.2,162.8 193.5,163.7 194.8,166.0 196.0,166.4 197.2,170.4 198.5,172.9 199.8,176.8 201.0,178.7 202.2,181.4 203.5,183.5 204.8,186.2 206.0,187.6 207.2,188.7 208.5,189.9 209.8,192.7 211.0,194.9 212.2,196.0 213.5,196.9 214.8,198.7 216.0,200.5 217.2,202.4 218.5,204.0 219.8,205.9 221.0,208.9 222.2,211.3 223.5,212.3 224.8,216.0 226.0,217.3 227.2,219.7 228.5,221.7 229.8,223.5 231.0,224.1 232.2,226.9 233.5,229.9 234.8,232.4 236.0,232.1 237.2,233.6 238.5,235.8 239.8,235.2 241.0,236.8 242.2,238.3 243.5,241.7 244.8,244.9 246.0,246.0" fill="none" stroke="#fff" stroke-width="2.40" stroke-linejoin="round" stroke-linecap="butt" />
<polyline points="113.5,213.0 114.8,208.6 116.0,205.4 117.2,203.2 118.5,202.4 119.8,200.1 121.0,198.4 122.2,196.8 123.5,196.6 124.8,195.3 126.0,194.9 127.2,194.1 128.5,194.8 129.8,194.9 131.0,196.2 132.2,195.2 133.5,196.0 134.8,196.2 136.0,195.6 137.2,194.0 138.5,193.7 139.8,194.3 141.0,193.6 142.2,193.9 143.5,194.0 144.8,193.5 146.0,194.0 147.2,193.2 148.5,192.0 149.8,191.2 151.0,189.9 152.2,189.6 153.5,189.0 154.8,186.4 156.0,185.9 157.2,184.1 158.5,183.4 159.8,183.9 161.0,182.4 162.2,180.8 163.5,179.8 164.8,179.2 166.0,177.9 167.2,175.2 168.5,173.8 169.8,173.3 171.0,170.2 172.2,169.4 173.5,167.7 174.8,167.2 176.0,165.8 177.2,165.1 178.5,163.7 179.8,162.1 181.0,161.0 182.2,159.7 183.5,160.1 184.8,157.9 186.0,157.2 187.2,159.7 188.5,159.3 189.8,161.8 191.0,161.5 192.2,163.3 193.5,164.0 194.8,166.1 196.0,166.7 197.2,169.5 198.5,172.3 199.8,175.1 201.0,176.9 202.2,180.3 203.5,182.6 204.8,184.8 206.0,189.0 207.2,191.6 208.5,194.5 209.8,195.8 211.0,198.3 212.2,200.0 213.5,201.9 214.8,202.7 216.0,204.4 217.2,206.2 218.5,207.3 219.8,210.2 221.0,212.8 222.2,214.8 223.5,217.4 224.8,219.5 226.0,221.0 227.2,223.0 228.5,225.0 229.8,225.4 231.0,227.3 232.2,228.7 233.5,231.2 234.8,232.9 236.0,235.6 237.2,236.5 238.5,238.1 239.8,239.3 241.0,240.0 242.2,241.9 243.5,242.9 244.8,244.3 246.0,246.7" fill="none" stroke="#fff" stroke-width="2.40" stroke-linejoin="round" stroke-linecap="butt" />
<polyline points="113.5,213.1 114.8,210.1 116.0,207.1 117.2,205.1 118.5,204.3 119.8,202.1 121.0,201.1 122.2,201.4 123.5,200.1 124.8,199.9 126.0,199.5 127.2,198.2 128.5,198.9 129.8,198.2 131.0,198.2 132.2,197.7 133.5,197.8 134.8,197.5 136.0,196.7 137.2,196.1 138.5,196.1 139.8,196.0 141.0,195.1 142.2,194.8 143.5,195.1 144.8,194.7 146.0,194.0 147.2,193.2 148.5,192.4 149.8,190.5 151.0,188.8 152.2,187.7 153.5,186.5 154.8,185.2 156.0,183.9 157.2,182.8 158.5,183.1 159.8,181.7 161.0,181.5 162.2,181.6 163.5,180.5 164.8,178.8 166.0,177.4 167.2,176.8 168.5,174.7 169.8,173.8 171.0,173.4 172.2,172.3 173.5,170.2 174.8,168.5 176.0,167.4 177.2,166.5 178.5,165.2 179.8,164.1 181.0,163.0 182.2,162.0 183.5,160.9 184.8,160.6 186.0,160.2 187.2,161.8 188.5,162.5 189.8,162.9 191.0,164.3 192.2,164.5 193.5,165.7 194.8,166.1 196.0,167.6 197.2,170.0 198.5,172.7 199.8,175.5 201.0,179.5 202.2,183.1 203.5,185.6 204.8,188.0 206.0,189.9 207.2,190.7 208.5,192.2 209.8,194.9 211.0,196.5 212.2,197.6 213.5,200.0 214.8,201.3 216.0,202.7 217.2,204.7 218.5,206.8 219.8,210.4 221.0,213.1 222.2,215.2 223.5,217.1 224.8,219.5 226.0,221.6 227.2,223.3 228.5,225.0 229.8,226.6 231.0,229.1 232.2,231.0 233.5,233.6 234.8,235.7 236.0,236.8 237.2,237.8 238.5,238.9 239.8,239.7 241.0,241.6 242.2,243.7 243.5,245.5 244.8,247.7 246.0,248.8" fill="none" stroke="#fff" stroke-width="2.40" stroke-linejoin="round" stroke-linecap="butt" />
<polyline points="125.0,191.0 126.0,186.0 127.7,183.0 129.3,186.5 130.0,191.0" fill="none" stroke="#fff" stroke-width="1.60" stroke-linejoin="round" stroke-linecap="butt" />
<polyline points="148.0,186.0 148.8,180.0 150.2,170.5 151.5,178.0 152.2,184.0" fill="none" stroke="#fff" stroke-width="1.60" stroke-linejoin="round" stroke-linecap="butt" />
<polyline points="152.5,182.0 153.0,176.0 155.0,168.0 156.3,160.0 157.0,155.0 157.6,162.0 158.0,175.0" fill="none" stroke="#fff" stroke-width="1.60" stroke-linejoin="round" stroke-linecap="butt" />
<polyline points="174.5,164.0 175.5,158.0 177.3,151.0 178.5,146.6 179.8,151.0 181.5,156.0 182.0,161.0" fill="none" stroke="#fff" stroke-width="1.80" stroke-linejoin="round" stroke-linecap="butt" />
<polyline points="182.5,160.0 183.0,155.0 184.8,151.5 186.2,148.8 187.8,152.0 189.5,156.0 190.5,161.0" fill="none" stroke="#fff" stroke-width="1.80" stroke-linejoin="round" stroke-linecap="butt" />
<polygon points="158.4,178.0 158.5,62.0 159.1,51.0 159.7,47.8 160.4,51.0 161.0,62.0 162.2,90.0 163.2,110.0 163.6,175.0" fill="#fff" />
<polyline points="157.2,119.5 156.9,140.0 155.6,168.0" fill="none" stroke="#fff" stroke-width="1.60" stroke-linejoin="round" stroke-linecap="butt" />
<polygon points="245.2,250.0 245.9,200.0 246.0,156.0 246.8,151.5 248.4,151.5 249.0,156.0 249.6,175.0 250.2,186.0 252.5,187.0 253.3,178.0 254.3,170.0 256.0,168.5 256.8,163.0 257.6,161.0 258.5,163.0 259.3,168.0 260.5,184.0 261.0,176.0 261.5,169.0 262.3,167.3 263.3,168.5 263.9,178.0 264.5,190.0 265.0,226.0 265.7,231.0 266.3,226.0 266.6,223.0 267.3,222.3 268.0,224.0 268.6,232.0 270.0,246.0 271.0,264.0 272.5,266.5 270.3,270.0 269.0,266.0 267.3,255.0 266.5,254.0 263.5,254.0 263.0,246.0 262.0,246.0 261.5,256.0 260.0,258.0 258.3,256.0 258.0,238.0 257.0,238.0 256.5,244.0 251.5,244.0 250.8,250.0 248.5,251.0 248.0,240.0 247.0,240.0 247.0,251.0" fill="#fff" />
<polyline points="270.0,263.0 271.3,267.0 275.0,270.3 279.5,272.3 283.0,271.6 287.0,271.2 290.0,273.0 293.0,275.5 297.0,278.5 300.5,280.7 305.0,282.6 311.0,283.5 315.0,283.5" fill="none" stroke="#fff" stroke-width="3.60" stroke-linejoin="round" stroke-linecap="butt" />
<polyline points="330.0,283.0 380.3,283.0 382.0,281.5 383.2,277.0 385.0,265.0 390.5,222.5 393.0,212.0 395.0,207.0 398.0,200.0" fill="none" stroke="#fff" stroke-width="3.40" stroke-linejoin="round" stroke-linecap="butt" />
<polyline points="384.2,277.0 386.2,265.0 391.6,224.0 394.2,214.0" fill="none" stroke="#fff" stroke-width="2.20" stroke-linejoin="round" stroke-linecap="butt" />
<polyline points="394.5,205.6 395.8,203.3 397.0,201.6 398.3,200.0 399.5,198.5 400.8,197.1 402.0,195.6 403.3,194.2 404.5,192.8 405.8,192.0 407.0,190.8 408.3,190.8 409.6,191.4 410.8,191.9 412.1,190.7 413.3,189.8 414.6,190.3 415.8,188.4 417.1,188.9 418.3,187.6 419.6,186.8 420.9,184.5 422.1,181.6 423.4,179.0 424.6,175.3 425.9,173.9 427.1,171.9 428.4,169.1 429.6,166.8 430.9,165.4 432.1,165.7 433.4,166.1 434.7,166.8 435.9,165.9 437.2,164.7 438.4,163.5 439.7,161.7 440.9,160.2 442.2,160.0 443.4,159.0 444.7,157.5 445.9,157.3 447.2,156.9 448.5,157.3 449.7,157.0 451.0,156.2 452.2,157.3 453.5,155.3 454.7,154.8 456.0,154.2 457.2,151.9 458.5,151.7 459.8,151.3 461.0,151.4 462.3,151.5 463.5,151.1 464.8,151.6 466.0,151.0 467.3,151.4 468.5,151.3 469.8,151.4 471.0,151.4 472.3,152.2 473.6,152.6 474.8,151.9 476.1,152.5 477.3,151.8 478.6,156.6 479.8,160.9 481.1,164.6 482.3,167.2 483.6,169.2 484.8,172.2 486.1,175.6 487.4,178.0 488.6,180.7 489.9,183.1 491.1,185.6 492.4,188.1 493.6,191.3 494.9,193.1 496.1,195.4 497.4,197.6 498.6,200.6 499.9,202.1 501.2,204.3 502.4,206.5 503.7,209.1 504.9,211.1 506.2,213.0 507.4,212.4 508.7,213.0 509.9,213.4 511.2,215.1 512.5,218.2 513.7,220.3 515.0,223.4 516.2,225.9 517.5,226.4 518.7,227.7 520.0,228.8 521.2,229.3 522.5,230.7 523.7,233.3 525.0,235.0" fill="none" stroke="#fff" stroke-width="2.30" stroke-linejoin="round" stroke-linecap="butt" />
<polyline points="394.5,205.8 395.8,203.8 397.0,201.6 398.3,200.9 399.5,199.3 400.8,198.0 402.0,196.2 403.3,194.2 404.5,192.7 405.8,191.1 407.0,191.4 408.3,190.8 409.6,190.8 410.8,190.8 412.1,190.3 413.3,189.7 414.6,189.1 415.8,188.5 417.1,188.5 418.3,187.8 419.6,187.4 420.9,184.3 422.1,182.4 423.4,178.6 424.6,175.2 425.9,173.5 427.1,172.3 428.4,171.2 429.6,169.6 430.9,170.7 432.1,171.2 433.4,170.0 434.7,169.2 435.9,167.2 437.2,165.6 438.4,163.9 439.7,162.1 440.9,162.2 442.2,160.5 443.4,159.9 444.7,161.4 445.9,160.1 447.2,159.3 448.5,159.8 449.7,158.5 451.0,158.9 452.2,158.8 453.5,157.4 454.7,155.5 456.0,153.2 457.2,152.2 458.5,151.5 459.8,151.9 461.0,151.2 462.3,151.5 463.5,150.8 464.8,150.8 466.0,152.1 467.3,152.5 468.5,152.2 469.8,151.9 471.0,152.0 472.3,152.0 473.6,151.6 474.8,152.0 476.1,152.0 477.3,151.8 478.6,155.7 479.8,160.2 481.1,163.4 482.3,167.0 483.6,170.7 484.8,172.9 486.1,176.7 487.4,179.4 488.6,181.6 489.9,183.1 491.1,185.6 492.4,188.1 493.6,190.6 494.9,193.1 496.1,196.4 497.4,199.7 498.6,202.3 499.9,204.3 501.2,207.0 502.4,209.3 503.7,209.8 504.9,212.5 506.2,214.2 507.4,214.3 508.7,214.7 509.9,214.7 511.2,215.3 512.5,219.5 513.7,221.9 515.0,225.8 516.2,228.8 517.5,228.5 518.7,229.1 520.0,230.4 521.2,230.4 522.5,230.6 523.7,232.0 525.0,233.8" fill="none" stroke="#fff" stroke-width="2.30" stroke-linejoin="round" stroke-linecap="butt" />
<polyline points="394.5,206.8 395.8,204.1 397.0,201.8 398.3,200.8 399.5,199.0 400.8,197.9 402.0,198.7 403.3,197.4 404.5,196.5 405.8,196.6 407.0,195.9 408.3,196.9 409.6,196.9 410.8,195.7 412.1,195.3 413.3,194.8 414.6,193.9 415.8,193.6 417.1,191.9 418.3,191.1 419.6,189.4 420.9,188.3 422.1,184.1 423.4,181.2 424.6,178.7 425.9,177.2 427.1,174.2 428.4,173.0 429.6,169.8 430.9,168.3 432.1,167.5 433.4,165.6 434.7,165.3 435.9,163.8 437.2,162.2 438.4,162.1 439.7,159.8 440.9,159.6 442.2,159.4 443.4,158.4 444.7,157.4 445.9,156.8 447.2,156.2 448.5,155.9 449.7,154.2 451.0,155.0 452.2,154.6 453.5,155.0 454.7,155.9 456.0,155.3 457.2,155.2 458.5,155.4 459.8,155.8 461.0,155.0 462.3,155.4 463.5,155.2 464.8,155.1 466.0,155.2 467.3,154.6 468.5,154.4 469.8,154.0 471.0,155.0 472.3,154.7 473.6,155.1 474.8,155.4 476.1,154.5 477.3,155.4 478.6,159.5 479.8,163.4 481.1,165.2 482.3,168.1 483.6,171.5 484.8,173.8 486.1,176.9 487.4,179.4 488.6,183.0 489.9,185.5 491.1,188.0 492.4,188.9 493.6,192.0 494.9,194.1 496.1,195.4 497.4,198.4 498.6,200.8 499.9,202.1 501.2,205.2 502.4,206.5 503.7,208.4 504.9,211.3 506.2,212.9 507.4,212.7 508.7,214.2 509.9,215.4 511.2,216.5 512.5,219.5 513.7,222.8 515.0,226.6 516.2,227.8 517.5,229.5 518.7,230.0 520.0,229.8 521.2,231.0 522.5,232.9 523.7,234.3 525.0,235.4" fill="none" stroke="#fff" stroke-width="2.30" stroke-linejoin="round" stroke-linecap="butt" />
<polyline points="394.5,210.7 395.8,207.3 397.0,206.6 398.3,204.1 399.5,202.6 400.8,201.5 402.0,200.6 403.3,198.6 404.5,195.7 405.8,193.7 407.0,194.6 408.3,193.9 409.6,194.4 410.8,193.6 412.1,193.3 413.3,193.9 414.6,192.6 415.8,190.8 417.1,190.9 418.3,188.9 419.6,187.9 420.9,184.3 422.1,183.2 423.4,179.9 424.6,180.1 425.9,178.7 427.1,177.5 428.4,176.2 429.6,174.3 430.9,170.9 432.1,168.9 433.4,168.2 434.7,166.9 435.9,166.6 437.2,167.1 438.4,167.5 439.7,168.5 440.9,169.3 442.2,169.2 443.4,168.7 444.7,165.8 445.9,163.8 447.2,161.9 448.5,161.1 449.7,159.9 451.0,160.2 452.2,159.9 453.5,161.4 454.7,160.1 456.0,158.2 457.2,157.0 458.5,156.4 459.8,153.8 461.0,154.0 462.3,152.6 463.5,152.4 464.8,153.0 466.0,152.4 467.3,152.9 468.5,153.5 469.8,154.1 471.0,153.2 472.3,154.2 473.6,153.8 474.8,153.4 476.1,152.9 477.3,153.1 478.6,156.7 479.8,161.8 481.1,165.6 482.3,170.5 483.6,173.1 484.8,176.0 486.1,178.7 487.4,182.6 488.6,184.9 489.9,186.8 491.1,188.6 492.4,191.3 493.6,194.3 494.9,197.6 496.1,199.8 497.4,202.9 498.6,204.8 499.9,207.9 501.2,209.6 502.4,210.3 503.7,211.2 504.9,213.9 506.2,214.1 507.4,214.9 508.7,215.2 509.9,216.8 511.2,218.2 512.5,221.0 513.7,222.9 515.0,225.7 516.2,226.7 517.5,227.2 518.7,227.0 520.0,227.9 521.2,228.2 522.5,230.1 523.7,232.7 525.0,234.9" fill="none" stroke="#fff" stroke-width="2.30" stroke-linejoin="round" stroke-linecap="butt" />
<polyline points="394.5,213.7 395.8,210.4 397.0,207.3 398.3,205.3 399.5,205.2 400.8,202.2 402.0,201.6 403.3,199.8 404.5,197.2 405.8,197.1 407.0,196.7 408.3,196.1 409.6,196.4 410.8,196.8 412.1,195.5 413.3,196.0 414.6,195.5 415.8,195.3 417.1,194.1 418.3,192.9 419.6,191.0 420.9,188.8 422.1,185.2 423.4,182.2 424.6,179.3 425.9,177.6 427.1,176.7 428.4,176.0 429.6,174.0 430.9,174.1 432.1,172.5 433.4,171.0 434.7,169.1 435.9,167.3 437.2,165.3 438.4,163.0 439.7,164.0 440.9,164.4 442.2,164.8 443.4,165.3 444.7,165.6 445.9,163.8 447.2,164.8 448.5,163.5 449.7,162.4 451.0,161.8 452.2,161.8 453.5,160.0 454.7,159.7 456.0,159.2 457.2,157.5 458.5,156.9 459.8,157.4 461.0,157.9 462.3,158.2 463.5,157.9 464.8,157.6 466.0,156.1 467.3,155.6 468.5,155.2 469.8,155.6 471.0,155.1 472.3,156.2 473.6,155.9 474.8,157.0 476.1,158.8 477.3,161.0 478.6,164.5 479.8,167.9 481.1,169.7 482.3,172.2 483.6,174.1 484.8,176.1 486.1,177.7 487.4,181.5 488.6,182.7 489.9,186.7 491.1,189.5 492.4,190.7 493.6,194.2 494.9,197.4 496.1,199.8 497.4,200.9 498.6,202.3 499.9,203.9 501.2,207.0 502.4,207.5 503.7,209.9 504.9,211.1 506.2,213.7 507.4,215.5 508.7,215.2 509.9,217.7 511.2,218.5 512.5,222.1 513.7,224.5 515.0,226.2 516.2,229.6 517.5,229.3 518.7,229.0 520.0,229.6 521.2,231.5 522.5,233.3 523.7,235.3 525.0,237.7" fill="none" stroke="#fff" stroke-width="2.30" stroke-linejoin="round" stroke-linecap="butt" />
<polyline points="394.5,211.4 395.8,208.4 397.0,205.2 398.3,205.3 399.5,204.2 400.8,203.9 402.0,201.9 403.3,201.1 404.5,200.2 405.8,200.0 407.0,198.6 408.3,197.7 409.6,197.6 410.8,197.5 412.1,197.2 413.3,197.5 414.6,199.2 415.8,198.4 417.1,199.5 418.3,197.9 419.6,197.2 420.9,195.6 422.1,192.3 423.4,189.8 424.6,188.5 425.9,186.7 427.1,185.3 428.4,184.0 429.6,183.5 430.9,182.9 432.1,181.5 433.4,180.4 434.7,177.2 435.9,176.0 437.2,172.9 438.4,170.8 439.7,168.8 440.9,167.2 442.2,166.4 443.4,167.5 444.7,165.5 445.9,165.0 447.2,164.4 448.5,163.6 449.7,163.3 451.0,162.4 452.2,159.8 453.5,159.2 454.7,157.0 456.0,156.3 457.2,155.2 458.5,154.5 459.8,154.6 461.0,154.9 462.3,156.3 463.5,155.6 464.8,154.8 466.0,155.7 467.3,155.4 468.5,154.0 469.8,153.2 471.0,153.7 472.3,154.2 473.6,155.7 474.8,156.5 476.1,158.6 477.3,160.6 478.6,164.8 479.8,169.0 481.1,171.4 482.3,173.1 483.6,175.5 484.8,178.1 486.1,180.6 487.4,183.5 488.6,186.0 489.9,189.5 491.1,193.9 492.4,195.5 493.6,198.7 494.9,201.2 496.1,203.5 497.4,204.0 498.6,205.7 499.9,207.3 501.2,209.4 502.4,211.5 503.7,214.4 504.9,216.4 506.2,218.2 507.4,217.8 508.7,218.9 509.9,220.9 511.2,222.1 512.5,223.4 513.7,225.7 515.0,226.8 516.2,229.5 517.5,231.1 518.7,231.6 520.0,232.5 521.2,233.8 522.5,234.2 523.7,235.9 525.0,238.1" fill="none" stroke="#fff" stroke-width="2.30" stroke-linejoin="round" stroke-linecap="butt" />
<polyline points="394.5,216.3 395.8,212.4 397.0,209.3 398.3,207.5 399.5,205.2 400.8,205.1 402.0,202.5 403.3,202.5 404.5,201.1 405.8,199.9 407.0,199.7 408.3,200.3 409.6,201.3 410.8,201.6 412.1,200.3 413.3,199.5 414.6,199.3 415.8,198.2 417.1,196.7 418.3,195.4 419.6,195.4 420.9,192.9 422.1,191.9 423.4,190.9 424.6,190.6 425.9,188.6 427.1,186.9 428.4,183.4 429.6,179.5 430.9,176.5 432.1,175.5 433.4,173.4 434.7,171.8 435.9,170.9 437.2,171.8 438.4,172.0 439.7,171.3 440.9,170.6 442.2,170.3 443.4,168.8 444.7,165.4 445.9,162.8 447.2,162.5 448.5,162.2 449.7,162.7 451.0,162.3 452.2,164.0 453.5,164.4 454.7,163.0 456.0,161.0 457.2,160.6 458.5,158.1 459.8,158.4 461.0,156.8 462.3,156.6 463.5,157.7 464.8,157.2 466.0,158.8 467.3,158.3 468.5,157.9 469.8,157.9 471.0,159.0 472.3,160.1 473.6,161.2 474.8,160.2 476.1,161.8 477.3,163.0 478.6,167.8 479.8,170.2 481.1,173.3 482.3,176.4 483.6,179.8 484.8,183.1 486.1,185.2 487.4,186.9 488.6,189.2 489.9,191.0 491.1,192.1 492.4,194.3 493.6,198.1 494.9,200.3 496.1,201.4 497.4,204.8 498.6,206.2 499.9,207.8 501.2,209.2 502.4,210.3 503.7,211.4 504.9,213.4 506.2,214.9 507.4,216.8 508.7,216.4 509.9,219.1 511.2,219.1 512.5,222.2 513.7,225.6 515.0,228.0 516.2,229.3 517.5,228.9 518.7,230.1 520.0,230.6 521.2,232.6 522.5,233.1 523.7,235.8 525.0,239.5" fill="none" stroke="#fff" stroke-width="2.30" stroke-linejoin="round" stroke-linecap="butt" />
<polyline points="394.5,213.4 395.8,209.5 397.0,207.0 398.3,206.6 399.5,203.9 400.8,203.2 402.0,201.8 403.3,199.4 404.5,198.1 405.8,198.4 407.0,197.8 408.3,197.6 409.6,198.9 410.8,198.6 412.1,198.6 413.3,197.9 414.6,198.8 415.8,198.3 417.1,196.8 418.3,196.5 419.6,194.0 420.9,192.8 422.1,191.6 423.4,191.2 424.6,190.6 425.9,189.3 427.1,188.6 428.4,188.0 429.6,186.5 430.9,185.4 432.1,182.2 433.4,181.3 434.7,179.4 435.9,178.2 437.2,177.3 438.4,176.7 439.7,176.4 440.9,176.9 442.2,177.2 443.4,176.8 444.7,173.5 445.9,171.2 447.2,171.0 448.5,168.9 449.7,167.4 451.0,166.5 452.2,167.0 453.5,166.5 454.7,166.5 456.0,165.1 457.2,163.9 458.5,161.7 459.8,161.2 461.0,160.8 462.3,160.9 463.5,160.6 464.8,159.4 466.0,158.3 467.3,158.3 468.5,158.4 469.8,158.5 471.0,159.8 472.3,161.5 473.6,162.7 474.8,163.1 476.1,166.2 477.3,166.7 478.6,169.3 479.8,171.3 481.1,174.0 482.3,175.3 483.6,177.9 484.8,180.7 486.1,183.5 487.4,187.9 488.6,190.3 489.9,192.5 491.1,195.1 492.4,198.4 493.6,199.2 494.9,200.3 496.1,202.8 497.4,204.2 498.6,206.6 499.9,207.0 501.2,209.9 502.4,212.8 503.7,215.0 504.9,217.2 506.2,217.0 507.4,218.2 508.7,218.4 509.9,218.9 511.2,220.8 512.5,222.4 513.7,225.4 515.0,227.0 516.2,230.4 517.5,230.6 518.7,231.3 520.0,233.3 521.2,234.7 522.5,234.5 523.7,237.1 525.0,239.1" fill="none" stroke="#fff" stroke-width="2.30" stroke-linejoin="round" stroke-linecap="butt" />
<polyline points="394.5,217.1 395.8,212.8 397.0,210.1 398.3,207.4 399.5,206.0 400.8,205.4 402.0,204.9 403.3,203.0 404.5,202.4 405.8,201.2 407.0,201.5 408.3,200.5 409.6,199.0 410.8,198.5 412.1,198.4 413.3,198.1 414.6,197.7 415.8,196.2 417.1,196.0 418.3,196.7 419.6,196.1 420.9,194.8 422.1,193.5 423.4,193.3 424.6,191.1 425.9,190.6 427.1,189.1 428.4,187.9 429.6,187.1 430.9,185.9 432.1,183.5 433.4,181.7 434.7,181.1 435.9,178.6 437.2,176.7 438.4,176.8 439.7,174.9 440.9,174.9 442.2,173.7 443.4,173.4 444.7,171.3 445.9,169.3 447.2,169.0 448.5,170.1 449.7,170.3 451.0,171.0 452.2,169.6 453.5,170.5 454.7,168.2 456.0,166.4 457.2,163.5 458.5,162.3 459.8,162.2 461.0,162.5 462.3,160.5 463.5,160.7 464.8,160.8 466.0,160.7 467.3,158.9 468.5,158.5 469.8,159.7 471.0,160.8 472.3,161.3 473.6,162.0 474.8,165.0 476.1,166.3 477.3,169.7 478.6,172.1 479.8,175.4 481.1,176.8 482.3,180.4 483.6,181.7 484.8,184.3 486.1,187.3 487.4,189.5 488.6,190.4 489.9,192.5 491.1,194.9 492.4,197.3 493.6,198.9 494.9,200.4 496.1,202.6 497.4,205.5 498.6,207.8 499.9,208.3 501.2,211.4 502.4,213.8 503.7,214.4 504.9,217.8 506.2,217.8 507.4,219.6 508.7,220.3 509.9,221.2 511.2,221.6 512.5,224.1 513.7,226.7 515.0,228.7 516.2,231.1 517.5,231.3 518.7,231.8 520.0,231.6 521.2,233.5 522.5,234.7 523.7,236.2 525.0,239.5" fill="none" stroke="#fff" stroke-width="2.30" stroke-linejoin="round" stroke-linecap="butt" />
<polyline points="394.5,217.3 395.8,212.6 397.0,210.6 398.3,208.3 399.5,208.3 400.8,207.8 402.0,206.1 403.3,206.5 404.5,205.3 405.8,206.0 407.0,205.7 408.3,205.2 409.6,204.2 410.8,204.5 412.1,203.7 413.3,204.1 414.6,202.0 415.8,202.7 417.1,202.3 418.3,201.3 419.6,201.1 420.9,198.9 422.1,198.9 423.4,196.7 424.6,196.3 425.9,195.2 427.1,192.6 428.4,192.4 429.6,191.0 430.9,187.9 432.1,186.8 433.4,185.7 434.7,182.7 435.9,182.1 437.2,179.1 438.4,178.1 439.7,175.4 440.9,174.9 442.2,174.8 443.4,172.1 444.7,170.7 445.9,169.6 447.2,169.2 448.5,168.9 449.7,169.4 451.0,169.7 452.2,171.4 453.5,171.1 454.7,169.8 456.0,166.6 457.2,165.6 458.5,163.0 459.8,163.4 461.0,163.2 462.3,162.2 463.5,162.7 464.8,161.6 466.0,161.1 467.3,161.2 468.5,159.4 469.8,160.7 471.0,161.1 472.3,162.1 473.6,164.2 474.8,164.8 476.1,168.3 477.3,170.0 478.6,172.3 479.8,175.7 481.1,177.6 482.3,179.4 483.6,182.6 484.8,183.5 486.1,187.0 487.4,188.1 488.6,190.8 489.9,193.4 491.1,194.7 492.4,197.0 493.6,198.4 494.9,199.8 496.1,202.0 497.4,204.4 498.6,207.4 499.9,209.3 501.2,211.7 502.4,214.6 503.7,215.4 504.9,217.6 506.2,219.8 507.4,219.8 508.7,220.8 509.9,222.5 511.2,223.2 512.5,226.0 513.7,228.1 515.0,231.1 516.2,233.2 517.5,233.3 518.7,234.9 520.0,235.6 521.2,236.0 522.5,238.7 523.7,239.5 525.0,242.0" fill="none" stroke="#fff" stroke-width="2.30" stroke-linejoin="round" stroke-linecap="butt" />
<polyline points="394.5,221.0 395.8,214.8 397.0,211.2 398.3,209.9 399.5,209.0 400.8,207.7 402.0,207.0 403.3,206.3 404.5,206.2 405.8,205.9 407.0,205.0 408.3,205.5 409.6,204.1 410.8,204.9 412.1,204.5 413.3,204.0 414.6,203.5 415.8,204.6 417.1,203.1 418.3,203.3 419.6,203.2 420.9,200.5 422.1,199.5 423.4,199.5 424.6,198.9 425.9,198.8 427.1,198.0 428.4,195.7 429.6,194.4 430.9,192.0 432.1,189.0 433.4,188.0 434.7,185.6 435.9,183.8 437.2,181.6 438.4,182.6 439.7,182.2 440.9,181.5 442.2,181.4 443.4,178.8 444.7,175.5 445.9,172.0 447.2,170.8 448.5,169.0 449.7,168.4 451.0,168.5 452.2,168.2 453.5,168.7 454.7,167.2 456.0,165.0 457.2,163.8 458.5,162.3 459.8,162.4 461.0,161.3 462.3,160.1 463.5,160.1 464.8,160.2 466.0,158.6 467.3,159.7 468.5,158.3 469.8,158.9 471.0,160.3 472.3,162.9 473.6,164.8 474.8,165.6 476.1,166.6 477.3,169.1 478.6,170.4 479.8,172.9 481.1,176.8 482.3,179.3 483.6,182.6 484.8,185.8 486.1,188.9 487.4,191.1 488.6,193.9 489.9,196.4 491.1,198.9 492.4,201.0 493.6,203.2 494.9,204.7 496.1,206.2 497.4,208.3 498.6,211.1 499.9,212.1 501.2,214.7 502.4,215.8 503.7,217.4 504.9,219.4 506.2,221.1 507.4,221.9 508.7,222.6 509.9,223.4 511.2,224.6 512.5,227.8 513.7,230.0 515.0,232.3 516.2,234.3 517.5,234.5 518.7,236.1 520.0,236.8 521.2,237.9 522.5,238.8 523.7,240.6 525.0,242.0" fill="none" stroke="#fff" stroke-width="2.30" stroke-linejoin="round" stroke-linecap="butt" />
<polyline points="394.5,219.7 395.8,213.5 397.0,210.1 398.3,209.5 399.5,208.7 400.8,207.9 402.0,207.0 403.3,206.5 404.5,205.6 405.8,205.0 407.0,204.7 408.3,205.5 409.6,204.4 410.8,204.5 412.1,204.5 413.3,203.6 414.6,203.9 415.8,203.8 417.1,204.4 418.3,203.6 419.6,203.3 420.9,203.5 422.1,201.8 423.4,201.3 424.6,199.8 425.9,197.7 427.1,197.3 428.4,196.0 429.6,195.6 430.9,193.7 432.1,193.3 433.4,191.8 434.7,190.0 435.9,189.9 437.2,186.3 438.4,184.8 439.7,181.1 440.9,179.0 442.2,178.2 443.4,177.8 444.7,176.6 445.9,173.3 447.2,174.3 448.5,174.2 449.7,174.3 451.0,172.3 452.2,171.9 453.5,170.6 454.7,169.1 456.0,166.0 457.2,165.4 458.5,163.4 459.8,163.1 461.0,163.4 462.3,163.0 463.5,162.0 464.8,162.4 466.0,161.2 467.3,161.6 468.5,161.1 469.8,160.7 471.0,161.9 472.3,163.0 473.6,164.5 474.8,165.9 476.1,168.8 477.3,169.9 478.6,173.8 479.8,175.1 481.1,177.9 482.3,180.6 483.6,183.8 484.8,185.9 486.1,188.2 487.4,191.4 488.6,193.2 489.9,196.1 491.1,198.7 492.4,201.4 493.6,203.4 494.9,204.9 496.1,205.7 497.4,207.1 498.6,208.4 499.9,211.5 501.2,213.3 502.4,215.7 503.7,217.0 504.9,219.7 506.2,221.1 507.4,222.2 508.7,222.4 509.9,223.7 511.2,225.3 512.5,226.4 513.7,228.8 515.0,231.6 516.2,234.3 517.5,235.2 518.7,235.6 520.0,236.4 521.2,237.5 522.5,238.6 523.7,240.6 525.0,242.6" fill="none" stroke="#fff" stroke-width="2.30" stroke-linejoin="round" stroke-linecap="butt" />
<polyline points="404.5,197.0 405.5,190.0 407.5,182.3 409.3,188.0 410.5,196.0" fill="none" stroke="#fff" stroke-width="1.70" stroke-linejoin="round" stroke-linecap="butt" />
<polyline points="429.2,176.0 429.6,166.0 430.6,150.0 431.0,142.3 431.5,150.0 432.3,164.0 432.8,172.0" fill="none" stroke="#fff" stroke-width="1.70" stroke-linejoin="round" stroke-linecap="butt" />
<polyline points="455.0,158.0 456.0,152.0 457.4,144.0 458.7,129.8 460.0,144.0 461.3,151.0 462.3,157.0" fill="none" stroke="#fff" stroke-width="1.90" stroke-linejoin="round" stroke-linecap="butt" />
<polygon points="438.8,172.0 439.0,70.0 439.8,58.0 440.4,55.8 441.0,58.0 441.7,70.0 442.6,100.0 443.2,130.0 443.3,170.0" fill="#fff" />
<polygon points="525.0,246.0 525.6,200.0 526.0,150.0 526.6,141.0 527.5,139.3 528.6,141.0 529.3,150.0 530.2,160.0 530.7,150.0 531.3,143.5 532.3,142.3 533.3,143.5 533.8,150.0 534.4,160.0 537.0,160.0 537.3,155.0 538.0,152.6 539.0,153.0 540.0,155.0 541.0,152.8 542.0,152.8 543.3,154.0 544.2,162.0 545.5,174.0 546.0,188.0 548.4,188.0 548.6,194.0 550.0,194.0 550.5,215.0 551.0,262.5 549.0,262.5 548.7,240.0 548.0,226.0 547.0,230.0 543.0,230.0 543.0,212.0 541.5,212.0 541.5,237.0 539.0,237.0 538.7,216.0 536.0,216.0 536.0,200.0 534.0,200.0 534.0,215.0 533.0,215.0 533.0,200.0 532.5,200.0 531.5,210.0 531.5,240.0 527.5,240.0 527.0,246.0" fill="#fff" />
<polyline points="550.0,258.0 550.7,262.5 556.0,266.0 562.5,270.0 569.0,272.0 575.0,273.7 580.0,277.5 585.0,281.2 590.0,283.0 595.5,283.0" fill="none" stroke="#fff" stroke-width="3.50" stroke-linejoin="round" stroke-linecap="butt" />
</svg></body></html>
